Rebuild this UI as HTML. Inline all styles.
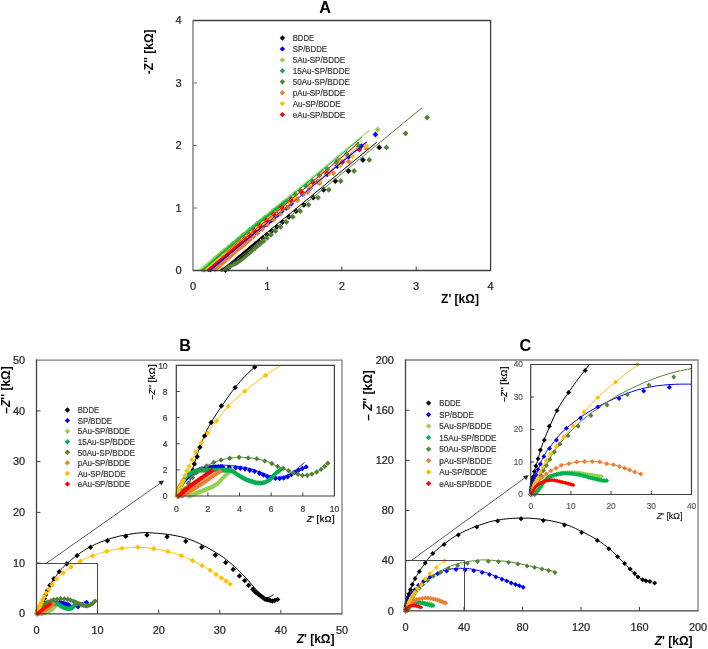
<!DOCTYPE html><html><head><meta charset="utf-8"><style>html,body{margin:0;padding:0;background:#fff;}svg{display:block;will-change:transform;}</style></head><body><svg width="708" height="649" viewBox="0 0 708 649" font-family='"Liberation Sans", sans-serif'><rect width="708" height="649" fill="#fff"/><text x="325" y="12.9" font-size="16.2" text-anchor="middle" font-weight="bold" fill="#000" >A</text><text x="460" y="302.8" font-size="12" text-anchor="middle" font-weight="bold" fill="#000" >Z' [kΩ]</text><g transform="translate(153.2 51.8) rotate(-90)"><text x="0" y="0" font-size="12" text-anchor="middle" font-weight="bold" fill="#000" >-Z'' [kΩ]</text></g><text x="193" y="289.7" font-size="10.3" text-anchor="middle" font-weight="normal" fill="#262626" stroke="#262626" stroke-width="0.22" textLength="6.2" lengthAdjust="spacingAndGlyphs">0</text><text x="181.8" y="274.2" font-size="10.3" text-anchor="end" font-weight="normal" fill="#262626" stroke="#262626" stroke-width="0.22" textLength="6.2" lengthAdjust="spacingAndGlyphs">0</text><text x="267.4" y="289.7" font-size="10.3" text-anchor="middle" font-weight="normal" fill="#262626" stroke="#262626" stroke-width="0.22" textLength="6.2" lengthAdjust="spacingAndGlyphs">1</text><text x="181.8" y="211.7" font-size="10.3" text-anchor="end" font-weight="normal" fill="#262626" stroke="#262626" stroke-width="0.22" textLength="6.2" lengthAdjust="spacingAndGlyphs">1</text><text x="341.8" y="289.7" font-size="10.3" text-anchor="middle" font-weight="normal" fill="#262626" stroke="#262626" stroke-width="0.22" textLength="6.2" lengthAdjust="spacingAndGlyphs">2</text><text x="181.8" y="149.2" font-size="10.3" text-anchor="end" font-weight="normal" fill="#262626" stroke="#262626" stroke-width="0.22" textLength="6.2" lengthAdjust="spacingAndGlyphs">2</text><text x="416.2" y="289.7" font-size="10.3" text-anchor="middle" font-weight="normal" fill="#262626" stroke="#262626" stroke-width="0.22" textLength="6.2" lengthAdjust="spacingAndGlyphs">3</text><text x="181.8" y="86.7" font-size="10.3" text-anchor="end" font-weight="normal" fill="#262626" stroke="#262626" stroke-width="0.22" textLength="6.2" lengthAdjust="spacingAndGlyphs">3</text><text x="490.6" y="289.7" font-size="10.3" text-anchor="middle" font-weight="normal" fill="#262626" stroke="#262626" stroke-width="0.22" textLength="6.2" lengthAdjust="spacingAndGlyphs">4</text><text x="181.8" y="24.2" font-size="10.3" text-anchor="end" font-weight="normal" fill="#262626" stroke="#262626" stroke-width="0.22" textLength="6.2" lengthAdjust="spacingAndGlyphs">4</text><path fill="#000000" d="M379.3 144.5l2.9 2.9l-2.9 2.9l-2.9 -2.9zM362.9 157l2.9 2.9l-2.9 2.9l-2.9 -2.9zM348.3 168.1l2.9 2.9l-2.9 2.9l-2.9 -2.9zM335.2 178.1l2.9 2.9l-2.9 2.9l-2.9 -2.9zM323.6 186.9l2.9 2.9l-2.9 2.9l-2.9 -2.9zM313.2 194.8l2.9 2.9l-2.9 2.9l-2.9 -2.9zM303.9 201.9l2.9 2.9l-2.9 2.9l-2.9 -2.9zM296 208.3l2.9 2.9l-2.9 2.9l-2.9 -2.9zM288.9 214l2.9 2.9l-2.9 2.9l-2.9 -2.9zM282.5 219.2l2.9 2.9l-2.9 2.9l-2.9 -2.9zM276.8 223.9l2.9 2.9l-2.9 2.9l-2.9 -2.9zM271.6 228.1l2.9 2.9l-2.9 2.9l-2.9 -2.9zM266.9 231.9l2.9 2.9l-2.9 2.9l-2.9 -2.9zM262.7 235.2l2.9 2.9l-2.9 2.9l-2.9 -2.9zM259 238.3l2.9 2.9l-2.9 2.9l-2.9 -2.9zM255.7 240.9l2.9 2.9l-2.9 2.9l-2.9 -2.9zM254.9 241.6l2.9 2.9l-2.9 2.9l-2.9 -2.9zM252.6 243.6l2.9 2.9l-2.9 2.9l-2.9 -2.9zM250.4 245.5l2.9 2.9l-2.9 2.9l-2.9 -2.9zM248.1 247.5l2.9 2.9l-2.9 2.9l-2.9 -2.9zM245.8 249.4l2.9 2.9l-2.9 2.9l-2.9 -2.9zM243.5 251.4l2.9 2.9l-2.9 2.9l-2.9 -2.9zM241.3 253.3l2.9 2.9l-2.9 2.9l-2.9 -2.9zM239 255.3l2.9 2.9l-2.9 2.9l-2.9 -2.9zM236.7 257.3l2.9 2.9l-2.9 2.9l-2.9 -2.9zM234.5 259.3l2.9 2.9l-2.9 2.9l-2.9 -2.9zM232.3 261.3l2.9 2.9l-2.9 2.9l-2.9 -2.9zM230.1 263.3l2.9 2.9l-2.9 2.9l-2.9 -2.9zM227.8 265.3l2.9 2.9l-2.9 2.9l-2.9 -2.9zM225.5 267.2l2.9 2.9l-2.9 2.9l-2.9 -2.9z"/><path fill="#0000FF" d="M375.5 131.6l2.9 2.9l-2.9 2.9l-2.9 -2.9zM361.2 143.3l2.9 2.9l-2.9 2.9l-2.9 -2.9zM348.5 153.8l2.9 2.9l-2.9 2.9l-2.9 -2.9zM337.2 163.1l2.9 2.9l-2.9 2.9l-2.9 -2.9zM327.1 171.4l2.9 2.9l-2.9 2.9l-2.9 -2.9zM318.1 178.7l2.9 2.9l-2.9 2.9l-2.9 -2.9zM310.1 185.3l2.9 2.9l-2.9 2.9l-2.9 -2.9zM303 191.1l2.9 2.9l-2.9 2.9l-2.9 -2.9zM296.7 196.3l2.9 2.9l-2.9 2.9l-2.9 -2.9zM291.1 200.9l2.9 2.9l-2.9 2.9l-2.9 -2.9zM286.1 205.1l2.9 2.9l-2.9 2.9l-2.9 -2.9zM281.6 208.7l2.9 2.9l-2.9 2.9l-2.9 -2.9zM277.6 212l2.9 2.9l-2.9 2.9l-2.9 -2.9zM274.1 214.9l2.9 2.9l-2.9 2.9l-2.9 -2.9zM271 217.5l2.9 2.9l-2.9 2.9l-2.9 -2.9zM268.2 219.8l2.9 2.9l-2.9 2.9l-2.9 -2.9zM265.7 221.8l2.9 2.9l-2.9 2.9l-2.9 -2.9z"/><path fill="#0000FF" d="M263.5 224.2l2.3 2.3l-2.3 2.3l-2.3 -2.3zM261.5 225.8l2.3 2.3l-2.3 2.3l-2.3 -2.3zM259.7 227.3l2.3 2.3l-2.3 2.3l-2.3 -2.3zM258.2 228.6l2.3 2.3l-2.3 2.3l-2.3 -2.3zM256.8 229.7l2.3 2.3l-2.3 2.3l-2.3 -2.3zM255.5 230.7l2.3 2.3l-2.3 2.3l-2.3 -2.3zM254.4 231.7l2.3 2.3l-2.3 2.3l-2.3 -2.3zM253.2 232.6l2.3 2.3l-2.3 2.3l-2.3 -2.3zM252.1 233.6l2.3 2.3l-2.3 2.3l-2.3 -2.3zM250.9 234.5l2.3 2.3l-2.3 2.3l-2.3 -2.3zM249.7 235.5l2.3 2.3l-2.3 2.3l-2.3 -2.3zM248.6 236.4l2.3 2.3l-2.3 2.3l-2.3 -2.3zM247.4 237.4l2.3 2.3l-2.3 2.3l-2.3 -2.3zM246.3 238.3l2.3 2.3l-2.3 2.3l-2.3 -2.3zM245.1 239.3l2.3 2.3l-2.3 2.3l-2.3 -2.3zM243.9 240.2l2.3 2.3l-2.3 2.3l-2.3 -2.3zM242.8 241.2l2.3 2.3l-2.3 2.3l-2.3 -2.3zM241.6 242.1l2.3 2.3l-2.3 2.3l-2.3 -2.3zM240.5 243.1l2.3 2.3l-2.3 2.3l-2.3 -2.3zM239.3 244l2.3 2.3l-2.3 2.3l-2.3 -2.3zM238.2 245l2.3 2.3l-2.3 2.3l-2.3 -2.3zM237 245.9l2.3 2.3l-2.3 2.3l-2.3 -2.3zM235.8 246.9l2.3 2.3l-2.3 2.3l-2.3 -2.3zM234.7 247.9l2.3 2.3l-2.3 2.3l-2.3 -2.3zM233.5 248.8l2.3 2.3l-2.3 2.3l-2.3 -2.3zM232.4 249.8l2.3 2.3l-2.3 2.3l-2.3 -2.3zM231.2 250.7l2.3 2.3l-2.3 2.3l-2.3 -2.3zM230 251.7l2.3 2.3l-2.3 2.3l-2.3 -2.3zM228.9 252.6l2.3 2.3l-2.3 2.3l-2.3 -2.3zM227.7 253.6l2.3 2.3l-2.3 2.3l-2.3 -2.3zM226.6 254.5l2.3 2.3l-2.3 2.3l-2.3 -2.3zM225.4 255.5l2.3 2.3l-2.3 2.3l-2.3 -2.3zM224.2 256.4l2.3 2.3l-2.3 2.3l-2.3 -2.3zM223.1 257.4l2.3 2.3l-2.3 2.3l-2.3 -2.3zM221.9 258.3l2.3 2.3l-2.3 2.3l-2.3 -2.3zM220.8 259.3l2.3 2.3l-2.3 2.3l-2.3 -2.3zM219.6 260.2l2.3 2.3l-2.3 2.3l-2.3 -2.3zM218.4 261.2l2.3 2.3l-2.3 2.3l-2.3 -2.3zM217.3 262.1l2.3 2.3l-2.3 2.3l-2.3 -2.3zM216.1 263.1l2.3 2.3l-2.3 2.3l-2.3 -2.3zM215 264l2.3 2.3l-2.3 2.3l-2.3 -2.3zM213.8 265l2.3 2.3l-2.3 2.3l-2.3 -2.3zM212.6 265.9l2.3 2.3l-2.3 2.3l-2.3 -2.3zM211.5 266.9l2.3 2.3l-2.3 2.3l-2.3 -2.3zM210.3 267.8l2.3 2.3l-2.3 2.3l-2.3 -2.3z"/><path fill="#92D050" d="M377.7 126.6l2.9 2.9l-2.9 2.9l-2.9 -2.9zM357.1 142.4l2.9 2.9l-2.9 2.9l-2.9 -2.9zM338.7 156.5l2.9 2.9l-2.9 2.9l-2.9 -2.9zM322.4 169.1l2.9 2.9l-2.9 2.9l-2.9 -2.9zM307.9 180.3l2.9 2.9l-2.9 2.9l-2.9 -2.9zM295.1 190.4l2.9 2.9l-2.9 2.9l-2.9 -2.9zM283.7 199.4l2.9 2.9l-2.9 2.9l-2.9 -2.9zM273.6 207.4l2.9 2.9l-2.9 2.9l-2.9 -2.9zM264.6 214.6l2.9 2.9l-2.9 2.9l-2.9 -2.9zM256.6 221l2.9 2.9l-2.9 2.9l-2.9 -2.9zM249.5 226.7l2.9 2.9l-2.9 2.9l-2.9 -2.9zM243.2 231.9l2.9 2.9l-2.9 2.9l-2.9 -2.9zM237.7 236.5l2.9 2.9l-2.9 2.9l-2.9 -2.9zM232.8 240.6l2.9 2.9l-2.9 2.9l-2.9 -2.9zM228.4 244.3l2.9 2.9l-2.9 2.9l-2.9 -2.9zM224.5 247.6l2.9 2.9l-2.9 2.9l-2.9 -2.9zM221.1 250.6l2.9 2.9l-2.9 2.9l-2.9 -2.9zM218.1 253.2l2.9 2.9l-2.9 2.9l-2.9 -2.9zM215.4 255.6l2.9 2.9l-2.9 2.9l-2.9 -2.9z"/><path fill="#92D050" d="M213 258.3l2.3 2.3l-2.3 2.3l-2.3 -2.3zM210.8 260.1l2.3 2.3l-2.3 2.3l-2.3 -2.3zM208.9 261.8l2.3 2.3l-2.3 2.3l-2.3 -2.3zM207.3 263.3l2.3 2.3l-2.3 2.3l-2.3 -2.3zM205.8 264.6l2.3 2.3l-2.3 2.3l-2.3 -2.3zM204.4 265.8l2.3 2.3l-2.3 2.3l-2.3 -2.3zM203.2 266.8l2.3 2.3l-2.3 2.3l-2.3 -2.3zM202.1 267.8l2.3 2.3l-2.3 2.3l-2.3 -2.3z"/><path fill="#00B050" d="M358 142.1l2.9 2.9l-2.9 2.9l-2.9 -2.9zM346.6 151.1l2.9 2.9l-2.9 2.9l-2.9 -2.9zM336.5 159.1l2.9 2.9l-2.9 2.9l-2.9 -2.9zM327.5 166.2l2.9 2.9l-2.9 2.9l-2.9 -2.9zM319.4 172.5l2.9 2.9l-2.9 2.9l-2.9 -2.9zM312.3 178.1l2.9 2.9l-2.9 2.9l-2.9 -2.9zM305.9 183.2l2.9 2.9l-2.9 2.9l-2.9 -2.9zM300.3 187.6l2.9 2.9l-2.9 2.9l-2.9 -2.9zM295.2 191.6l2.9 2.9l-2.9 2.9l-2.9 -2.9zM290.7 195.1l2.9 2.9l-2.9 2.9l-2.9 -2.9zM286.7 198.2l2.9 2.9l-2.9 2.9l-2.9 -2.9zM283.1 200.9l2.9 2.9l-2.9 2.9l-2.9 -2.9zM279.9 203.4l2.9 2.9l-2.9 2.9l-2.9 -2.9zM277.1 205.6l2.9 2.9l-2.9 2.9l-2.9 -2.9z"/><path fill="#00B050" d="M274.5 208.1l2.3 2.3l-2.3 2.3l-2.3 -2.3zM272.3 209.8l2.3 2.3l-2.3 2.3l-2.3 -2.3zM270.3 211.4l2.3 2.3l-2.3 2.3l-2.3 -2.3zM268.5 212.7l2.3 2.3l-2.3 2.3l-2.3 -2.3zM266.9 214l2.3 2.3l-2.3 2.3l-2.3 -2.3zM265.5 215l2.3 2.3l-2.3 2.3l-2.3 -2.3zM264.3 216l2.3 2.3l-2.3 2.3l-2.3 -2.3zM263.1 216.9l2.3 2.3l-2.3 2.3l-2.3 -2.3zM261.9 217.8l2.3 2.3l-2.3 2.3l-2.3 -2.3zM260.7 218.8l2.3 2.3l-2.3 2.3l-2.3 -2.3zM259.5 219.7l2.3 2.3l-2.3 2.3l-2.3 -2.3zM258.3 220.6l2.3 2.3l-2.3 2.3l-2.3 -2.3zM257.2 221.5l2.3 2.3l-2.3 2.3l-2.3 -2.3zM256 222.5l2.3 2.3l-2.3 2.3l-2.3 -2.3zM254.8 223.4l2.3 2.3l-2.3 2.3l-2.3 -2.3zM253.6 224.3l2.3 2.3l-2.3 2.3l-2.3 -2.3zM252.4 225.2l2.3 2.3l-2.3 2.3l-2.3 -2.3zM251.3 226.2l2.3 2.3l-2.3 2.3l-2.3 -2.3zM250.1 227.1l2.3 2.3l-2.3 2.3l-2.3 -2.3zM248.9 228.1l2.3 2.3l-2.3 2.3l-2.3 -2.3zM247.8 229l2.3 2.3l-2.3 2.3l-2.3 -2.3zM246.6 229.9l2.3 2.3l-2.3 2.3l-2.3 -2.3zM245.4 230.9l2.3 2.3l-2.3 2.3l-2.3 -2.3zM244.3 231.8l2.3 2.3l-2.3 2.3l-2.3 -2.3zM243.1 232.8l2.3 2.3l-2.3 2.3l-2.3 -2.3zM242 233.7l2.3 2.3l-2.3 2.3l-2.3 -2.3zM240.8 234.7l2.3 2.3l-2.3 2.3l-2.3 -2.3zM239.7 235.7l2.3 2.3l-2.3 2.3l-2.3 -2.3zM238.5 236.6l2.3 2.3l-2.3 2.3l-2.3 -2.3zM237.4 237.6l2.3 2.3l-2.3 2.3l-2.3 -2.3zM236.2 238.6l2.3 2.3l-2.3 2.3l-2.3 -2.3zM235.1 239.6l2.3 2.3l-2.3 2.3l-2.3 -2.3zM234 240.6l2.3 2.3l-2.3 2.3l-2.3 -2.3zM232.8 241.5l2.3 2.3l-2.3 2.3l-2.3 -2.3zM231.7 242.5l2.3 2.3l-2.3 2.3l-2.3 -2.3zM230.6 243.5l2.3 2.3l-2.3 2.3l-2.3 -2.3zM229.5 244.5l2.3 2.3l-2.3 2.3l-2.3 -2.3zM228.4 245.5l2.3 2.3l-2.3 2.3l-2.3 -2.3zM227.2 246.5l2.3 2.3l-2.3 2.3l-2.3 -2.3zM226.1 247.5l2.3 2.3l-2.3 2.3l-2.3 -2.3zM225 248.6l2.3 2.3l-2.3 2.3l-2.3 -2.3zM223.9 249.6l2.3 2.3l-2.3 2.3l-2.3 -2.3zM222.8 250.6l2.3 2.3l-2.3 2.3l-2.3 -2.3zM221.7 251.6l2.3 2.3l-2.3 2.3l-2.3 -2.3zM220.6 252.6l2.3 2.3l-2.3 2.3l-2.3 -2.3zM219.5 253.6l2.3 2.3l-2.3 2.3l-2.3 -2.3zM218.4 254.6l2.3 2.3l-2.3 2.3l-2.3 -2.3zM217.3 255.7l2.3 2.3l-2.3 2.3l-2.3 -2.3zM216.2 256.7l2.3 2.3l-2.3 2.3l-2.3 -2.3zM215.1 257.7l2.3 2.3l-2.3 2.3l-2.3 -2.3zM214 258.7l2.3 2.3l-2.3 2.3l-2.3 -2.3zM212.9 259.8l2.3 2.3l-2.3 2.3l-2.3 -2.3zM211.8 260.8l2.3 2.3l-2.3 2.3l-2.3 -2.3zM210.7 261.8l2.3 2.3l-2.3 2.3l-2.3 -2.3zM209.6 262.9l2.3 2.3l-2.3 2.3l-2.3 -2.3zM208.5 263.9l2.3 2.3l-2.3 2.3l-2.3 -2.3zM207.5 264.9l2.3 2.3l-2.3 2.3l-2.3 -2.3zM206.4 265.9l2.3 2.3l-2.3 2.3l-2.3 -2.3zM205.3 267l2.3 2.3l-2.3 2.3l-2.3 -2.3zM204.1 268l2.3 2.3l-2.3 2.3l-2.3 -2.3z"/><path fill="#548235" d="M427.1 114.7l2.9 2.9l-2.9 2.9l-2.9 -2.9zM405.6 130.5l2.9 2.9l-2.9 2.9l-2.9 -2.9zM386.4 144.5l2.9 2.9l-2.9 2.9l-2.9 -2.9zM369.3 157l2.9 2.9l-2.9 2.9l-2.9 -2.9zM354.1 168.1l2.9 2.9l-2.9 2.9l-2.9 -2.9zM340.7 178.1l2.9 2.9l-2.9 2.9l-2.9 -2.9zM328.7 186.9l2.9 2.9l-2.9 2.9l-2.9 -2.9zM318 194.8l2.9 2.9l-2.9 2.9l-2.9 -2.9zM308.6 201.9l2.9 2.9l-2.9 2.9l-2.9 -2.9zM300.2 208.3l2.9 2.9l-2.9 2.9l-2.9 -2.9zM292.8 214l2.9 2.9l-2.9 2.9l-2.9 -2.9zM286.3 219.2l2.9 2.9l-2.9 2.9l-2.9 -2.9zM280.5 223.9l2.9 2.9l-2.9 2.9l-2.9 -2.9zM275.4 228.1l2.9 2.9l-2.9 2.9l-2.9 -2.9zM271 231.9l2.9 2.9l-2.9 2.9l-2.9 -2.9zM267 235.2l2.9 2.9l-2.9 2.9l-2.9 -2.9zM263.5 238.3l2.9 2.9l-2.9 2.9l-2.9 -2.9zM260.3 240.9l2.9 2.9l-2.9 2.9l-2.9 -2.9zM257.5 243.3l2.9 2.9l-2.9 2.9l-2.9 -2.9zM255 245.4l2.9 2.9l-2.9 2.9l-2.9 -2.9z"/><path fill="#548235" d="M252.8 248l2.3 2.3l-2.3 2.3l-2.3 -2.3zM251 249.8l2.3 2.3l-2.3 2.3l-2.3 -2.3zM249.2 251.3l2.3 2.3l-2.3 2.3l-2.3 -2.3zM247.6 252.6l2.3 2.3l-2.3 2.3l-2.3 -2.3zM246.2 253.8l2.3 2.3l-2.3 2.3l-2.3 -2.3zM245 254.8l2.3 2.3l-2.3 2.3l-2.3 -2.3zM243.8 255.8l2.3 2.3l-2.3 2.3l-2.3 -2.3zM242.7 256.7l2.3 2.3l-2.3 2.3l-2.3 -2.3zM241.5 257.7l2.3 2.3l-2.3 2.3l-2.3 -2.3zM240.3 258.6l2.3 2.3l-2.3 2.3l-2.3 -2.3zM239.1 259.4l2.3 2.3l-2.3 2.3l-2.3 -2.3zM237.8 260.3l2.3 2.3l-2.3 2.3l-2.3 -2.3zM236.5 261.1l2.3 2.3l-2.3 2.3l-2.3 -2.3zM235.2 261.8l2.3 2.3l-2.3 2.3l-2.3 -2.3zM233.9 262.4l2.3 2.3l-2.3 2.3l-2.3 -2.3zM232.5 263l2.3 2.3l-2.3 2.3l-2.3 -2.3zM231.1 263.6l2.3 2.3l-2.3 2.3l-2.3 -2.3zM229.7 264.2l2.3 2.3l-2.3 2.3l-2.3 -2.3zM228.3 264.8l2.3 2.3l-2.3 2.3l-2.3 -2.3zM227 265.4l2.3 2.3l-2.3 2.3l-2.3 -2.3zM225.6 266l2.3 2.3l-2.3 2.3l-2.3 -2.3zM224.2 266.6l2.3 2.3l-2.3 2.3l-2.3 -2.3zM222.8 267.1l2.3 2.3l-2.3 2.3l-2.3 -2.3zM221.4 267.7l2.3 2.3l-2.3 2.3l-2.3 -2.3z"/><path fill="#ED7D31" d="M366.3 145.6l2.9 2.9l-2.9 2.9l-2.9 -2.9zM348.7 158.7l2.9 2.9l-2.9 2.9l-2.9 -2.9zM333.3 170.2l2.9 2.9l-2.9 2.9l-2.9 -2.9zM319.7 180.4l2.9 2.9l-2.9 2.9l-2.9 -2.9zM307.8 189.4l2.9 2.9l-2.9 2.9l-2.9 -2.9zM297.4 197.4l2.9 2.9l-2.9 2.9l-2.9 -2.9zM288.3 204.6l2.9 2.9l-2.9 2.9l-2.9 -2.9zM280.4 211l2.9 2.9l-2.9 2.9l-2.9 -2.9zM273.6 216.7l2.9 2.9l-2.9 2.9l-2.9 -2.9zM267.5 221.7l2.9 2.9l-2.9 2.9l-2.9 -2.9zM262.2 226.2l2.9 2.9l-2.9 2.9l-2.9 -2.9zM257.6 230.2l2.9 2.9l-2.9 2.9l-2.9 -2.9zM253.5 233.7l2.9 2.9l-2.9 2.9l-2.9 -2.9zM249.9 236.7l2.9 2.9l-2.9 2.9l-2.9 -2.9zM246.8 239.4l2.9 2.9l-2.9 2.9l-2.9 -2.9zM244 241.8l2.9 2.9l-2.9 2.9l-2.9 -2.9zM241.6 243.9l2.9 2.9l-2.9 2.9l-2.9 -2.9z"/><path fill="#ED7D31" d="M239.4 246.4l2.3 2.3l-2.3 2.3l-2.3 -2.3zM237.5 248l2.3 2.3l-2.3 2.3l-2.3 -2.3zM235.9 249.5l2.3 2.3l-2.3 2.3l-2.3 -2.3zM234.4 250.7l2.3 2.3l-2.3 2.3l-2.3 -2.3zM233.2 251.9l2.3 2.3l-2.3 2.3l-2.3 -2.3zM232 252.8l2.3 2.3l-2.3 2.3l-2.3 -2.3zM230.9 253.8l2.3 2.3l-2.3 2.3l-2.3 -2.3zM229.8 254.8l2.3 2.3l-2.3 2.3l-2.3 -2.3zM228.7 255.8l2.3 2.3l-2.3 2.3l-2.3 -2.3zM227.5 256.8l2.3 2.3l-2.3 2.3l-2.3 -2.3zM226.4 257.8l2.3 2.3l-2.3 2.3l-2.3 -2.3zM225.3 258.8l2.3 2.3l-2.3 2.3l-2.3 -2.3zM224.2 259.8l2.3 2.3l-2.3 2.3l-2.3 -2.3zM223 260.8l2.3 2.3l-2.3 2.3l-2.3 -2.3zM221.9 261.8l2.3 2.3l-2.3 2.3l-2.3 -2.3zM220.8 262.8l2.3 2.3l-2.3 2.3l-2.3 -2.3zM219.7 263.8l2.3 2.3l-2.3 2.3l-2.3 -2.3zM218.6 264.8l2.3 2.3l-2.3 2.3l-2.3 -2.3zM217.4 265.8l2.3 2.3l-2.3 2.3l-2.3 -2.3zM216.3 266.8l2.3 2.3l-2.3 2.3l-2.3 -2.3zM215.2 267.8l2.3 2.3l-2.3 2.3l-2.3 -2.3z"/><path fill="#FFC000" d="M366.3 143l2.9 2.9l-2.9 2.9l-2.9 -2.9zM352.4 153.3l2.9 2.9l-2.9 2.9l-2.9 -2.9zM340.1 162.6l2.9 2.9l-2.9 2.9l-2.9 -2.9zM329.1 170.8l2.9 2.9l-2.9 2.9l-2.9 -2.9zM319.4 178.1l2.9 2.9l-2.9 2.9l-2.9 -2.9zM310.7 184.6l2.9 2.9l-2.9 2.9l-2.9 -2.9zM303 190.4l2.9 2.9l-2.9 2.9l-2.9 -2.9zM296.1 195.6l2.9 2.9l-2.9 2.9l-2.9 -2.9zM290 200.2l2.9 2.9l-2.9 2.9l-2.9 -2.9zM284.5 204.3l2.9 2.9l-2.9 2.9l-2.9 -2.9zM279.7 207.9l2.9 2.9l-2.9 2.9l-2.9 -2.9zM275.4 211.2l2.9 2.9l-2.9 2.9l-2.9 -2.9zM271.6 214.1l2.9 2.9l-2.9 2.9l-2.9 -2.9zM268.2 216.7l2.9 2.9l-2.9 2.9l-2.9 -2.9zM265.2 219l2.9 2.9l-2.9 2.9l-2.9 -2.9zM262.5 221l2.9 2.9l-2.9 2.9l-2.9 -2.9z"/><path fill="#FFC000" d="M260.1 223.5l2.3 2.3l-2.3 2.3l-2.3 -2.3zM257.9 225.1l2.3 2.3l-2.3 2.3l-2.3 -2.3zM256.1 226.6l2.3 2.3l-2.3 2.3l-2.3 -2.3zM254.4 227.9l2.3 2.3l-2.3 2.3l-2.3 -2.3zM252.9 229l2.3 2.3l-2.3 2.3l-2.3 -2.3zM251.6 230l2.3 2.3l-2.3 2.3l-2.3 -2.3zM250.4 231l2.3 2.3l-2.3 2.3l-2.3 -2.3zM249.2 231.9l2.3 2.3l-2.3 2.3l-2.3 -2.3zM248 232.8l2.3 2.3l-2.3 2.3l-2.3 -2.3zM246.8 233.8l2.3 2.3l-2.3 2.3l-2.3 -2.3zM245.7 234.7l2.3 2.3l-2.3 2.3l-2.3 -2.3zM244.5 235.6l2.3 2.3l-2.3 2.3l-2.3 -2.3zM243.3 236.6l2.3 2.3l-2.3 2.3l-2.3 -2.3zM242.2 237.5l2.3 2.3l-2.3 2.3l-2.3 -2.3zM241 238.4l2.3 2.3l-2.3 2.3l-2.3 -2.3zM239.8 239.4l2.3 2.3l-2.3 2.3l-2.3 -2.3zM238.7 240.3l2.3 2.3l-2.3 2.3l-2.3 -2.3zM237.5 241.3l2.3 2.3l-2.3 2.3l-2.3 -2.3zM236.3 242.2l2.3 2.3l-2.3 2.3l-2.3 -2.3zM235.2 243.2l2.3 2.3l-2.3 2.3l-2.3 -2.3zM234 244.1l2.3 2.3l-2.3 2.3l-2.3 -2.3zM232.9 245.1l2.3 2.3l-2.3 2.3l-2.3 -2.3zM231.7 246.1l2.3 2.3l-2.3 2.3l-2.3 -2.3zM230.6 247l2.3 2.3l-2.3 2.3l-2.3 -2.3zM229.4 248l2.3 2.3l-2.3 2.3l-2.3 -2.3zM228.3 248.9l2.3 2.3l-2.3 2.3l-2.3 -2.3zM227.1 249.9l2.3 2.3l-2.3 2.3l-2.3 -2.3zM226 250.9l2.3 2.3l-2.3 2.3l-2.3 -2.3zM224.8 251.9l2.3 2.3l-2.3 2.3l-2.3 -2.3zM223.7 252.8l2.3 2.3l-2.3 2.3l-2.3 -2.3zM222.6 253.8l2.3 2.3l-2.3 2.3l-2.3 -2.3zM221.4 254.8l2.3 2.3l-2.3 2.3l-2.3 -2.3zM220.3 255.8l2.3 2.3l-2.3 2.3l-2.3 -2.3zM219.1 256.7l2.3 2.3l-2.3 2.3l-2.3 -2.3zM218 257.7l2.3 2.3l-2.3 2.3l-2.3 -2.3zM216.9 258.7l2.3 2.3l-2.3 2.3l-2.3 -2.3zM215.7 259.7l2.3 2.3l-2.3 2.3l-2.3 -2.3zM214.6 260.7l2.3 2.3l-2.3 2.3l-2.3 -2.3zM213.5 261.7l2.3 2.3l-2.3 2.3l-2.3 -2.3zM212.3 262.6l2.3 2.3l-2.3 2.3l-2.3 -2.3zM211.2 263.6l2.3 2.3l-2.3 2.3l-2.3 -2.3zM210.1 264.6l2.3 2.3l-2.3 2.3l-2.3 -2.3zM208.9 265.6l2.3 2.3l-2.3 2.3l-2.3 -2.3zM207.8 266.6l2.3 2.3l-2.3 2.3l-2.3 -2.3zM206.7 267.5l2.3 2.3l-2.3 2.3l-2.3 -2.3z"/><path fill="#FF0000" d="M359.4 146.8l2.9 2.9l-2.9 2.9l-2.9 -2.9zM342.2 159.2l2.9 2.9l-2.9 2.9l-2.9 -2.9zM326.9 170.2l2.9 2.9l-2.9 2.9l-2.9 -2.9zM313.3 180.1l2.9 2.9l-2.9 2.9l-2.9 -2.9zM301.4 189.1l2.9 2.9l-2.9 2.9l-2.9 -2.9zM290.9 197.3l2.9 2.9l-2.9 2.9l-2.9 -2.9zM281.7 204.7l2.9 2.9l-2.9 2.9l-2.9 -2.9zM273.6 211.4l2.9 2.9l-2.9 2.9l-2.9 -2.9zM266.4 217.5l2.9 2.9l-2.9 2.9l-2.9 -2.9zM260 222.9l2.9 2.9l-2.9 2.9l-2.9 -2.9zM254.3 227.6l2.9 2.9l-2.9 2.9l-2.9 -2.9zM249.3 231.9l2.9 2.9l-2.9 2.9l-2.9 -2.9zM244.8 235.7l2.9 2.9l-2.9 2.9l-2.9 -2.9zM240.9 239.2l2.9 2.9l-2.9 2.9l-2.9 -2.9zM237.3 242.2l2.9 2.9l-2.9 2.9l-2.9 -2.9zM234.2 244.9l2.9 2.9l-2.9 2.9l-2.9 -2.9zM231.4 247.3l2.9 2.9l-2.9 2.9l-2.9 -2.9zM228.9 249.5l2.9 2.9l-2.9 2.9l-2.9 -2.9z"/><path fill="#FF0000" d="M226.7 252l2.3 2.3l-2.3 2.3l-2.3 -2.3zM224.7 253.7l2.3 2.3l-2.3 2.3l-2.3 -2.3zM223 255.2l2.3 2.3l-2.3 2.3l-2.3 -2.3zM221.4 256.5l2.3 2.3l-2.3 2.3l-2.3 -2.3zM220 257.7l2.3 2.3l-2.3 2.3l-2.3 -2.3zM218.8 258.8l2.3 2.3l-2.3 2.3l-2.3 -2.3zM217.6 259.8l2.3 2.3l-2.3 2.3l-2.3 -2.3zM216.5 260.8l2.3 2.3l-2.3 2.3l-2.3 -2.3zM215.4 261.7l2.3 2.3l-2.3 2.3l-2.3 -2.3zM214.2 262.7l2.3 2.3l-2.3 2.3l-2.3 -2.3zM213.1 263.7l2.3 2.3l-2.3 2.3l-2.3 -2.3zM212 264.7l2.3 2.3l-2.3 2.3l-2.3 -2.3zM210.8 265.7l2.3 2.3l-2.3 2.3l-2.3 -2.3zM209.7 266.6l2.3 2.3l-2.3 2.3l-2.3 -2.3zM208.6 267.6l2.3 2.3l-2.3 2.3l-2.3 -2.3z"/><path fill="none" stroke="#000000" stroke-width="1" d="M221 270.4L376.6 142.3"/><path fill="none" stroke="#0000FF" stroke-width="1.1" d="M209.6 270.4L366.5 142"/><path fill="none" stroke="#92D050" stroke-width="1.8" stroke-opacity="0.6" d="M198.5 270.4L369.6 130.3"/><path fill="none" stroke="#00B050" stroke-width="1" d="M202 270.4L362 137"/><path fill="none" stroke="#548235" stroke-width="1" d="M224 270.4L421.7 108.1"/><path fill="none" stroke="#ED7D31" stroke-width="1" d="M212 270.4L357 148"/><path fill="none" stroke="#FFC000" stroke-width="1" d="M205 270.4L362.6 140.4"/><path fill="none" stroke="#FF0000" stroke-width="1" d="M207 270.4L359 142.5"/><path fill="none" stroke="#404040" stroke-width="1.3" d="M193 270.5H490.6V20.5H193"/><path fill="none" stroke="#707070" stroke-width="1.3" d="M193 19.9V271.1"/><path stroke="#404040" stroke-width="1" d="M267.4 270.5V266.5M341.8 270.5V266.5M416.2 270.5V266.5"/><path stroke="#707070" stroke-width="1" d="M193 208H197M193 145.5H197M193 83H197"/><path fill="#000000" d="M282.4 35.3l2.7 2.7l-2.7 2.7l-2.7 -2.7z"/><text x="292.7" y="41.1" font-size="8.7" text-anchor="start" font-weight="normal" fill="#383838" stroke="#383838" stroke-width="0.22" textLength="21.4" lengthAdjust="spacingAndGlyphs">BDDE</text><path fill="#0000FF" d="M282.4 46.2l2.7 2.7l-2.7 2.7l-2.7 -2.7z"/><text x="292.7" y="52.1" font-size="8.7" text-anchor="start" font-weight="normal" fill="#383838" stroke="#383838" stroke-width="0.22" textLength="34.4" lengthAdjust="spacingAndGlyphs">SP/BDDE</text><path fill="#92D050" d="M282.4 57.2l2.7 2.7l-2.7 2.7l-2.7 -2.7z"/><text x="292.7" y="63" font-size="8.7" text-anchor="start" font-weight="normal" fill="#383838" stroke="#383838" stroke-width="0.22" textLength="52.5" lengthAdjust="spacingAndGlyphs">5Au-SP/BDDE</text><path fill="#00B050" d="M282.4 68.1l2.7 2.7l-2.7 2.7l-2.7 -2.7z"/><text x="292.7" y="74" font-size="8.7" text-anchor="start" font-weight="normal" fill="#383838" stroke="#383838" stroke-width="0.22" textLength="57.2" lengthAdjust="spacingAndGlyphs">15Au-SP/BDDE</text><path fill="#548235" d="M282.4 79.1l2.7 2.7l-2.7 2.7l-2.7 -2.7z"/><text x="292.7" y="84.9" font-size="8.7" text-anchor="start" font-weight="normal" fill="#383838" stroke="#383838" stroke-width="0.22" textLength="57.2" lengthAdjust="spacingAndGlyphs">50Au-SP/BDDE</text><path fill="#ED7D31" d="M282.4 90l2.7 2.7l-2.7 2.7l-2.7 -2.7z"/><text x="292.7" y="95.8" font-size="8.7" text-anchor="start" font-weight="normal" fill="#383838" stroke="#383838" stroke-width="0.22" textLength="52.5" lengthAdjust="spacingAndGlyphs">pAu-SP/BDDE</text><path fill="#FFC000" d="M282.4 100.9l2.7 2.7l-2.7 2.7l-2.7 -2.7z"/><text x="292.7" y="106.8" font-size="8.7" text-anchor="start" font-weight="normal" fill="#383838" stroke="#383838" stroke-width="0.22" textLength="47.9" lengthAdjust="spacingAndGlyphs">Au-SP/BDDE</text><path fill="#FF0000" d="M282.4 111.9l2.7 2.7l-2.7 2.7l-2.7 -2.7z"/><text x="292.7" y="117.7" font-size="8.7" text-anchor="start" font-weight="normal" fill="#383838" stroke="#383838" stroke-width="0.22" textLength="52.5" lengthAdjust="spacingAndGlyphs">eAu-SP/BDDE</text><clipPath id="c1"><rect x="32.5" y="360.2" width="309.5" height="257.6"/></clipPath><g clip-path="url(#c1)"><path fill="none" stroke="#000000" stroke-width="1" d="M41.5 612.8 41.5 612.3 41.6 611.6 41.6 610.7 41.7 609.8 41.7 608.8 41.8 607.9 41.9 607 42 606.2 42.1 605.5 42.3 604.9 42.4 604.3 42.6 603.8 42.8 603.2 43 602.7 43.2 602 43.5 601.4 43.7 600.7 43.9 599.9 44.1 599.2 44.4 598.4 44.6 597.6 44.9 596.8 45.2 595.9 45.6 594.9 46 593.9 46.4 592.8 46.9 591.7 47.3 590.5 47.9 589.3 48.5 588 49.1 586.7 49.9 585.2 50.9 583.7 52 582 53.1 580.2 54.4 578.4 55.7 576.5 56.9 574.8 58.1 573.2 59.2 571.7 60.2 570.4 61.2 569.3 62.1 568.3 63 567.4 63.8 566.5 64.8 565.6 65.7 564.7 66.8 563.7 67.9 562.7 69.1 561.7 70.3 560.6 71.6 559.5 72.9 558.4 74.3 557.4 75.7 556.3 77.1 555.2 78.6 554.1 80.2 553 81.8 551.9 83.4 550.8 85.1 549.7 86.8 548.6 88.6 547.6 90.5 546.6 92.5 545.6 94.5 544.7 96.6 543.7 98.7 542.8 100.9 541.9 103.1 541.1 105.3 540.3 107.5 539.5 109.7 538.8 111.9 538.1 114 537.5 116.3 536.9 118.5 536.4 120.8 535.8 123.3 535.4 125.8 534.9 128.4 534.5 131 534 133.7 533.6 136.4 533.2 139.3 532.9 142.4 532.7 145.7 532.6 149.4 532.7 153.3 533 157.7 533.3 162.3 533.7 167.1 534.3 172 535 176.9 535.9 181.7 537 186.2 538.2 190.6 539.8 195.1 541.6 199.5 543.6 203.9 545.8 208.2 548 212.3 550.4 216.2 552.7 219.8 555 223.2 557.2 226.3 559.6 229.2 562 232 564.4 234.6 566.8 237.1 569.2 239.5 571.5 241.8 573.7 244 575.9 246 578 247.9 580.1 249.7 582.2 251.4 584.2 253 586 254.6 587.8 256.1 589.4 257.5 590.8 258.8 592.2 260.1 593.5 261.3 594.7 262.4 595.7 263.5 596.6 264.5 597.2 265.6 597.7 266.7 597.8 267.9 597.6 269.1 597.2 270.2 596.7 271.2 596.1 272.2 595.5 273 595 273.6 594.7"/><path fill="none" stroke="#0000FF" stroke-width="1" d="M36.5 613.8 36.6 613.4 36.8 613 37 612.4 37.2 611.7 37.5 611.1 37.7 610.4 38 609.8 38.3 609.2 38.6 608.7 39 608.2 39.3 607.8 39.7 607.3 40.1 606.9 40.5 606.5 40.9 606.1 41.4 605.7 41.9 605.3 42.3 605 42.8 604.7 43.3 604.4 43.9 604.1 44.4 603.9 45 603.6 45.7 603.4 46.4 603.2 47.1 603 47.9 602.8 48.7 602.6 49.5 602.5 50.3 602.4 51.1 602.2 51.8 602.1 52.4 602 52.9 602 53.4 601.9 53.8 601.9 54.3 601.8 54.8 601.8 55.4 601.8 56.1 601.9 56.9 601.9 57.8 602 58.8 602.1 59.9 602.2 61 602.4 62.1 602.5 63.1 602.7 64 602.9 64.9 603.1 65.7 603.3 66.4 603.6 67.2 603.9 67.9 604.2 68.7 604.4 69.4 604.7 70.1 604.9 70.8 605.2 71.5 605.4 72.2 605.7 72.9 605.9 73.6 606.1 74.3 606.3 74.9 606.4 75.6 606.4 76.3 606.4 76.9 606.4 77.5 606.3 78.2 606.1 78.8 605.9 79.4 605.7 80.1 605.4 80.7 605.1 81.4 604.6 82.2 604.1 82.9 603.5 83.7 602.8 84.4 602.2 85.1 601.6 85.6 601.1 86.1 600.8"/><path fill="none" stroke="#00B050" stroke-width="1" d="M37.1 613.8 37.2 613.5 37.3 613 37.5 612.4 37.6 611.8 37.8 611.2 38 610.5 38.2 610 38.3 609.5 38.5 609.1 38.7 608.7 38.8 608.4 39 608.1 39.2 607.8 39.4 607.5 39.6 607.2 39.8 606.9 40.1 606.6 40.3 606.3 40.6 606.1 40.9 605.8 41.2 605.5 41.6 605.3 41.9 605.1 42.2 604.9 42.6 604.7 42.9 604.5 43.3 604.4 43.7 604.3 44.1 604.2 44.4 604.1 44.8 604 45.2 603.9 45.7 603.9 46.1 603.8 46.5 603.8 47 603.8 47.4 603.8 47.9 603.8 48.3 603.8 48.7 603.8 49.1 603.7 49.5 603.7 49.9 603.7 50.3 603.7 50.7 603.7 51 603.8 51.4 603.8 51.8 603.8 52.1 603.8 52.5 603.8 52.8 603.8 53.1 603.8 53.4 603.8 53.8 603.8 54.1 603.8 54.5 603.8 54.8 603.8 55.2 603.8 55.7 603.8 56.1 603.8 56.5 603.8 56.9 603.8 57.2 603.9 57.6 603.9 57.9 604 58.1 604.1 58.3 604.2 58.5 604.3 58.7 604.5 58.9 604.6 59.1 604.8 59.4 605 59.7 605.2 60.1 605.4 60.4 605.6 60.8 605.9 61.2 606.2 61.6 606.4 62 606.6 62.3 606.9 62.7 607 63.1 607.2 63.5 607.4 63.8 607.5 64.2 607.7 64.6 607.8 64.9 607.9 65.3 608.1 65.6 608.2 66 608.3 66.3 608.4 66.6 608.5 67 608.6 67.3 608.6 67.6 608.7 68 608.7 68.3 608.7 68.7 608.8 69 608.8 69.4 608.7 69.7 608.7 70 608.6 70.4 608.6 70.7 608.5 71 608.3 71.4 608.2 71.7 608 72 607.8 72.4 607.6 72.7 607.4 73 607.2 73.2 607 73.5 606.7 73.7 606.5 73.9 606.3 74.1 606 74.2 605.8 74.4 605.5 74.6 605.3 74.8 605.1 75 604.9 75.3 604.7 75.6 604.5 75.9 604.3 76.1 604.1 76.4 604 76.6 603.9 76.7 603.8"/><path fill="none" stroke="#548235" stroke-width="1" d="M39.8 611.1 39.9 610.9 40 610.7 40.2 610.4 40.4 610.1 40.6 609.8 40.8 609.4 41 609.1 41.1 608.8 41.3 608.6 41.5 608.3 41.8 608 42 607.7 42.2 607.4 42.4 607.2 42.6 606.9 42.8 606.6 43 606.4 43.1 606.2 43.3 605.9 43.4 605.7 43.6 605.5 43.8 605.3 43.9 605.1 44.1 604.9 44.4 604.7 44.6 604.4 44.8 604.2 45.1 604 45.4 603.8 45.6 603.6 45.9 603.4 46.2 603.3 46.4 603.1 46.7 602.9 46.9 602.8 47.1 602.7 47.4 602.5 47.7 602.4 47.9 602.3 48.2 602.1 48.5 602 48.9 601.8 49.2 601.6 49.6 601.4 49.9 601.3 50.3 601.1 50.6 600.9 51 600.8 51.3 600.6 51.7 600.5 52 600.4 52.3 600.2 52.7 600.1 53 600 53.4 599.9 53.8 599.8 54.2 599.7 54.6 599.6 55 599.5 55.4 599.4 55.8 599.4 56.3 599.3 56.7 599.2 57.2 599.1 57.6 599.1 58 599 58.5 598.9 58.9 598.9 59.4 598.8 59.9 598.8 60.3 598.8 60.8 598.7 61.2 598.7 61.7 598.8 62.1 598.8 62.5 598.8 63 598.9 63.4 598.9 63.9 598.9 64.3 599 64.7 599 65.1 599.1 65.6 599.1 66 599.1 66.4 599.2 66.8 599.2 67.2 599.3 67.6 599.3 68 599.4 68.4 599.5 68.8 599.6 69.2 599.7 69.6 599.8 70 599.9 70.3 600 70.7 600.2 71.1 600.3 71.4 600.4 71.8 600.5 72.1 600.6 72.4 600.8 72.8 600.9 73.1 601 73.4 601.2 73.7 601.3 74 601.4 74.3 601.6 74.6 601.7 74.8 601.9 75.1 602 75.4 602.2 75.7 602.3 75.9 602.4 76.2 602.5 76.5 602.6 76.7 602.7 77 602.8 77.3 602.9 77.5 603 77.8 603.1 78.1 603.2 78.3 603.3 78.6 603.4 78.9 603.5 79.1 603.6 79.4 603.7 79.6 603.9 79.9 604 80.1 604.1 80.4 604.2 80.6 604.3 80.8 604.4 81 604.5 81.3 604.6 81.5 604.7 81.7 604.8 81.9 604.9 82.2 604.9 82.4 605 82.6 605.1 82.9 605.2 83.1 605.2 83.3 605.3 83.5 605.4 83.8 605.4 84 605.5 84.2 605.6 84.4 605.6 84.6 605.7 84.8 605.7 85 605.8 85.3 605.8 85.5 605.8 85.7 605.8 85.9 605.8 86.2 605.8 86.4 605.8 86.6 605.8 86.9 605.8 87.1 605.7 87.3 605.7 87.5 605.7 87.8 605.6 88 605.6 88.2 605.5 88.5 605.4 88.7 605.4 88.9 605.3 89.2 605.2 89.4 605.1 89.6 605 89.8 604.9 90.1 604.8 90.3 604.7 90.5 604.6 90.8 604.5 91 604.4 91.2 604.2 91.4 604.1 91.6 604 91.9 603.9 92.1 603.7 92.3 603.6 92.5 603.5 92.7 603.3 92.8 603.2 93 603 93.2 602.9 93.3 602.7 93.5 602.6 93.7 602.4 93.8 602.3 94 602.1 94.2 602 94.3 601.8 94.5 601.6 94.7 601.4 94.8 601.3 94.9 601.2 95 601.1"/><path fill="none" stroke="#FFC000" stroke-width="1" d="M36.5 613.8 36.7 613.3 37 612.6 37.4 611.7 37.8 610.8 38.2 609.9 38.6 609 39 608.2 39.2 607.6 39.4 607.2 39.6 606.9 39.7 606.6 39.7 606.5 39.8 606.3 39.8 606.2 39.8 606 39.9 605.8 40 605.6 40.1 605.4 40.2 605.2 40.3 604.9 40.4 604.7 40.5 604.5 40.6 604.2 40.7 604 40.7 603.8 40.8 603.6 40.9 603.4 41 603.2 41.1 603 41.2 602.8 41.3 602.5 41.4 602.3 41.6 602 41.7 601.7 41.8 601.4 42 601.1 42.1 600.7 42.3 600.4 42.4 600.1 42.6 599.7 42.8 599.3 42.9 599 43.1 598.6 43.3 598.2 43.5 597.9 43.7 597.5 43.9 597.1 44.1 596.7 44.3 596.2 44.5 595.8 44.8 595.4 45.1 594.9 45.3 594.5 45.6 594 45.9 593.6 46.2 593.1 46.4 592.6 46.7 592.2 47 591.7 47.3 591.3 47.6 590.8 48 590.3 48.3 589.8 48.7 589.3 49 588.8 49.4 588.2 49.8 587.7 50.2 587.1 50.6 586.5 51.1 585.9 51.5 585.3 52 584.7 52.5 584 53 583.3 53.5 582.6 54.1 581.9 54.7 581.2 55.3 580.5 55.9 579.7 56.5 579 57.2 578.3 58 577.6 58.7 576.8 59.5 576.1 60.4 575.4 61.2 574.6 62.1 573.9 63 573.1 63.9 572.4 64.8 571.6 65.8 570.8 66.8 570.1 67.8 569.3 68.8 568.5 69.9 567.7 71 567 72.1 566.2 73.2 565.5 74.3 564.7 75.5 564 76.7 563.3 77.9 562.5 79.2 561.8 80.5 561.1 81.9 560.4 83.3 559.7 84.8 559 86.3 558.3 87.9 557.6 89.5 557 91.1 556.3 92.7 555.7 94.4 555.1 96.1 554.5 97.8 553.9 99.6 553.4 101.4 552.8 103.2 552.3 105 551.8 106.8 551.3 108.7 550.9 110.5 550.4 112.4 550 114.2 549.6 116.1 549.3 118 548.9 120 548.6 121.9 548.4 123.9 548.1 125.9 547.9 127.9 547.7 129.9 547.5 132 547.4 134 547.3 136 547.2 138 547.2 140 547.3 142.1 547.4 144.1 547.5 146 547.7 148 547.9 150 548.1 151.9 548.4 153.8 548.7 155.7 549 157.5 549.3 159.3 549.6 161.1 550 162.8 550.4 164.6 550.8 166.3 551.2 168 551.6 169.8 552.1 171.5 552.6 173.2 553.1 174.9 553.6 176.6 554.2 178.3 554.7 179.9 555.3 181.4 555.8 182.9 556.4 184.4 557 185.8 557.5 187.1 558.1 188.5 558.7 189.8 559.3 191.1 559.9 192.4 560.5 193.6 561.1 194.9 561.8 196.1 562.4 197.3 563.1 198.4 563.7 199.6 564.4 200.7 565 201.8 565.6 202.9 566.2 204.1 566.8 205.1 567.4 206.2 568 207.3 568.6 208.3 569.2 209.2 569.8 210.1 570.3 211 570.9 211.8 571.4 212.6 572 213.3 572.5 214 573 214.7 573.6 215.4 574.1 216.1 574.5 216.8 575 217.5 575.5 218.2 575.9 218.9 576.4 219.5 576.8 220.2 577.2 220.8 577.6 221.4 578 222.1 578.4 222.6 578.8 223.2 579.2 223.8 579.6 224.3 579.9 224.9 580.3 225.4 580.7 226 581 226.5 581.4 227.1 581.9 227.7 582.3 228.3 582.7 228.8 583.2 229.3 583.5 229.8 583.8 230.1 584.1"/><path fill="#000000" d="M42.2 602.6l2.7 2.7l-2.7 2.7l-2.7 -2.7zM42.9 601l2.7 2.7l-2.7 2.7l-2.7 -2.7zM43.5 598.7l2.7 2.7l-2.7 2.7l-2.7 -2.7zM44.6 595.9l2.7 2.7l-2.7 2.7l-2.7 -2.7zM45.6 592.2l2.7 2.7l-2.7 2.7l-2.7 -2.7zM47.4 587.8l2.7 2.7l-2.7 2.7l-2.7 -2.7zM49.9 582.5l2.7 2.7l-2.7 2.7l-2.7 -2.7zM53.9 576.1l2.7 2.7l-2.7 2.7l-2.7 -2.7zM59.2 569l2.7 2.7l-2.7 2.7l-2.7 -2.7zM66.8 561l2.7 2.7l-2.7 2.7l-2.7 -2.7zM77.1 552.9l2.7 2.7l-2.7 2.7l-2.7 -2.7zM90.5 544.6l2.7 2.7l-2.7 2.7l-2.7 -2.7zM107.5 538.1l2.7 2.7l-2.7 2.7l-2.7 -2.7zM125.8 533.5l2.7 2.7l-2.7 2.7l-2.7 -2.7zM147 532.3l2.7 2.7l-2.7 2.7l-2.7 -2.7zM167.1 534.1l2.7 2.7l-2.7 2.7l-2.7 -2.7zM185.8 538.5l2.7 2.7l-2.7 2.7l-2.7 -2.7zM201.8 544.5l2.7 2.7l-2.7 2.7l-2.7 -2.7zM215.3 552.5l2.7 2.7l-2.7 2.7l-2.7 -2.7zM225.7 559.9l2.7 2.7l-2.7 2.7l-2.7 -2.7zM233.2 566.8l2.7 2.7l-2.7 2.7l-2.7 -2.7zM239.4 573.2l2.7 2.7l-2.7 2.7l-2.7 -2.7zM244.7 577.9l2.7 2.7l-2.7 2.7l-2.7 -2.7zM248.6 582.6l2.7 2.7l-2.7 2.7l-2.7 -2.7zM252.8 586.5l2.7 2.7l-2.7 2.7l-2.7 -2.7zM254.3 588.3l2.7 2.7l-2.7 2.7l-2.7 -2.7zM255.8 589.6l2.7 2.7l-2.7 2.7l-2.7 -2.7zM257.4 590.8l2.7 2.7l-2.7 2.7l-2.7 -2.7zM258.9 592l2.7 2.7l-2.7 2.7l-2.7 -2.7zM260.4 593.1l2.7 2.7l-2.7 2.7l-2.7 -2.7zM261.9 594.1l2.7 2.7l-2.7 2.7l-2.7 -2.7zM263.2 595.1l2.7 2.7l-2.7 2.7l-2.7 -2.7zM264.8 596.3l2.7 2.7l-2.7 2.7l-2.7 -2.7zM266.5 596.8l2.7 2.7l-2.7 2.7l-2.7 -2.7zM268.2 597.1l2.7 2.7l-2.7 2.7l-2.7 -2.7zM270.2 597.8l2.7 2.7l-2.7 2.7l-2.7 -2.7zM272.5 598.4l2.7 2.7l-2.7 2.7l-2.7 -2.7zM274.8 597.8l2.7 2.7l-2.7 2.7l-2.7 -2.7zM277.6 596.7l2.7 2.7l-2.7 2.7l-2.7 -2.7z"/><path fill="#0000FF" d="M36.8 611.1l2.7 2.7l-2.7 2.7l-2.7 -2.7zM37.2 609.6l2.7 2.7l-2.7 2.7l-2.7 -2.7zM37.7 608.2l2.7 2.7l-2.7 2.7l-2.7 -2.7zM38.3 606.8l2.7 2.7l-2.7 2.7l-2.7 -2.7zM39.2 605.6l2.7 2.7l-2.7 2.7l-2.7 -2.7zM40.3 604.5l2.7 2.7l-2.7 2.7l-2.7 -2.7zM41.4 603.5l2.7 2.7l-2.7 2.7l-2.7 -2.7zM42.6 602.5l2.7 2.7l-2.7 2.7l-2.7 -2.7zM43.8 601.6l2.7 2.7l-2.7 2.7l-2.7 -2.7zM45.2 601l2.7 2.7l-2.7 2.7l-2.7 -2.7zM46.7 600.6l2.7 2.7l-2.7 2.7l-2.7 -2.7zM48.2 600.3l2.7 2.7l-2.7 2.7l-2.7 -2.7zM49.7 600l2.7 2.7l-2.7 2.7l-2.7 -2.7zM51.2 599.8l2.7 2.7l-2.7 2.7l-2.7 -2.7zM52.7 599.8l2.7 2.7l-2.7 2.7l-2.7 -2.7zM54.2 599.7l2.7 2.7l-2.7 2.7l-2.7 -2.7zM52 600.2l2.7 2.7l-2.7 2.7l-2.7 -2.7zM54.5 599.9l2.7 2.7l-2.7 2.7l-2.7 -2.7zM57 599.9l2.7 2.7l-2.7 2.7l-2.7 -2.7zM59.4 600.1l2.7 2.7l-2.7 2.7l-2.7 -2.7zM61.2 600.3l2.7 2.7l-2.7 2.7l-2.7 -2.7zM63.1 600.6l2.7 2.7l-2.7 2.7l-2.7 -2.7zM64.9 601.1l2.7 2.7l-2.7 2.7l-2.7 -2.7zM66.7 601.6l2.7 2.7l-2.7 2.7l-2.7 -2.7zM68.7 602.3l2.7 2.7l-2.7 2.7l-2.7 -2.7z"/><path fill="#0000FF" d="M68.7 602.3l2.7 2.7l-2.7 2.7l-2.7 -2.7zM73.2 604l2.7 2.7l-2.7 2.7l-2.7 -2.7zM78 604.1l2.7 2.7l-2.7 2.7l-2.7 -2.7zM82.3 601.9l2.7 2.7l-2.7 2.7l-2.7 -2.7zM86.7 599.8l2.7 2.7l-2.7 2.7l-2.7 -2.7z"/><path fill="#92D050" d="M41.4 611.1l2.7 2.7l-2.7 2.7l-2.7 -2.7zM42.8 610.6l2.7 2.7l-2.7 2.7l-2.7 -2.7zM44.2 610.1l2.7 2.7l-2.7 2.7l-2.7 -2.7zM45.6 609.5l2.7 2.7l-2.7 2.7l-2.7 -2.7zM47 608.9l2.7 2.7l-2.7 2.7l-2.7 -2.7zM48.4 608.4l2.7 2.7l-2.7 2.7l-2.7 -2.7zM49.8 607.8l2.7 2.7l-2.7 2.7l-2.7 -2.7zM51.1 607.1l2.7 2.7l-2.7 2.7l-2.7 -2.7zM52.4 606.3l2.7 2.7l-2.7 2.7l-2.7 -2.7zM53.5 605.3l2.7 2.7l-2.7 2.7l-2.7 -2.7zM54.4 604.1l2.7 2.7l-2.7 2.7l-2.7 -2.7zM55.5 603l2.7 2.7l-2.7 2.7l-2.7 -2.7zM56.6 602l2.7 2.7l-2.7 2.7l-2.7 -2.7zM57.9 601.2l2.7 2.7l-2.7 2.7l-2.7 -2.7z"/><path fill="#00B050" d="M37.1 611.1l2.7 2.7l-2.7 2.7l-2.7 -2.7zM37.5 609.6l2.7 2.7l-2.7 2.7l-2.7 -2.7zM37.9 608.2l2.7 2.7l-2.7 2.7l-2.7 -2.7zM38.3 606.8l2.7 2.7l-2.7 2.7l-2.7 -2.7zM39 605.4l2.7 2.7l-2.7 2.7l-2.7 -2.7zM39.8 604.2l2.7 2.7l-2.7 2.7l-2.7 -2.7zM40.9 603.1l2.7 2.7l-2.7 2.7l-2.7 -2.7zM42.1 602.2l2.7 2.7l-2.7 2.7l-2.7 -2.7zM43.5 601.6l2.7 2.7l-2.7 2.7l-2.7 -2.7zM45 601.3l2.7 2.7l-2.7 2.7l-2.7 -2.7zM46.5 601.1l2.7 2.7l-2.7 2.7l-2.7 -2.7zM48 601.1l2.7 2.7l-2.7 2.7l-2.7 -2.7zM49.5 601l2.7 2.7l-2.7 2.7l-2.7 -2.7zM51 601l2.7 2.7l-2.7 2.7l-2.7 -2.7zM52.5 601.1l2.7 2.7l-2.7 2.7l-2.7 -2.7zM54 601.1l2.7 2.7l-2.7 2.7l-2.7 -2.7zM55.5 601.1l2.7 2.7l-2.7 2.7l-2.7 -2.7zM57 601.1l2.7 2.7l-2.7 2.7l-2.7 -2.7zM58.5 601.6l2.7 2.7l-2.7 2.7l-2.7 -2.7zM59.7 602.5l2.7 2.7l-2.7 2.7l-2.7 -2.7zM60.9 603.3l2.7 2.7l-2.7 2.7l-2.7 -2.7zM62.2 604.1l2.7 2.7l-2.7 2.7l-2.7 -2.7zM63.6 604.7l2.7 2.7l-2.7 2.7l-2.7 -2.7zM65 605.3l2.7 2.7l-2.7 2.7l-2.7 -2.7zM66.4 605.7l2.7 2.7l-2.7 2.7l-2.7 -2.7zM67.9 606l2.7 2.7l-2.7 2.7l-2.7 -2.7zM69.4 606l2.7 2.7l-2.7 2.7l-2.7 -2.7zM70.9 605.7l2.7 2.7l-2.7 2.7l-2.7 -2.7zM72.2 605l2.7 2.7l-2.7 2.7l-2.7 -2.7zM73.4 604.1l2.7 2.7l-2.7 2.7l-2.7 -2.7zM74.3 602.9l2.7 2.7l-2.7 2.7l-2.7 -2.7zM75.4 601.9l2.7 2.7l-2.7 2.7l-2.7 -2.7zM76.7 601.1l2.7 2.7l-2.7 2.7l-2.7 -2.7z"/><path fill="#548235" d="M37.2 611.1l2.7 2.7l-2.7 2.7l-2.7 -2.7zM38.5 609.8l2.7 2.7l-2.7 2.7l-2.7 -2.7zM39.8 608.4l2.7 2.7l-2.7 2.7l-2.7 -2.7zM39.8 608.4l2.7 2.7l-2.7 2.7l-2.7 -2.7zM41.1 606.1l2.7 2.7l-2.7 2.7l-2.7 -2.7zM42.8 603.9l2.7 2.7l-2.7 2.7l-2.7 -2.7zM44.1 602.2l2.7 2.7l-2.7 2.7l-2.7 -2.7zM46.2 600.6l2.7 2.7l-2.7 2.7l-2.7 -2.7zM48.2 599.4l2.7 2.7l-2.7 2.7l-2.7 -2.7zM51 598.1l2.7 2.7l-2.7 2.7l-2.7 -2.7zM53.8 597.1l2.7 2.7l-2.7 2.7l-2.7 -2.7zM57.2 596.4l2.7 2.7l-2.7 2.7l-2.7 -2.7zM60.8 596l2.7 2.7l-2.7 2.7l-2.7 -2.7zM64.3 596.3l2.7 2.7l-2.7 2.7l-2.7 -2.7zM67.6 596.6l2.7 2.7l-2.7 2.7l-2.7 -2.7zM70.7 597.5l2.7 2.7l-2.7 2.7l-2.7 -2.7zM73.4 598.5l2.7 2.7l-2.7 2.7l-2.7 -2.7zM75.7 599.6l2.7 2.7l-2.7 2.7l-2.7 -2.7zM77.8 600.4l2.7 2.7l-2.7 2.7l-2.7 -2.7zM79.9 601.3l2.7 2.7l-2.7 2.7l-2.7 -2.7zM81.7 602.1l2.7 2.7l-2.7 2.7l-2.7 -2.7zM83.5 602.7l2.7 2.7l-2.7 2.7l-2.7 -2.7zM85.3 603.1l2.7 2.7l-2.7 2.7l-2.7 -2.7zM87.1 603l2.7 2.7l-2.7 2.7l-2.7 -2.7zM88.9 602.6l2.7 2.7l-2.7 2.7l-2.7 -2.7zM90.8 601.8l2.7 2.7l-2.7 2.7l-2.7 -2.7zM92.5 600.8l2.7 2.7l-2.7 2.7l-2.7 -2.7zM93.8 599.6l2.7 2.7l-2.7 2.7l-2.7 -2.7zM95 598.4l2.7 2.7l-2.7 2.7l-2.7 -2.7z"/><path fill="#ED7D31" d="M38.6 611.1l2.7 2.7l-2.7 2.7l-2.7 -2.7zM40 610.3l2.7 2.7l-2.7 2.7l-2.7 -2.7zM41.4 609.4l2.7 2.7l-2.7 2.7l-2.7 -2.7zM42.8 608.6l2.7 2.7l-2.7 2.7l-2.7 -2.7zM44.1 607.8l2.7 2.7l-2.7 2.7l-2.7 -2.7zM45.5 606.9l2.7 2.7l-2.7 2.7l-2.7 -2.7zM46.8 606l2.7 2.7l-2.7 2.7l-2.7 -2.7zM48.1 605.1l2.7 2.7l-2.7 2.7l-2.7 -2.7zM49.5 604.2l2.7 2.7l-2.7 2.7l-2.7 -2.7zM50.8 603.3l2.7 2.7l-2.7 2.7l-2.7 -2.7zM52.1 602.4l2.7 2.7l-2.7 2.7l-2.7 -2.7zM53.4 601.5l2.7 2.7l-2.7 2.7l-2.7 -2.7z"/><path fill="#FFC000" d="M36.7 611.1l2.7 2.7l-2.7 2.7l-2.7 -2.7zM37.2 609.5l2.7 2.7l-2.7 2.7l-2.7 -2.7zM37.8 607.9l2.7 2.7l-2.7 2.7l-2.7 -2.7zM38.5 606.4l2.7 2.7l-2.7 2.7l-2.7 -2.7zM39.2 604.9l2.7 2.7l-2.7 2.7l-2.7 -2.7zM39.2 604.9l2.7 2.7l-2.7 2.7l-2.7 -2.7zM39.9 603.1l2.7 2.7l-2.7 2.7l-2.7 -2.7zM40.7 601.3l2.7 2.7l-2.7 2.7l-2.7 -2.7zM41.4 599.6l2.7 2.7l-2.7 2.7l-2.7 -2.7zM42.6 597l2.7 2.7l-2.7 2.7l-2.7 -2.7zM44.1 594l2.7 2.7l-2.7 2.7l-2.7 -2.7zM46.2 590.4l2.7 2.7l-2.7 2.7l-2.7 -2.7zM48.7 586.6l2.7 2.7l-2.7 2.7l-2.7 -2.7zM52 582l2.7 2.7l-2.7 2.7l-2.7 -2.7zM56.5 576.3l2.7 2.7l-2.7 2.7l-2.7 -2.7zM63 570.4l2.7 2.7l-2.7 2.7l-2.7 -2.7zM71 564.3l2.7 2.7l-2.7 2.7l-2.7 -2.7zM80.5 558.4l2.7 2.7l-2.7 2.7l-2.7 -2.7zM92.7 553l2.7 2.7l-2.7 2.7l-2.7 -2.7zM106.8 548.6l2.7 2.7l-2.7 2.7l-2.7 -2.7zM121.9 545.7l2.7 2.7l-2.7 2.7l-2.7 -2.7zM138 544.5l2.7 2.7l-2.7 2.7l-2.7 -2.7zM153.8 546l2.7 2.7l-2.7 2.7l-2.7 -2.7zM168 548.9l2.7 2.7l-2.7 2.7l-2.7 -2.7zM181.4 553.1l2.7 2.7l-2.7 2.7l-2.7 -2.7zM192.4 557.8l2.7 2.7l-2.7 2.7l-2.7 -2.7zM201.8 562.9l2.7 2.7l-2.7 2.7l-2.7 -2.7zM210.1 567.6l2.7 2.7l-2.7 2.7l-2.7 -2.7zM216.1 571.8l2.7 2.7l-2.7 2.7l-2.7 -2.7zM221.4 575.3l2.7 2.7l-2.7 2.7l-2.7 -2.7zM226 578.3l2.7 2.7l-2.7 2.7l-2.7 -2.7zM230.1 581.4l2.7 2.7l-2.7 2.7l-2.7 -2.7z"/><path fill="#FF0000" d="M37.4 611.6l2.2 2.2l-2.2 2.2l-2.2 -2.2zM38.6 610.5l2.2 2.2l-2.2 2.2l-2.2 -2.2zM39.8 609.5l2.2 2.2l-2.2 2.2l-2.2 -2.2zM41 608.4l2.2 2.2l-2.2 2.2l-2.2 -2.2zM42.3 607.5l2.2 2.2l-2.2 2.2l-2.2 -2.2zM43.6 606.5l2.2 2.2l-2.2 2.2l-2.2 -2.2zM44.9 605.6l2.2 2.2l-2.2 2.2l-2.2 -2.2zM46.2 604.7l2.2 2.2l-2.2 2.2l-2.2 -2.2zM47.5 603.8l2.2 2.2l-2.2 2.2l-2.2 -2.2zM48.8 602.8l2.2 2.2l-2.2 2.2l-2.2 -2.2zM50.1 601.9l2.2 2.2l-2.2 2.2l-2.2 -2.2z"/></g><path fill="none" stroke="#4a4a4a" stroke-width="1" d="M36.5 563.5H97.5V613.8"/><path fill="none" stroke="#333" stroke-width="0.8" d="M46.1 563.5L160.5 483"/><path fill="#222" d="M164 480.6L158.4 481.2L161.4 485.4Z"/><path fill="none" stroke="#7f7f7f" stroke-width="1.3" d="M35.9 360.2H342V613.8"/><path fill="none" stroke="#404040" stroke-width="1.3" d="M36.5 359.6V613.8H342.6"/><path stroke="#404040" stroke-width="1" d="M97.6 613.8V609.8M36.5 563.1H40.5M158.7 613.8V609.8M36.5 512.4H40.5M219.8 613.8V609.8M36.5 461.6H40.5M280.9 613.8V609.8M36.5 410.9H40.5"/><text x="36.5" y="633.6" font-size="10" text-anchor="middle" font-weight="normal" fill="#262626" stroke="#262626" stroke-width="0.22" textLength="6.1" lengthAdjust="spacingAndGlyphs">0</text><text x="25.1" y="617.4" font-size="10" text-anchor="end" font-weight="normal" fill="#262626" stroke="#262626" stroke-width="0.22" textLength="6.1" lengthAdjust="spacingAndGlyphs">0</text><text x="97.6" y="633.6" font-size="10" text-anchor="middle" font-weight="normal" fill="#262626" stroke="#262626" stroke-width="0.22" textLength="12.1" lengthAdjust="spacingAndGlyphs">10</text><text x="25.1" y="566.7" font-size="10" text-anchor="end" font-weight="normal" fill="#262626" stroke="#262626" stroke-width="0.22" textLength="12.1" lengthAdjust="spacingAndGlyphs">10</text><text x="158.7" y="633.6" font-size="10" text-anchor="middle" font-weight="normal" fill="#262626" stroke="#262626" stroke-width="0.22" textLength="12.1" lengthAdjust="spacingAndGlyphs">20</text><text x="25.1" y="516" font-size="10" text-anchor="end" font-weight="normal" fill="#262626" stroke="#262626" stroke-width="0.22" textLength="12.1" lengthAdjust="spacingAndGlyphs">20</text><text x="219.8" y="633.6" font-size="10" text-anchor="middle" font-weight="normal" fill="#262626" stroke="#262626" stroke-width="0.22" textLength="12.1" lengthAdjust="spacingAndGlyphs">30</text><text x="25.1" y="465.2" font-size="10" text-anchor="end" font-weight="normal" fill="#262626" stroke="#262626" stroke-width="0.22" textLength="12.1" lengthAdjust="spacingAndGlyphs">30</text><text x="280.9" y="633.6" font-size="10" text-anchor="middle" font-weight="normal" fill="#262626" stroke="#262626" stroke-width="0.22" textLength="12.1" lengthAdjust="spacingAndGlyphs">40</text><text x="25.1" y="414.5" font-size="10" text-anchor="end" font-weight="normal" fill="#262626" stroke="#262626" stroke-width="0.22" textLength="12.1" lengthAdjust="spacingAndGlyphs">40</text><text x="342" y="633.6" font-size="10" text-anchor="middle" font-weight="normal" fill="#262626" stroke="#262626" stroke-width="0.22" textLength="12.1" lengthAdjust="spacingAndGlyphs">50</text><text x="25.1" y="363.8" font-size="10" text-anchor="end" font-weight="normal" fill="#262626" stroke="#262626" stroke-width="0.22" textLength="12.1" lengthAdjust="spacingAndGlyphs">50</text><text x="334.5" y="642.6" font-size="12" text-anchor="end" font-weight="bold" fill="#000" ><tspan font-style="italic">Z</tspan>' [kΩ]</text><g transform="translate(10.2 390) rotate(-90)"><text x="0" y="0" font-size="12" text-anchor="middle" font-weight="bold" fill="#000" >–<tspan font-style="italic">Z</tspan>'' [kΩ]</text></g><text x="185" y="350.8" font-size="16.2" text-anchor="middle" font-weight="bold" fill="#000" >B</text><path fill="#000000" d="M67.4 407.3l2.7 2.7l-2.7 2.7l-2.7 -2.7z"/><text x="77.7" y="413.1" font-size="8.7" text-anchor="start" font-weight="normal" fill="#383838" stroke="#383838" stroke-width="0.22" textLength="21.4" lengthAdjust="spacingAndGlyphs">BDDE</text><path fill="#0000FF" d="M67.4 417.9l2.7 2.7l-2.7 2.7l-2.7 -2.7z"/><text x="77.7" y="423.7" font-size="8.7" text-anchor="start" font-weight="normal" fill="#383838" stroke="#383838" stroke-width="0.22" textLength="34.4" lengthAdjust="spacingAndGlyphs">SP/BDDE</text><path fill="#92D050" d="M67.4 428.5l2.7 2.7l-2.7 2.7l-2.7 -2.7z"/><text x="77.7" y="434.3" font-size="8.7" text-anchor="start" font-weight="normal" fill="#383838" stroke="#383838" stroke-width="0.22" textLength="52.5" lengthAdjust="spacingAndGlyphs">5Au-SP/BDDE</text><path fill="#00B050" d="M67.4 439l2.7 2.7l-2.7 2.7l-2.7 -2.7z"/><text x="77.7" y="444.9" font-size="8.7" text-anchor="start" font-weight="normal" fill="#383838" stroke="#383838" stroke-width="0.22" textLength="57.2" lengthAdjust="spacingAndGlyphs">15Au-SP/BDDE</text><path fill="#548235" d="M67.4 449.6l2.7 2.7l-2.7 2.7l-2.7 -2.7z"/><text x="77.7" y="455.5" font-size="8.7" text-anchor="start" font-weight="normal" fill="#383838" stroke="#383838" stroke-width="0.22" textLength="57.2" lengthAdjust="spacingAndGlyphs">50Au-SP/BDDE</text><path fill="#ED7D31" d="M67.4 460.2l2.7 2.7l-2.7 2.7l-2.7 -2.7z"/><text x="77.7" y="466" font-size="8.7" text-anchor="start" font-weight="normal" fill="#383838" stroke="#383838" stroke-width="0.22" textLength="52.5" lengthAdjust="spacingAndGlyphs">pAu-SP/BDDE</text><path fill="#FFC000" d="M67.4 470.8l2.7 2.7l-2.7 2.7l-2.7 -2.7z"/><text x="77.7" y="476.6" font-size="8.7" text-anchor="start" font-weight="normal" fill="#383838" stroke="#383838" stroke-width="0.22" textLength="47.9" lengthAdjust="spacingAndGlyphs">Au-SP/BDDE</text><path fill="#FF0000" d="M67.4 481.4l2.7 2.7l-2.7 2.7l-2.7 -2.7z"/><text x="77.7" y="487.2" font-size="8.7" text-anchor="start" font-weight="normal" fill="#383838" stroke="#383838" stroke-width="0.22" textLength="52.5" lengthAdjust="spacingAndGlyphs">eAu-SP/BDDE</text><clipPath id="c2"><rect x="173.3" y="362.9" width="161.1" height="136.1"/></clipPath><clipPath id="c3"><rect x="176.3" y="365.4" width="158.1" height="130.6"/></clipPath><g><g clip-path="url(#c3)"><path fill="none" stroke="#000000" stroke-width="1" d="M189.3 493.4 189.3 492 189.4 490.2 189.5 488.1 189.7 485.7 189.8 483.2 190 480.7 190.2 478.4 190.5 476.4 190.9 474.7 191.3 473.1 191.7 471.6 192.2 470.2 192.7 468.8 193.2 467.3 193.7 465.7 194.3 464 194.9 462.2 195.5 460.3 196 458.4 196.6 456.4 197.3 454.3 198 452.1 198.9 449.8 199.9 447.3 200.9 444.6 202 441.9 203.1 439 204.3 436 205.7 432.9 207.2 429.6 209 426.1 211.1 422.5 213.5 418.5 216.3 414.1 219.4 409.5 222.6 404.8 225.9 400.1 229.1 395.5 232.2 391.3 235.1 387.6 237.7 384.4 240.2 381.5 242.5 378.9 244.7 376.5 247 374.3 249.4 372 252 369.6 254.7 367.1 257.7 364.4 260.7 361.7 263.9 359 267.1 356.2 270.5 353.5 274 350.7 277.7 347.9 281.4 345.2 285.3 342.4 289.3 339.5 293.4 336.7 297.7 333.8 302 331 306.6 328.2 311.2 325.5 316.1 323 321.1 320.4 326.3 318 331.7 315.5 337.2 313.2 342.9 310.9 348.6 308.7 354.3 306.6 360 304.7 365.7 302.8 371.3 301.1 377 299.5 382.7 298 388.5 296.6 394.6 295.3 400.8 294 407.4 292.9 414.2 291.8 420.9 290.6 427.8 289.5 434.9 288.5 442.4 287.7 450.4 287.2 459 287 468.3 287.3 478.6 287.9 489.9 288.8 501.9 289.9 514.3 291.3 527 293.1 539.6 295.4 551.9 298.1 563.6 301.4 575.1 305.4 586.7 310 598.2 315.2 609.5 320.8 620.6 326.7 631.2 332.7 641.2 338.7 650.6 344.5 659.3 350.3 667.4 356.4 675 362.6 682.2 368.8 689 375.1 695.4 381.2 701.6 387.1 707.5 392.8 713.2 398.4 718.5 403.9 723.4 409.3 728 414.6 732.4 419.7 736.6 424.5 740.6 429 744.5 433.1 748.2 436.8 751.6 440.4 754.8 443.7 757.9 446.8 760.8 449.4 763.6 451.6 766.4 453.3 769.2 454.5 772.1 454.8 775.1 454.4 778.1 453.4 781 452 783.7 450.4 786.1 448.8 788.2 447.6 789.7 446.8"/><path fill="none" stroke="#0000FF" stroke-width="1" d="M176.3 496 176.6 495.1 177.1 493.8 177.6 492.3 178.2 490.7 178.8 489 179.5 487.3 180.3 485.7 181 484.2 181.9 483 182.7 481.7 183.6 480.5 184.6 479.3 185.6 478.2 186.7 477.1 187.8 476.1 188.9 475.1 190.1 474.2 191.4 473.3 192.7 472.5 194 471.8 195.4 471.1 196.8 470.4 198.4 469.8 200 469.2 201.8 468.7 203.7 468.2 205.8 467.7 207.9 467.3 210 466.9 212.1 466.5 214 466.2 215.8 466 217.4 465.7 218.7 465.5 219.9 465.4 221.1 465.3 222.3 465.2 223.6 465.2 225.1 465.2 226.9 465.3 229 465.5 231.5 465.7 234.1 465.9 236.9 466.2 239.7 466.6 242.4 467 245 467.4 247.4 467.9 249.7 468.5 251.8 469.1 253.8 469.7 255.7 470.5 257.7 471.2 259.5 471.9 261.4 472.5 263.3 473.1 265.1 473.7 266.9 474.4 268.7 475 270.5 475.7 272.3 476.2 274 476.6 275.8 476.9 277.5 477.1 279.2 477 280.9 476.9 282.5 476.6 284.2 476.2 285.8 475.7 287.4 475.1 289.1 474.4 290.8 473.5 292.6 472.4 294.5 471 296.5 469.4 298.5 467.8 300.3 466.1 302 464.6 303.5 463.3 304.5 462.4"/><path fill="none" stroke="#00B050" stroke-width="1" d="M177.9 496 178.1 495.1 178.4 493.9 178.8 492.5 179.2 490.9 179.7 489.2 180.1 487.6 180.6 486.2 181 484.9 181.5 483.8 181.9 482.9 182.3 482 182.7 481.2 183.2 480.4 183.7 479.7 184.2 479 184.8 478.2 185.5 477.5 186.2 476.8 187 476.1 187.8 475.4 188.6 474.7 189.4 474.1 190.3 473.5 191.2 473 192.1 472.6 193 472.2 193.9 471.8 194.9 471.5 195.8 471.2 196.8 470.9 197.9 470.7 198.9 470.5 200 470.4 201.1 470.3 202.2 470.2 203.4 470.2 204.6 470.2 205.7 470.2 206.8 470.2 207.9 470.1 209 470.1 210 470.1 211 470.1 212 470.1 213 470.1 213.9 470.1 214.9 470.1 215.8 470.1 216.7 470.2 217.6 470.2 218.5 470.2 219.3 470.2 220.1 470.2 221 470.2 221.9 470.2 222.8 470.3 223.8 470.3 224.8 470.3 225.9 470.3 227 470.2 228 470.2 229 470.3 230 470.4 230.8 470.5 231.6 470.7 232.2 471 232.7 471.3 233.2 471.6 233.7 472 234.3 472.4 234.9 472.8 235.6 473.3 236.4 473.8 237.3 474.4 238.2 475 239.2 475.7 240.2 476.3 241.2 477 242.2 477.6 243.2 478.1 244.1 478.6 245.1 479 246 479.5 247 479.9 248 480.2 248.9 480.6 249.8 480.9 250.8 481.2 251.7 481.5 252.5 481.8 253.4 482.1 254.3 482.3 255.1 482.5 256 482.7 256.8 482.9 257.7 482.9 258.6 483 259.5 483 260.4 483 261.3 483 262.2 482.9 263.1 482.7 264 482.5 264.8 482.3 265.7 482 266.6 481.6 267.4 481.1 268.3 480.6 269.1 480 269.9 479.5 270.6 478.9 271.3 478.4 271.9 477.8 272.5 477.2 273 476.6 273.5 475.9 273.9 475.3 274.4 474.7 274.9 474.1 275.4 473.5 276 473 276.7 472.5 277.4 472 278.1 471.5 278.8 471.1 279.4 470.7 279.9 470.4 280.3 470.1"/><path fill="none" stroke="#548235" stroke-width="1" d="M184.8 488.9 185.1 488.5 185.4 487.9 185.9 487.2 186.3 486.4 186.8 485.6 187.3 484.8 187.8 484 188.3 483.2 188.8 482.5 189.3 481.8 189.9 481 190.4 480.3 191 479.6 191.6 478.9 192.1 478.2 192.6 477.6 193 477 193.5 476.4 193.9 475.8 194.3 475.2 194.7 474.7 195.1 474.1 195.5 473.6 196.1 473 196.6 472.5 197.2 471.9 197.9 471.4 198.6 470.8 199.2 470.3 199.9 469.8 200.6 469.3 201.3 468.8 201.9 468.4 202.6 468 203.2 467.7 203.8 467.4 204.5 467 205.2 466.7 205.9 466.3 206.7 466 207.5 465.5 208.3 465.1 209.2 464.6 210.1 464.2 211 463.7 211.9 463.3 212.9 462.8 213.8 462.4 214.7 462.1 215.5 461.7 216.4 461.4 217.3 461.1 218.2 460.8 219.1 460.5 220.1 460.2 221 460 222.1 459.7 223.1 459.5 224.2 459.2 225.3 459 226.4 458.8 227.5 458.6 228.6 458.4 229.7 458.3 230.9 458.1 232 457.9 233.2 457.7 234.4 457.6 235.6 457.5 236.7 457.3 237.9 457.3 239.1 457.2 240.2 457.2 241.4 457.2 242.5 457.3 243.7 457.4 244.9 457.5 246 457.6 247.1 457.8 248.2 457.9 249.3 458 250.4 458 251.5 458.1 252.6 458.2 253.6 458.3 254.7 458.5 255.7 458.6 256.8 458.8 257.8 459 258.8 459.2 259.9 459.5 260.9 459.7 261.9 460 262.9 460.3 263.9 460.6 264.8 460.9 265.8 461.2 266.7 461.5 267.6 461.8 268.5 462.1 269.3 462.5 270.2 462.8 271 463.1 271.8 463.5 272.6 463.8 273.3 464.2 274.1 464.6 274.8 464.9 275.5 465.3 276.2 465.7 276.9 466 277.6 466.4 278.3 466.7 279.1 466.9 279.7 467.2 280.4 467.4 281.1 467.7 281.8 467.9 282.5 468.2 283.2 468.4 283.9 468.7 284.5 469 285.2 469.3 285.9 469.6 286.6 469.8 287.3 470.1 287.9 470.4 288.6 470.7 289.2 470.9 289.8 471.2 290.4 471.5 291 471.7 291.5 472 292.1 472.3 292.7 472.5 293.3 472.8 293.9 473 294.5 473.2 295.1 473.4 295.7 473.6 296.3 473.8 296.9 474 297.5 474.2 298 474.3 298.6 474.5 299.2 474.6 299.7 474.8 300.3 474.9 300.8 475.1 301.3 475.2 301.9 475.3 302.5 475.4 303 475.4 303.6 475.4 304.2 475.4 304.8 475.4 305.4 475.4 306 475.4 306.6 475.3 307.2 475.2 307.8 475.1 308.4 475 309 474.9 309.6 474.8 310.2 474.6 310.8 474.4 311.4 474.3 311.9 474.1 312.5 473.8 313.1 473.6 313.7 473.4 314.3 473.1 314.9 472.8 315.5 472.6 316.1 472.3 316.7 472 317.3 471.7 317.8 471.4 318.4 471 319 470.7 319.5 470.4 320.1 470.1 320.6 469.7 321.1 469.4 321.6 469 322.1 468.6 322.5 468.3 322.9 467.9 323.4 467.5 323.8 467.1 324.2 466.7 324.6 466.4 325 465.9 325.5 465.5 325.9 465.1 326.4 464.6 326.8 464.2 327.2 463.8 327.5 463.5 327.8 463.2"/><path fill="none" stroke="#FFC000" stroke-width="1" d="M176.3 496 176.9 494.7 177.7 492.9 178.7 490.7 179.7 488.3 180.8 485.9 181.8 483.6 182.7 481.6 183.4 480.1 183.9 479 184.2 478.1 184.5 477.5 184.6 477.1 184.7 476.7 184.8 476.4 185 476 185.2 475.5 185.4 474.9 185.6 474.3 185.8 473.7 186.1 473.1 186.3 472.5 186.6 472 186.8 471.4 187.1 470.8 187.3 470.2 187.5 469.7 187.8 469.2 188 468.7 188.3 468.2 188.5 467.6 188.8 467 189.1 466.4 189.4 465.6 189.8 464.9 190.1 464.1 190.5 463.2 190.9 462.4 191.3 461.5 191.7 460.6 192.1 459.7 192.5 458.8 193 457.8 193.4 456.9 193.9 455.9 194.3 454.9 194.8 453.9 195.3 452.9 195.9 451.9 196.5 450.8 197.1 449.7 197.8 448.6 198.4 447.4 199.1 446.2 199.8 445.1 200.5 443.9 201.3 442.7 202 441.5 202.8 440.4 203.5 439.2 204.3 438 205.1 436.8 206 435.5 206.8 434.2 207.8 432.9 208.7 431.6 209.7 430.2 210.7 428.7 211.8 427.3 212.9 425.8 214 424.2 215.2 422.7 216.5 421 217.7 419.3 219.1 417.6 220.4 415.8 221.8 413.9 223.3 412.1 224.8 410.2 226.4 408.3 228.2 406.4 230 404.5 231.9 402.7 233.8 400.8 235.9 398.9 238 397 240.2 395.1 242.5 393.2 244.8 391.3 247.1 389.3 249.6 387.3 252 385.4 254.6 383.4 257.2 381.4 259.9 379.4 262.7 377.4 265.5 375.5 268.3 373.5 271.2 371.6 274.1 369.7 277.1 367.8 280.2 365.9 283.4 364 286.7 362.1 290.1 360.3 293.7 358.5 297.4 356.7 301.3 354.9 305.2 353.1 309.2 351.4 313.3 349.7 317.5 348.1 321.8 346.5 326.1 344.9 330.5 343.4 335 341.9 339.5 340.4 344.2 339 348.9 337.6 353.6 336.3 358.3 335.1 363 333.9 367.8 332.8 372.6 331.8 377.5 330.8 382.4 329.9 387.3 329 392.3 328.2 397.3 327.5 402.4 326.9 407.6 326.3 412.8 325.8 418.1 325.3 423.4 325 428.6 324.7 433.9 324.5 439.1 324.5 444.2 324.6 449.4 324.9 454.6 325.3 459.8 325.8 464.9 326.3 470 326.9 474.9 327.6 479.9 328.3 484.7 329.1 489.4 329.9 494.1 330.7 498.7 331.7 503.2 332.6 507.7 333.7 512.2 334.8 516.7 335.9 521.2 337.1 525.6 338.3 530.1 339.7 534.5 341 538.9 342.4 543.2 343.9 547.3 345.3 551.3 346.7 555.2 348.2 558.9 349.6 562.6 351.1 566.1 352.6 569.6 354.1 573 355.6 576.3 357.2 579.6 358.7 582.9 360.3 586.1 362 589.2 363.6 592.3 365.3 595.3 367 598.3 368.7 601.2 370.3 604.1 371.9 607 373.5 609.8 375.1 612.7 376.6 615.4 378.1 618.1 379.7 620.7 381.2 623.2 382.6 625.6 384.1 627.9 385.5 630 386.9 631.9 388.3 633.9 389.7 635.7 391 637.5 392.4 639.3 393.7 641.1 394.9 642.9 396.1 644.7 397.3 646.5 398.5 648.2 399.6 649.9 400.7 651.6 401.8 653.3 402.9 654.9 403.9 656.4 405 658 405.9 659.5 406.9 660.9 407.9 662.4 408.8 663.8 409.7 665.2 410.7 666.6 411.6 668 412.7 669.5 413.8 671.1 414.9 672.6 416 674 417.1 675.3 418.1 676.4 418.9 677.2 419.5"/></g><g clip-path="url(#c2)"><path fill="#000000" d="M191 471.4l2.7 2.7l-2.7 2.7l-2.7 -2.7zM192.9 467.2l2.7 2.7l-2.7 2.7l-2.7 -2.7zM194.3 461.3l2.7 2.7l-2.7 2.7l-2.7 -2.7zM197.2 454.1l2.7 2.7l-2.7 2.7l-2.7 -2.7zM199.9 444.6l2.7 2.7l-2.7 2.7l-2.7 -2.7zM204.6 433.2l2.7 2.7l-2.7 2.7l-2.7 -2.7zM211.1 419.8l2.7 2.7l-2.7 2.7l-2.7 -2.7zM221.4 403.2l2.7 2.7l-2.7 2.7l-2.7 -2.7zM235.1 384.9l2.7 2.7l-2.7 2.7l-2.7 -2.7zM254.7 364.4l2.7 2.7l-2.7 2.7l-2.7 -2.7zM281.4 343.5l2.7 2.7l-2.7 2.7l-2.7 -2.7zM316.1 322.1l2.7 2.7l-2.7 2.7l-2.7 -2.7zM360 305.2l2.7 2.7l-2.7 2.7l-2.7 -2.7zM407.4 293.5l2.7 2.7l-2.7 2.7l-2.7 -2.7zM462.3 290.3l2.7 2.7l-2.7 2.7l-2.7 -2.7zM514.3 294.9l2.7 2.7l-2.7 2.7l-2.7 -2.7zM562.7 306.3l2.7 2.7l-2.7 2.7l-2.7 -2.7zM604.1 321.8l2.7 2.7l-2.7 2.7l-2.7 -2.7zM638.9 342.5l2.7 2.7l-2.7 2.7l-2.7 -2.7zM665.8 361.5l2.7 2.7l-2.7 2.7l-2.7 -2.7zM685.4 379.3l2.7 2.7l-2.7 2.7l-2.7 -2.7zM701.2 395.6l2.7 2.7l-2.7 2.7l-2.7 -2.7zM714.9 407.9l2.7 2.7l-2.7 2.7l-2.7 -2.7zM725.1 420l2.7 2.7l-2.7 2.7l-2.7 -2.7zM736 429.8l2.7 2.7l-2.7 2.7l-2.7 -2.7zM739.9 434.5l2.7 2.7l-2.7 2.7l-2.7 -2.7zM743.9 438.1l2.7 2.7l-2.7 2.7l-2.7 -2.7zM747.8 441.1l2.7 2.7l-2.7 2.7l-2.7 -2.7zM751.8 444.1l2.7 2.7l-2.7 2.7l-2.7 -2.7zM755.7 446.9l2.7 2.7l-2.7 2.7l-2.7 -2.7zM759.5 449.4l2.7 2.7l-2.7 2.7l-2.7 -2.7zM762.9 452.2l2.7 2.7l-2.7 2.7l-2.7 -2.7zM767 455.2l2.7 2.7l-2.7 2.7l-2.7 -2.7zM771.5 456.5l2.7 2.7l-2.7 2.7l-2.7 -2.7zM775.8 457.3l2.7 2.7l-2.7 2.7l-2.7 -2.7zM781 459.1l2.7 2.7l-2.7 2.7l-2.7 -2.7zM786.9 460.5l2.7 2.7l-2.7 2.7l-2.7 -2.7zM792.9 459.1l2.7 2.7l-2.7 2.7l-2.7 -2.7zM800.2 456.2l2.7 2.7l-2.7 2.7l-2.7 -2.7z"/><path fill="#0000FF" d="M177.1 493.3l2.7 2.7l-2.7 2.7l-2.7 -2.7zM177.5 491.7l2.7 2.7l-2.7 2.7l-2.7 -2.7zM178 490.1l2.7 2.7l-2.7 2.7l-2.7 -2.7zM178.4 488.6l2.7 2.7l-2.7 2.7l-2.7 -2.7zM178.9 487l2.7 2.7l-2.7 2.7l-2.7 -2.7zM179.4 485.4l2.7 2.7l-2.7 2.7l-2.7 -2.7zM180 483.9l2.7 2.7l-2.7 2.7l-2.7 -2.7zM180.8 482.5l2.7 2.7l-2.7 2.7l-2.7 -2.7zM181.7 481.1l2.7 2.7l-2.7 2.7l-2.7 -2.7zM182.7 479.8l2.7 2.7l-2.7 2.7l-2.7 -2.7zM183.8 478.6l2.7 2.7l-2.7 2.7l-2.7 -2.7zM184.9 477.4l2.7 2.7l-2.7 2.7l-2.7 -2.7zM186.1 476.3l2.7 2.7l-2.7 2.7l-2.7 -2.7zM187.3 475.2l2.7 2.7l-2.7 2.7l-2.7 -2.7zM188.5 474.1l2.7 2.7l-2.7 2.7l-2.7 -2.7zM189.8 473l2.7 2.7l-2.7 2.7l-2.7 -2.7zM191 471.9l2.7 2.7l-2.7 2.7l-2.7 -2.7zM192.3 470.9l2.7 2.7l-2.7 2.7l-2.7 -2.7zM193.6 470l2.7 2.7l-2.7 2.7l-2.7 -2.7zM195 469.1l2.7 2.7l-2.7 2.7l-2.7 -2.7zM196.5 468.3l2.7 2.7l-2.7 2.7l-2.7 -2.7zM198 467.7l2.7 2.7l-2.7 2.7l-2.7 -2.7zM199.5 467.1l2.7 2.7l-2.7 2.7l-2.7 -2.7zM201.1 466.6l2.7 2.7l-2.7 2.7l-2.7 -2.7zM202.7 466.2l2.7 2.7l-2.7 2.7l-2.7 -2.7zM204.3 465.9l2.7 2.7l-2.7 2.7l-2.7 -2.7zM205.9 465.5l2.7 2.7l-2.7 2.7l-2.7 -2.7zM207.5 465.2l2.7 2.7l-2.7 2.7l-2.7 -2.7zM209.1 465l2.7 2.7l-2.7 2.7l-2.7 -2.7zM210.7 464.7l2.7 2.7l-2.7 2.7l-2.7 -2.7zM212.3 464.5l2.7 2.7l-2.7 2.7l-2.7 -2.7zM214 464.3l2.7 2.7l-2.7 2.7l-2.7 -2.7zM215.6 464.2l2.7 2.7l-2.7 2.7l-2.7 -2.7zM217.2 464.2l2.7 2.7l-2.7 2.7l-2.7 -2.7zM218.9 464.1l2.7 2.7l-2.7 2.7l-2.7 -2.7zM220.5 464.1l2.7 2.7l-2.7 2.7l-2.7 -2.7zM222.1 464l2.7 2.7l-2.7 2.7l-2.7 -2.7zM216.5 465.4l2.7 2.7l-2.7 2.7l-2.7 -2.7zM222.8 464.6l2.7 2.7l-2.7 2.7l-2.7 -2.7zM229.3 464.6l2.7 2.7l-2.7 2.7l-2.7 -2.7zM235.6 465l2.7 2.7l-2.7 2.7l-2.7 -2.7zM240.3 465.5l2.7 2.7l-2.7 2.7l-2.7 -2.7zM245.1 466.3l2.7 2.7l-2.7 2.7l-2.7 -2.7zM249.8 467.6l2.7 2.7l-2.7 2.7l-2.7 -2.7zM254.6 468.7l2.7 2.7l-2.7 2.7l-2.7 -2.7zM259.6 470.6l2.7 2.7l-2.7 2.7l-2.7 -2.7z"/><path fill="#0000FF" d="M259.6 470.6l2.7 2.7l-2.7 2.7l-2.7 -2.7zM263.4 472.4l2.7 2.7l-2.7 2.7l-2.7 -2.7zM267.3 473.9l2.7 2.7l-2.7 2.7l-2.7 -2.7zM271.3 475l2.7 2.7l-2.7 2.7l-2.7 -2.7zM275.4 475.7l2.7 2.7l-2.7 2.7l-2.7 -2.7zM279.6 475.9l2.7 2.7l-2.7 2.7l-2.7 -2.7zM283.7 475.3l2.7 2.7l-2.7 2.7l-2.7 -2.7zM287.7 474.1l2.7 2.7l-2.7 2.7l-2.7 -2.7zM291.3 471.9l2.7 2.7l-2.7 2.7l-2.7 -2.7zM294.8 469.6l2.7 2.7l-2.7 2.7l-2.7 -2.7zM298.5 467.6l2.7 2.7l-2.7 2.7l-2.7 -2.7zM302.3 465.8l2.7 2.7l-2.7 2.7l-2.7 -2.7zM306.1 464.2l2.7 2.7l-2.7 2.7l-2.7 -2.7z"/><path fill="#92D050" d="M188.9 493.3l2.7 2.7l-2.7 2.7l-2.7 -2.7zM190.4 492.8l2.7 2.7l-2.7 2.7l-2.7 -2.7zM191.9 492.2l2.7 2.7l-2.7 2.7l-2.7 -2.7zM193.4 491.7l2.7 2.7l-2.7 2.7l-2.7 -2.7zM195 491.1l2.7 2.7l-2.7 2.7l-2.7 -2.7zM196.5 490.5l2.7 2.7l-2.7 2.7l-2.7 -2.7zM198 489.9l2.7 2.7l-2.7 2.7l-2.7 -2.7zM199.5 489.3l2.7 2.7l-2.7 2.7l-2.7 -2.7zM201 488.7l2.7 2.7l-2.7 2.7l-2.7 -2.7zM202.5 488.1l2.7 2.7l-2.7 2.7l-2.7 -2.7zM204.1 487.5l2.7 2.7l-2.7 2.7l-2.7 -2.7zM205.6 486.9l2.7 2.7l-2.7 2.7l-2.7 -2.7zM207.1 486.3l2.7 2.7l-2.7 2.7l-2.7 -2.7zM208.7 485.7l2.7 2.7l-2.7 2.7l-2.7 -2.7zM210.2 485.1l2.7 2.7l-2.7 2.7l-2.7 -2.7zM211.6 484.4l2.7 2.7l-2.7 2.7l-2.7 -2.7zM213.1 483.6l2.7 2.7l-2.7 2.7l-2.7 -2.7zM214.5 482.8l2.7 2.7l-2.7 2.7l-2.7 -2.7zM215.9 481.9l2.7 2.7l-2.7 2.7l-2.7 -2.7zM217.2 481l2.7 2.7l-2.7 2.7l-2.7 -2.7zM218.5 480l2.7 2.7l-2.7 2.7l-2.7 -2.7zM219.7 478.8l2.7 2.7l-2.7 2.7l-2.7 -2.7zM220.7 477.6l2.7 2.7l-2.7 2.7l-2.7 -2.7zM221.8 476.3l2.7 2.7l-2.7 2.7l-2.7 -2.7zM222.9 475.1l2.7 2.7l-2.7 2.7l-2.7 -2.7zM224.1 474l2.7 2.7l-2.7 2.7l-2.7 -2.7zM225.2 472.8l2.7 2.7l-2.7 2.7l-2.7 -2.7zM226.4 471.7l2.7 2.7l-2.7 2.7l-2.7 -2.7zM227.6 470.6l2.7 2.7l-2.7 2.7l-2.7 -2.7zM228.8 469.5l2.7 2.7l-2.7 2.7l-2.7 -2.7zM230.2 468.7l2.7 2.7l-2.7 2.7l-2.7 -2.7zM231.6 467.8l2.7 2.7l-2.7 2.7l-2.7 -2.7z"/><path fill="#00B050" d="M177.9 493.3l2.7 2.7l-2.7 2.7l-2.7 -2.7zM178.3 491.7l2.7 2.7l-2.7 2.7l-2.7 -2.7zM178.7 490.2l2.7 2.7l-2.7 2.7l-2.7 -2.7zM179.1 488.6l2.7 2.7l-2.7 2.7l-2.7 -2.7zM179.5 487l2.7 2.7l-2.7 2.7l-2.7 -2.7zM180 485.5l2.7 2.7l-2.7 2.7l-2.7 -2.7zM180.4 483.9l2.7 2.7l-2.7 2.7l-2.7 -2.7zM181 482.4l2.7 2.7l-2.7 2.7l-2.7 -2.7zM181.6 480.9l2.7 2.7l-2.7 2.7l-2.7 -2.7zM182.3 479.4l2.7 2.7l-2.7 2.7l-2.7 -2.7zM183 478l2.7 2.7l-2.7 2.7l-2.7 -2.7zM183.9 476.7l2.7 2.7l-2.7 2.7l-2.7 -2.7zM185 475.4l2.7 2.7l-2.7 2.7l-2.7 -2.7zM186.1 474.2l2.7 2.7l-2.7 2.7l-2.7 -2.7zM187.2 473.1l2.7 2.7l-2.7 2.7l-2.7 -2.7zM188.5 472.1l2.7 2.7l-2.7 2.7l-2.7 -2.7zM189.8 471.1l2.7 2.7l-2.7 2.7l-2.7 -2.7zM191.2 470.3l2.7 2.7l-2.7 2.7l-2.7 -2.7zM192.6 469.6l2.7 2.7l-2.7 2.7l-2.7 -2.7zM194.2 469l2.7 2.7l-2.7 2.7l-2.7 -2.7zM195.7 468.5l2.7 2.7l-2.7 2.7l-2.7 -2.7zM197.3 468.1l2.7 2.7l-2.7 2.7l-2.7 -2.7zM198.9 467.8l2.7 2.7l-2.7 2.7l-2.7 -2.7zM200.5 467.6l2.7 2.7l-2.7 2.7l-2.7 -2.7zM202.1 467.5l2.7 2.7l-2.7 2.7l-2.7 -2.7zM203.7 467.5l2.7 2.7l-2.7 2.7l-2.7 -2.7zM205.3 467.5l2.7 2.7l-2.7 2.7l-2.7 -2.7zM206.9 467.5l2.7 2.7l-2.7 2.7l-2.7 -2.7zM208.6 467.4l2.7 2.7l-2.7 2.7l-2.7 -2.7zM210.2 467.4l2.7 2.7l-2.7 2.7l-2.7 -2.7zM211.8 467.4l2.7 2.7l-2.7 2.7l-2.7 -2.7zM213.4 467.4l2.7 2.7l-2.7 2.7l-2.7 -2.7zM215 467.4l2.7 2.7l-2.7 2.7l-2.7 -2.7zM216.7 467.4l2.7 2.7l-2.7 2.7l-2.7 -2.7zM218.3 467.5l2.7 2.7l-2.7 2.7l-2.7 -2.7zM219.9 467.5l2.7 2.7l-2.7 2.7l-2.7 -2.7zM221.5 467.5l2.7 2.7l-2.7 2.7l-2.7 -2.7zM223.1 467.6l2.7 2.7l-2.7 2.7l-2.7 -2.7zM224.8 467.6l2.7 2.7l-2.7 2.7l-2.7 -2.7zM226.4 467.5l2.7 2.7l-2.7 2.7l-2.7 -2.7zM228 467.5l2.7 2.7l-2.7 2.7l-2.7 -2.7zM229.6 467.6l2.7 2.7l-2.7 2.7l-2.7 -2.7zM231.2 467.9l2.7 2.7l-2.7 2.7l-2.7 -2.7zM232.7 468.6l2.7 2.7l-2.7 2.7l-2.7 -2.7zM234 469.5l2.7 2.7l-2.7 2.7l-2.7 -2.7zM235.3 470.4l2.7 2.7l-2.7 2.7l-2.7 -2.7zM236.7 471.3l2.7 2.7l-2.7 2.7l-2.7 -2.7zM238.1 472.2l2.7 2.7l-2.7 2.7l-2.7 -2.7zM239.4 473.1l2.7 2.7l-2.7 2.7l-2.7 -2.7zM240.8 474l2.7 2.7l-2.7 2.7l-2.7 -2.7zM242.1 474.8l2.7 2.7l-2.7 2.7l-2.7 -2.7zM243.6 475.6l2.7 2.7l-2.7 2.7l-2.7 -2.7zM245 476.3l2.7 2.7l-2.7 2.7l-2.7 -2.7zM246.5 477l2.7 2.7l-2.7 2.7l-2.7 -2.7zM248 477.6l2.7 2.7l-2.7 2.7l-2.7 -2.7zM249.5 478.1l2.7 2.7l-2.7 2.7l-2.7 -2.7zM251.1 478.6l2.7 2.7l-2.7 2.7l-2.7 -2.7zM252.6 479.1l2.7 2.7l-2.7 2.7l-2.7 -2.7zM254.1 479.6l2.7 2.7l-2.7 2.7l-2.7 -2.7zM255.7 480l2.7 2.7l-2.7 2.7l-2.7 -2.7zM257.3 480.2l2.7 2.7l-2.7 2.7l-2.7 -2.7zM258.9 480.3l2.7 2.7l-2.7 2.7l-2.7 -2.7zM260.6 480.3l2.7 2.7l-2.7 2.7l-2.7 -2.7zM262.2 480.2l2.7 2.7l-2.7 2.7l-2.7 -2.7zM263.8 479.9l2.7 2.7l-2.7 2.7l-2.7 -2.7zM265.3 479.4l2.7 2.7l-2.7 2.7l-2.7 -2.7zM266.8 478.7l2.7 2.7l-2.7 2.7l-2.7 -2.7zM268.2 477.9l2.7 2.7l-2.7 2.7l-2.7 -2.7zM269.5 477l2.7 2.7l-2.7 2.7l-2.7 -2.7zM270.8 476.1l2.7 2.7l-2.7 2.7l-2.7 -2.7zM272 475l2.7 2.7l-2.7 2.7l-2.7 -2.7zM273.1 473.8l2.7 2.7l-2.7 2.7l-2.7 -2.7zM274 472.4l2.7 2.7l-2.7 2.7l-2.7 -2.7zM275.1 471.2l2.7 2.7l-2.7 2.7l-2.7 -2.7zM276.3 470.1l2.7 2.7l-2.7 2.7l-2.7 -2.7zM277.6 469.2l2.7 2.7l-2.7 2.7l-2.7 -2.7zM279 468.3l2.7 2.7l-2.7 2.7l-2.7 -2.7zM280.3 467.4l2.7 2.7l-2.7 2.7l-2.7 -2.7z"/><path fill="#548235" d="M178.2 493.3l2.7 2.7l-2.7 2.7l-2.7 -2.7zM179.3 492.2l2.7 2.7l-2.7 2.7l-2.7 -2.7zM180.5 491l2.7 2.7l-2.7 2.7l-2.7 -2.7zM181.6 489.8l2.7 2.7l-2.7 2.7l-2.7 -2.7zM182.7 488.6l2.7 2.7l-2.7 2.7l-2.7 -2.7zM183.8 487.4l2.7 2.7l-2.7 2.7l-2.7 -2.7zM184.8 486.2l2.7 2.7l-2.7 2.7l-2.7 -2.7zM184.8 486.2l2.7 2.7l-2.7 2.7l-2.7 -2.7zM188.3 480.5l2.7 2.7l-2.7 2.7l-2.7 -2.7zM192.6 474.9l2.7 2.7l-2.7 2.7l-2.7 -2.7zM196.1 470.3l2.7 2.7l-2.7 2.7l-2.7 -2.7zM201.3 466.1l2.7 2.7l-2.7 2.7l-2.7 -2.7zM206.7 463.3l2.7 2.7l-2.7 2.7l-2.7 -2.7zM213.8 459.7l2.7 2.7l-2.7 2.7l-2.7 -2.7zM221 457.3l2.7 2.7l-2.7 2.7l-2.7 -2.7zM229.7 455.6l2.7 2.7l-2.7 2.7l-2.7 -2.7zM239.1 454.5l2.7 2.7l-2.7 2.7l-2.7 -2.7zM248.2 455.2l2.7 2.7l-2.7 2.7l-2.7 -2.7zM256.8 456.1l2.7 2.7l-2.7 2.7l-2.7 -2.7zM264.8 458.2l2.7 2.7l-2.7 2.7l-2.7 -2.7zM271.8 460.8l2.7 2.7l-2.7 2.7l-2.7 -2.7zM277.6 463.7l2.7 2.7l-2.7 2.7l-2.7 -2.7zM283.2 465.7l2.7 2.7l-2.7 2.7l-2.7 -2.7zM288.6 468l2.7 2.7l-2.7 2.7l-2.7 -2.7zM293.3 470.1l2.7 2.7l-2.7 2.7l-2.7 -2.7zM298 471.6l2.7 2.7l-2.7 2.7l-2.7 -2.7zM302.5 472.7l2.7 2.7l-2.7 2.7l-2.7 -2.7zM307.2 472.5l2.7 2.7l-2.7 2.7l-2.7 -2.7zM311.9 471.4l2.7 2.7l-2.7 2.7l-2.7 -2.7zM316.7 469.3l2.7 2.7l-2.7 2.7l-2.7 -2.7zM321.1 466.7l2.7 2.7l-2.7 2.7l-2.7 -2.7zM324.6 463.7l2.7 2.7l-2.7 2.7l-2.7 -2.7zM327.8 460.5l2.7 2.7l-2.7 2.7l-2.7 -2.7z"/><path fill="#ED7D31" d="M181.8 493.3l2.7 2.7l-2.7 2.7l-2.7 -2.7zM183.2 492.5l2.7 2.7l-2.7 2.7l-2.7 -2.7zM184.6 491.6l2.7 2.7l-2.7 2.7l-2.7 -2.7zM186 490.8l2.7 2.7l-2.7 2.7l-2.7 -2.7zM187.4 489.9l2.7 2.7l-2.7 2.7l-2.7 -2.7zM188.8 489.1l2.7 2.7l-2.7 2.7l-2.7 -2.7zM190.2 488.2l2.7 2.7l-2.7 2.7l-2.7 -2.7zM191.6 487.4l2.7 2.7l-2.7 2.7l-2.7 -2.7zM193 486.5l2.7 2.7l-2.7 2.7l-2.7 -2.7zM194.4 485.7l2.7 2.7l-2.7 2.7l-2.7 -2.7zM195.8 484.8l2.7 2.7l-2.7 2.7l-2.7 -2.7zM197.1 484l2.7 2.7l-2.7 2.7l-2.7 -2.7zM198.5 483.1l2.7 2.7l-2.7 2.7l-2.7 -2.7zM199.9 482.2l2.7 2.7l-2.7 2.7l-2.7 -2.7zM201.3 481.3l2.7 2.7l-2.7 2.7l-2.7 -2.7zM202.6 480.4l2.7 2.7l-2.7 2.7l-2.7 -2.7zM204 479.5l2.7 2.7l-2.7 2.7l-2.7 -2.7zM205.3 478.6l2.7 2.7l-2.7 2.7l-2.7 -2.7zM206.7 477.7l2.7 2.7l-2.7 2.7l-2.7 -2.7zM208 476.8l2.7 2.7l-2.7 2.7l-2.7 -2.7zM209.4 475.9l2.7 2.7l-2.7 2.7l-2.7 -2.7zM210.7 475l2.7 2.7l-2.7 2.7l-2.7 -2.7zM212 474l2.7 2.7l-2.7 2.7l-2.7 -2.7zM213.4 473.1l2.7 2.7l-2.7 2.7l-2.7 -2.7zM214.7 472.2l2.7 2.7l-2.7 2.7l-2.7 -2.7zM216.1 471.3l2.7 2.7l-2.7 2.7l-2.7 -2.7zM217.4 470.3l2.7 2.7l-2.7 2.7l-2.7 -2.7zM218.8 469.4l2.7 2.7l-2.7 2.7l-2.7 -2.7zM220.1 468.5l2.7 2.7l-2.7 2.7l-2.7 -2.7z"/><path fill="#FFC000" d="M176.8 493.3l2.7 2.7l-2.7 2.7l-2.7 -2.7zM177.3 491.6l2.7 2.7l-2.7 2.7l-2.7 -2.7zM177.8 490l2.7 2.7l-2.7 2.7l-2.7 -2.7zM178.3 488.3l2.7 2.7l-2.7 2.7l-2.7 -2.7zM178.9 486.7l2.7 2.7l-2.7 2.7l-2.7 -2.7zM179.6 485.1l2.7 2.7l-2.7 2.7l-2.7 -2.7zM180.2 483.5l2.7 2.7l-2.7 2.7l-2.7 -2.7zM181 482l2.7 2.7l-2.7 2.7l-2.7 -2.7zM181.8 480.4l2.7 2.7l-2.7 2.7l-2.7 -2.7zM182.6 478.9l2.7 2.7l-2.7 2.7l-2.7 -2.7zM183.4 477.4l2.7 2.7l-2.7 2.7l-2.7 -2.7zM183.4 477.4l2.7 2.7l-2.7 2.7l-2.7 -2.7zM185.2 472.8l2.7 2.7l-2.7 2.7l-2.7 -2.7zM187.1 468.1l2.7 2.7l-2.7 2.7l-2.7 -2.7zM189.1 463.7l2.7 2.7l-2.7 2.7l-2.7 -2.7zM192.1 457l2.7 2.7l-2.7 2.7l-2.7 -2.7zM195.9 449.2l2.7 2.7l-2.7 2.7l-2.7 -2.7zM201.3 440l2.7 2.7l-2.7 2.7l-2.7 -2.7zM207.8 430.2l2.7 2.7l-2.7 2.7l-2.7 -2.7zM216.5 418.3l2.7 2.7l-2.7 2.7l-2.7 -2.7zM228.2 403.7l2.7 2.7l-2.7 2.7l-2.7 -2.7zM244.8 388.6l2.7 2.7l-2.7 2.7l-2.7 -2.7zM265.5 372.8l2.7 2.7l-2.7 2.7l-2.7 -2.7zM290.1 357.6l2.7 2.7l-2.7 2.7l-2.7 -2.7zM321.8 343.8l2.7 2.7l-2.7 2.7l-2.7 -2.7zM358.3 332.4l2.7 2.7l-2.7 2.7l-2.7 -2.7zM397.3 324.8l2.7 2.7l-2.7 2.7l-2.7 -2.7zM439.1 321.8l2.7 2.7l-2.7 2.7l-2.7 -2.7zM479.9 325.6l2.7 2.7l-2.7 2.7l-2.7 -2.7zM516.7 333.2l2.7 2.7l-2.7 2.7l-2.7 -2.7zM551.3 344l2.7 2.7l-2.7 2.7l-2.7 -2.7zM579.6 356l2.7 2.7l-2.7 2.7l-2.7 -2.7zM604.1 369.2l2.7 2.7l-2.7 2.7l-2.7 -2.7zM625.6 381.4l2.7 2.7l-2.7 2.7l-2.7 -2.7zM641.1 392.2l2.7 2.7l-2.7 2.7l-2.7 -2.7zM654.9 401.2l2.7 2.7l-2.7 2.7l-2.7 -2.7zM666.6 408.9l2.7 2.7l-2.7 2.7l-2.7 -2.7zM677.2 416.8l2.7 2.7l-2.7 2.7l-2.7 -2.7z"/><path fill="#FF0000" d="M178.7 493.2l2.8 2.8l-2.8 2.8l-2.8 -2.8zM179.9 492.1l2.8 2.8l-2.8 2.8l-2.8 -2.8zM181.1 491l2.8 2.8l-2.8 2.8l-2.8 -2.8zM182.3 489.9l2.8 2.8l-2.8 2.8l-2.8 -2.8zM183.6 488.8l2.8 2.8l-2.8 2.8l-2.8 -2.8zM184.8 487.7l2.8 2.8l-2.8 2.8l-2.8 -2.8zM186 486.6l2.8 2.8l-2.8 2.8l-2.8 -2.8zM187.3 485.5l2.8 2.8l-2.8 2.8l-2.8 -2.8zM188.6 484.5l2.8 2.8l-2.8 2.8l-2.8 -2.8zM189.9 483.5l2.8 2.8l-2.8 2.8l-2.8 -2.8zM191.2 482.5l2.8 2.8l-2.8 2.8l-2.8 -2.8zM192.5 481.6l2.8 2.8l-2.8 2.8l-2.8 -2.8zM193.9 480.6l2.8 2.8l-2.8 2.8l-2.8 -2.8zM195.2 479.6l2.8 2.8l-2.8 2.8l-2.8 -2.8zM196.6 478.7l2.8 2.8l-2.8 2.8l-2.8 -2.8zM197.9 477.7l2.8 2.8l-2.8 2.8l-2.8 -2.8zM199.3 476.8l2.8 2.8l-2.8 2.8l-2.8 -2.8zM200.6 475.8l2.8 2.8l-2.8 2.8l-2.8 -2.8zM202 474.9l2.8 2.8l-2.8 2.8l-2.8 -2.8zM203.3 473.9l2.8 2.8l-2.8 2.8l-2.8 -2.8zM204.7 473l2.8 2.8l-2.8 2.8l-2.8 -2.8zM206 472l2.8 2.8l-2.8 2.8l-2.8 -2.8zM207.4 471.1l2.8 2.8l-2.8 2.8l-2.8 -2.8zM208.7 470.2l2.8 2.8l-2.8 2.8l-2.8 -2.8zM210.1 469.2l2.8 2.8l-2.8 2.8l-2.8 -2.8zM211.4 468.3l2.8 2.8l-2.8 2.8l-2.8 -2.8z"/></g></g><path fill="none" stroke="#404040" stroke-width="1.2" d="M176.3 365.4V496H334.4V365.4Z"/><path stroke="#404040" stroke-width="1" d="M207.9 496V492.5M176.3 469.9H179.8M239.5 496V492.5M176.3 443.8H179.8M271.2 496V492.5M176.3 417.6H179.8M302.8 496V492.5M176.3 391.5H179.8"/><text x="176.3" y="511.7" font-size="8.5" text-anchor="middle" font-weight="normal" fill="#404040" stroke="#404040" stroke-width="0.22" >0</text><text x="167.6" y="499.1" font-size="8.5" text-anchor="end" font-weight="normal" fill="#404040" stroke="#404040" stroke-width="0.22" >0</text><text x="207.9" y="511.7" font-size="8.5" text-anchor="middle" font-weight="normal" fill="#404040" stroke="#404040" stroke-width="0.22" >2</text><text x="167.6" y="473" font-size="8.5" text-anchor="end" font-weight="normal" fill="#404040" stroke="#404040" stroke-width="0.22" >2</text><text x="239.5" y="511.7" font-size="8.5" text-anchor="middle" font-weight="normal" fill="#404040" stroke="#404040" stroke-width="0.22" >4</text><text x="167.6" y="446.9" font-size="8.5" text-anchor="end" font-weight="normal" fill="#404040" stroke="#404040" stroke-width="0.22" >4</text><text x="271.2" y="511.7" font-size="8.5" text-anchor="middle" font-weight="normal" fill="#404040" stroke="#404040" stroke-width="0.22" >6</text><text x="167.6" y="420.7" font-size="8.5" text-anchor="end" font-weight="normal" fill="#404040" stroke="#404040" stroke-width="0.22" >6</text><text x="302.8" y="511.7" font-size="8.5" text-anchor="middle" font-weight="normal" fill="#404040" stroke="#404040" stroke-width="0.22" >8</text><text x="167.6" y="394.6" font-size="8.5" text-anchor="end" font-weight="normal" fill="#404040" stroke="#404040" stroke-width="0.22" >8</text><text x="334.4" y="511.7" font-size="8.5" text-anchor="middle" font-weight="normal" fill="#404040" stroke="#404040" stroke-width="0.22" >10</text><text x="167.6" y="368.5" font-size="8.5" text-anchor="end" font-weight="normal" fill="#404040" stroke="#404040" stroke-width="0.22" >10</text><text x="334.6" y="521.7" font-size="8.9" text-anchor="end" font-weight="bold" fill="#222" ><tspan font-style="italic">Z</tspan>' [kΩ]</text><g transform="translate(154.8 382) rotate(-90)"><text x="0" y="0" font-size="9" text-anchor="middle" font-weight="bold" fill="#222" >–<tspan font-style="italic">Z</tspan>'' [kΩ]</text></g><clipPath id="c4"><rect x="401.5" y="360" width="296.5" height="254.9"/></clipPath><g clip-path="url(#c4)"><path fill="none" stroke="#000000" stroke-width="1" d="M405.5 610.9 405.6 610.4 405.6 609.7 405.7 608.9 405.8 608 405.9 607.1 406.1 606.1 406.2 605.2 406.4 604.3 406.6 603.4 406.8 602.5 407 601.6 407.2 600.7 407.4 599.8 407.7 598.9 407.9 598 408.2 597.1 408.4 596.2 408.7 595.4 408.9 594.5 409.1 593.7 409.4 592.8 409.7 591.8 410 590.8 410.4 589.7 410.9 588.5 411.4 587.1 412 585.6 412.6 584.1 413.2 582.6 413.9 581.1 414.5 579.8 415.1 578.5 415.6 577.5 416.1 576.5 416.6 575.7 417.1 574.9 417.6 574.1 418.1 573.3 418.7 572.4 419.3 571.5 419.9 570.5 420.6 569.5 421.3 568.4 422.1 567.3 422.9 566.2 423.6 565.1 424.5 564 425.3 562.9 426.1 561.7 427 560.6 427.8 559.4 428.7 558.3 429.6 557.1 430.6 555.9 431.7 554.7 432.8 553.6 434 552.4 435.3 551.2 436.6 550 438 548.8 439.5 547.6 441 546.4 442.5 545.2 444.1 544 445.7 542.8 447.3 541.6 449 540.4 450.7 539.1 452.5 537.9 454.4 536.7 456.3 535.5 458.3 534.4 460.4 533.3 462.6 532.2 464.8 531.1 467.1 530 469.5 529 471.9 528 474.3 527 476.8 526.1 479.3 525.2 481.8 524.3 484.3 523.5 486.9 522.7 489.5 521.9 492.2 521.2 494.9 520.6 497.6 520.1 500.4 519.6 503.3 519.2 506.2 518.9 509.2 518.6 512.2 518.4 515.2 518.2 518.1 518.1 521 518.1 523.9 518.1 526.7 518.1 529.5 518.2 532.3 518.4 535.1 518.6 537.8 518.9 540.5 519.2 543.3 519.6 546 520 548.7 520.4 551.5 520.9 554.2 521.5 556.9 522.1 559.5 522.7 562 523.4 564.5 524.1 566.8 524.9 569.1 525.7 571.3 526.6 573.5 527.5 575.6 528.5 577.6 529.5 579.7 530.5 581.7 531.5 583.8 532.5 585.8 533.5 587.8 534.6 589.8 535.6 591.8 536.7 593.7 537.8 595.5 538.8 597.2 539.9 598.9 540.9 600.5 542 602 543.1 603.4 544.1 604.8 545.2 606.2 546.2 607.5 547.3 608.8 548.3 610 549.3 611.2 550.4 612.3 551.4 613.4 552.4 614.5 553.5 615.5 554.5 616.6 555.5 617.6 556.5 618.6 557.4 619.5 558.4 620.5 559.3 621.4 560.3 622.3 561.2 623.2 562.1 624 563 624.9 563.9 625.7 564.7 626.4 565.5 627.2 566.3 627.9 567.1 628.6 567.9 629.3 568.6 630 569.4 630.7 570.1 631.5 570.9 632.2 571.6 632.9 572.4 633.6 573.1 634.4 573.8 635.1 574.5 635.8 575.2 636.6 575.8 637.3 576.3 638.1 576.9 638.8 577.4 639.6 577.9 640.3 578.3 641.1 578.8 641.8 579.2 642.6 579.5 643.3 579.9 644.1 580.2 644.9 580.4 645.6 580.7 646.4 580.9 647.1 581.1 647.7 581.3 648.3 581.4 648.8 581.6 649.3 581.7 649.7 581.8 650.1 581.9 650.4 581.9 650.7 582 651 582 651.2 582"/><path fill="none" stroke="#0000FF" stroke-width="1" d="M405.5 610.9 405.5 610.6 405.6 610.3 405.6 609.9 405.7 609.5 405.8 609 405.9 608.5 406 608 406.1 607.5 406.2 607 406.4 606.5 406.6 606 406.7 605.4 406.9 604.9 407.1 604.3 407.3 603.8 407.5 603.2 407.7 602.7 407.9 602.1 408.1 601.6 408.3 601 408.5 600.5 408.7 600 408.8 599.4 409 599 409.2 598.6 409.3 598.2 409.5 597.8 409.6 597.5 409.8 597.1 409.9 596.8 410.1 596.5 410.3 596.1 410.5 595.7 410.7 595.4 410.8 595.1 411 594.8 411.2 594.4 411.5 594 411.9 593.4 412.3 592.8 412.9 592.1 413.5 591.3 414.1 590.4 414.8 589.4 415.6 588.4 416.5 587.3 417.5 586.3 418.5 585.3 419.7 584.3 420.9 583.3 422.2 582.2 423.6 581.1 425 580.1 426.6 579 428.2 578 429.9 577 431.7 576 433.7 575 435.7 574 437.8 573 440 572.1 442.2 571.2 444.4 570.5 446.6 569.9 448.8 569.4 451.1 569 453.5 568.7 455.9 568.5 458.2 568.3 460.6 568.3 462.9 568.3 465.2 568.4 467.4 568.5 469.6 568.8 471.8 569.1 474 569.5 476.1 570 478.2 570.5 480.2 571 482.1 571.5 484 572 485.8 572.6 487.5 573.1 489.1 573.7 490.8 574.3 492.4 574.9 494.1 575.6 495.9 576.3 497.7 577 499.7 577.8 501.7 578.6 503.7 579.4 505.7 580.3 507.6 581.1 509.5 581.8 511.2 582.5 513 583.2 514.8 583.9 516.5 584.5 518.2 585.1 519.8 585.6 521.2 586.1 522.3 586.5 523.2 586.8"/><path fill="none" stroke="#92D050" stroke-width="1" d="M407 610.9 407.1 610.8 407.2 610.7 407.3 610.6 407.5 610.4 407.6 610.3 407.8 610.1 408 609.9 408.1 609.8 408.3 609.6 408.4 609.4 408.5 609.2 408.7 609 408.8 608.8 408.9 608.6 409.1 608.3 409.3 608 409.5 607.7 409.7 607.3 409.9 606.9 410.2 606.5 410.4 606.1 410.7 605.7 411 605.3 411.4 605 411.7 604.7 412.2 604.4 412.6 604.1 413.1 603.9 413.6 603.6 414.1 603.4 414.5 603.2 415 603 415.5 602.8 415.9 602.7 416.4 602.6 416.8 602.5 417.3 602.5 417.7 602.4 418.2 602.4 418.7 602.4 419.1 602.3 419.6 602.3 420.1 602.3 420.5 602.4 421 602.4 421.5 602.4 421.9 602.5 422.3 602.5 422.7 602.5 423.1 602.6 423.4 602.7 423.7 602.7 424.1 602.8 424.4 602.9 424.7 602.9 425.1 603 425.5 603.1 425.8 603.1 426.2 603.2 426.6 603.2 427 603.3 427.4 603.4 427.8 603.4 428.2 603.5 428.6 603.6 429 603.6 429.5 603.7 429.9 603.8 430.3 603.8 430.7 603.9 431 604 431.2 604"/><path fill="none" stroke="#00B050" stroke-width="1" d="M407 610.9 407.1 610.7 407.3 610.4 407.5 610.1 407.7 609.8 408 609.4 408.2 609 408.5 608.6 408.8 608.2 409.1 607.8 409.4 607.4 409.7 606.9 410 606.4 410.4 605.9 410.7 605.5 411 605.1 411.3 604.8 411.6 604.5 411.8 604.3 412.1 604.2 412.3 604 412.5 603.9 412.8 603.8 413 603.7 413.3 603.6 413.7 603.5 414.1 603.4 414.5 603.3 414.9 603.2 415.3 603.1 415.7 603 416.1 602.9 416.5 602.9 416.8 602.8 417.1 602.8 417.4 602.8 417.6 602.7 417.9 602.7 418.2 602.7 418.5 602.7 418.8 602.7 419.2 602.8 419.6 602.8 420.1 602.8 420.5 602.9 421 602.9 421.5 603 421.9 603.1 422.3 603.1 422.7 603.2 423.1 603.3 423.4 603.3 423.8 603.4 424.1 603.5 424.5 603.6 424.8 603.7 425.1 603.7 425.4 603.8 425.7 603.9 426 604 426.3 604.1 426.6 604.2 426.9 604.3 427.2 604.4 427.4 604.5 427.7 604.6 428 604.6 428.2 604.7 428.5 604.8 428.7 604.8 429 604.9 429.2 604.9 429.5 605 429.7 605.1 430 605.1 430.3 605.2 430.5 605.3 430.8 605.4 431.1 605.4 431.3 605.5 431.5 605.5 431.8 605.5 432 605.5 432.2 605.5 432.5 605.5 432.7 605.5 432.9 605.5 433 605.5 433.1 605.5"/><path fill="none" stroke="#548235" stroke-width="1" d="M405.9 610.9 406 610.7 406.1 610.3 406.2 610 406.3 609.5 406.4 609.1 406.6 608.6 406.8 608.1 407 607.6 407.2 607.1 407.5 606.6 407.7 606.1 408 605.5 408.4 605 408.7 604.4 409 603.9 409.2 603.4 409.5 602.9 409.7 602.4 409.9 602 410.2 601.6 410.4 601.1 410.6 600.7 410.9 600.2 411.2 599.6 411.5 599 411.8 598.4 412.1 597.8 412.5 597.1 412.8 596.4 413.2 595.7 413.7 595 414.1 594.2 414.6 593.5 415.2 592.7 415.7 591.9 416.3 591.1 416.9 590.2 417.6 589.4 418.3 588.5 419.1 587.6 419.9 586.6 420.8 585.7 421.8 584.7 422.8 583.7 423.8 582.7 424.9 581.6 426.1 580.6 427.4 579.5 428.8 578.5 430.3 577.4 431.9 576.2 433.5 575.1 435.2 574 436.9 572.8 438.7 571.8 440.6 570.8 442.5 569.8 444.5 568.8 446.6 567.8 448.7 566.9 450.8 566 453 565.2 455.3 564.4 457.6 563.7 460 563.1 462.5 562.6 465.2 562.1 467.9 561.6 470.5 561.2 473.1 560.9 475.4 560.6 477.5 560.3 479.2 560.1 480.6 560 481.8 559.9 482.8 559.9 483.9 559.9 485.1 559.9 486.5 560 488.3 560.1 490.4 560.2 492.7 560.3 495.3 560.5 498 560.7 500.7 560.9 503.4 561.1 506.1 561.4 508.6 561.7 510.9 562.1 513.1 562.4 515.2 562.8 517.3 563.2 519.5 563.7 521.8 564.2 524.3 564.8 527 565.4 530.3 566.1 534 566.9 538 567.8 542.2 568.8 546.1 569.7 549.7 570.5 552.7 571.2 555 571.8"/><path fill="none" stroke="#ED7D31" stroke-width="1" d="M405.9 610.9 406 610.7 406.1 610.3 406.1 610 406.2 609.5 406.3 609.1 406.4 608.7 406.6 608.3 406.7 607.9 406.8 607.6 406.9 607.3 407 607 407.2 606.7 407.3 606.4 407.5 606.1 407.7 605.9 407.8 605.6 408 605.4 408.3 605.2 408.5 604.9 408.8 604.7 409.1 604.5 409.3 604.3 409.6 604.2 409.8 604 410 603.8 410.2 603.7 410.3 603.6 410.5 603.5 410.7 603.4 410.8 603.3 411 603.1 411.2 603 411.4 602.9 411.6 602.7 411.8 602.5 412 602.4 412.2 602.2 412.4 602 412.6 601.9 412.8 601.7 413 601.6 413.3 601.5 413.5 601.4 413.7 601.2 414 601.1 414.2 601 414.5 600.9 414.7 600.7 414.9 600.6 415.2 600.5 415.4 600.3 415.6 600.2 415.8 600 416.1 599.9 416.3 599.7 416.6 599.6 416.9 599.5 417.2 599.4 417.6 599.3 417.9 599.3 418.3 599.2 418.7 599.1 419 599.1 419.4 599 419.8 598.9 420.1 598.8 420.5 598.7 420.9 598.6 421.2 598.6 421.6 598.5 422 598.4 422.3 598.4 422.7 598.3 423 598.3 423.4 598.2 423.7 598.2 424.1 598.2 424.4 598.1 424.8 598.1 425.1 598.1 425.4 598.1 425.8 598.1 426.1 598.1 426.5 598.1 426.8 598.1 427.2 598.1 427.5 598.1 427.9 598.1 428.2 598.1 428.6 598.1 428.9 598.2 429.3 598.2 429.6 598.2 430 598.3 430.3 598.3 430.7 598.4 431 598.4 431.3 598.5 431.6 598.6 431.9 598.7 432.2 598.7 432.5 598.8 432.8 598.9 433.1 599 433.5 599 433.8 599.1 434.1 599.1 434.4 599.2 434.7 599.2 435 599.2 435.3 599.3 435.6 599.4 435.9 599.4 436.2 599.5 436.5 599.6 436.8 599.7 437 599.8 437.3 599.9 437.6 600 437.8 600.1 438.1 600.2 438.3 600.3 438.6 600.4 438.8 600.4 439 600.5 439.3 600.6 439.5 600.7 439.7 600.7 439.9 600.8 440.2 600.9 440.4 601 440.6 601 440.8 601.1 441 601.2 441.3 601.3 441.5 601.4 441.7 601.5 441.9 601.6 442.2 601.7 442.4 601.8 442.6 601.9 442.9 602 443.1 602.1 443.4 602.2 443.7 602.3 444 602.5 444.3 602.6 444.6 602.7 444.9 602.8 445.2 602.9 445.4 602.9 445.6 603"/><path fill="none" stroke="#FFC000" stroke-width="1" d="M405.5 610.9 405.7 610.4 406 609.6 406.4 608.7 406.8 607.8 407.2 606.8 407.6 605.9 407.9 605 408.1 604.4 408.3 603.9 408.5 603.5 408.6 603.2 408.6 603 408.7 602.8 408.8 602.7 408.8 602.5 408.9 602.2 409 602 409.1 601.7 409.3 601.5 409.4 601.3 409.5 601 409.6 600.8 409.8 600.5 409.9 600.2 410 599.9 410.2 599.6 410.3 599.3 410.5 599 410.7 598.7 410.8 598.4 411 598.1 411.2 597.7 411.4 597.4 411.6 597.1 411.7 596.8 412 596.4 412.2 596.1 412.4 595.8 412.6 595.4 412.8 595.1 413.1 594.8 413.3 594.4 413.5 594.1 413.8 593.8 414.1 593.4 414.3 593.1 414.6 592.7 414.9 592.3 415.2 591.9 415.5 591.5 415.8 591 416.1 590.5 416.4 590.1 416.8 589.6 417.1 589.1 417.5 588.6 417.9 588.1 418.3 587.6 418.7 587.1 419.2 586.6 419.6 586.1 420.1 585.6 420.5 585 421 584.4 421.5 583.8 421.9 583.2 422.4 582.5 422.9 581.8 423.4 581.1 423.9 580.4 424.4 579.7 425 579 425.5 578.3 426.1 577.6 426.7 576.9 427.3 576.2 427.9 575.5 428.6 574.8 429.2 574.1 429.9 573.4 430.6 572.7 431.4 572 432.2 571.2 432.9 570.5 433.8 569.8 434.6 569 435.5 568.3 436.4 567.5 437.3 566.6 438.4 565.7 439.6 564.7 440.8 563.7 441.9 562.8 442.9 562 443.8 561.2 444.4 560.7"/><path fill="none" stroke="#FF0000" stroke-width="1" d="M405.9 610.8 406 610.6 406.1 610.3 406.2 610 406.4 609.6 406.5 609.2 406.7 608.8 406.9 608.5 407.1 608.2 407.2 608 407.4 607.7 407.6 607.5 407.8 607.3 408 607.1 408.3 607 408.5 606.8 408.8 606.6 409.1 606.5 409.4 606.3 409.7 606.1 410 606 410.3 605.8 410.7 605.7 411 605.6 411.3 605.5 411.6 605.4 411.9 605.4 412.2 605.4 412.5 605.3 412.8 605.3 413.1 605.3 413.4 605.4 413.7 605.4 414 605.4 414.4 605.5 414.7 605.6 415.1 605.7 415.5 605.7 415.8 605.8 416.2 605.9 416.5 606 416.8 606.1 417 606.1 417.3 606.2 417.5 606.3 417.7 606.3 418 606.4 418.2 606.4 418.5 606.5 418.8 606.6 419.2 606.7 419.5 606.8 419.9 606.9 420.2 607 420.5 607.1 420.8 607.2 421 607.3"/><path fill="#000000" d="M405.6 608.4l2.5 2.5l-2.5 2.5l-2.5 -2.5zM405.7 606.7l2.5 2.5l-2.5 2.5l-2.5 -2.5zM405.9 605l2.5 2.5l-2.5 2.5l-2.5 -2.5zM406.1 603.3l2.5 2.5l-2.5 2.5l-2.5 -2.5zM406.4 601.6l2.5 2.5l-2.5 2.5l-2.5 -2.5zM406.5 601.4l2.5 2.5l-2.5 2.5l-2.5 -2.5zM406.9 599.5l2.5 2.5l-2.5 2.5l-2.5 -2.5zM407.4 597.4l2.5 2.5l-2.5 2.5l-2.5 -2.5zM408.1 594.6l2.5 2.5l-2.5 2.5l-2.5 -2.5zM409 591.2l2.5 2.5l-2.5 2.5l-2.5 -2.5zM410.5 587.3l2.5 2.5l-2.5 2.5l-2.5 -2.5zM412.3 582l2.5 2.5l-2.5 2.5l-2.5 -2.5zM415.1 576l2.5 2.5l-2.5 2.5l-2.5 -2.5zM419.3 569l2.5 2.5l-2.5 2.5l-2.5 -2.5zM425.3 560.5l2.5 2.5l-2.5 2.5l-2.5 -2.5zM432.8 551.1l2.5 2.5l-2.5 2.5l-2.5 -2.5zM444.1 542.1l2.5 2.5l-2.5 2.5l-2.5 -2.5zM458.3 532.4l2.5 2.5l-2.5 2.5l-2.5 -2.5zM476.8 524.5l2.5 2.5l-2.5 2.5l-2.5 -2.5zM497.6 518.4l2.5 2.5l-2.5 2.5l-2.5 -2.5zM521 516.3l2.5 2.5l-2.5 2.5l-2.5 -2.5zM543.3 518l2.5 2.5l-2.5 2.5l-2.5 -2.5zM564.5 522.6l2.5 2.5l-2.5 2.5l-2.5 -2.5zM581.7 530l2.5 2.5l-2.5 2.5l-2.5 -2.5zM597.2 537.9l2.5 2.5l-2.5 2.5l-2.5 -2.5zM608.8 546.3l2.5 2.5l-2.5 2.5l-2.5 -2.5zM617.6 554.2l2.5 2.5l-2.5 2.5l-2.5 -2.5zM624.6 561l2.5 2.5l-2.5 2.5l-2.5 -2.5zM630.1 566.5l2.5 2.5l-2.5 2.5l-2.5 -2.5zM634.8 571l2.5 2.5l-2.5 2.5l-2.5 -2.5zM638 574.4l2.5 2.5l-2.5 2.5l-2.5 -2.5zM642.6 577.2l2.5 2.5l-2.5 2.5l-2.5 -2.5zM645.9 578.3l2.5 2.5l-2.5 2.5l-2.5 -2.5zM649.9 579l2.5 2.5l-2.5 2.5l-2.5 -2.5zM654.6 580.6l2.5 2.5l-2.5 2.5l-2.5 -2.5z"/><path fill="#0000FF" d="M405.6 608.4l2.5 2.5l-2.5 2.5l-2.5 -2.5zM406 605.8l2.5 2.5l-2.5 2.5l-2.5 -2.5zM406.5 603.3l2.5 2.5l-2.5 2.5l-2.5 -2.5zM407.5 600.9l2.5 2.5l-2.5 2.5l-2.5 -2.5zM407.5 600.9l2.5 2.5l-2.5 2.5l-2.5 -2.5zM408.1 598.7l2.5 2.5l-2.5 2.5l-2.5 -2.5zM409 596.6l2.5 2.5l-2.5 2.5l-2.5 -2.5zM410.3 593.7l2.5 2.5l-2.5 2.5l-2.5 -2.5zM412.3 590.6l2.5 2.5l-2.5 2.5l-2.5 -2.5zM414.9 587.3l2.5 2.5l-2.5 2.5l-2.5 -2.5zM418.5 582.8l2.5 2.5l-2.5 2.5l-2.5 -2.5zM423.6 578.8l2.5 2.5l-2.5 2.5l-2.5 -2.5zM429.9 574.7l2.5 2.5l-2.5 2.5l-2.5 -2.5zM437.7 571.3l2.5 2.5l-2.5 2.5l-2.5 -2.5zM446.6 568.4l2.5 2.5l-2.5 2.5l-2.5 -2.5zM456 567l2.5 2.5l-2.5 2.5l-2.5 -2.5zM465.2 567.4l2.5 2.5l-2.5 2.5l-2.5 -2.5zM473.7 568.3l2.5 2.5l-2.5 2.5l-2.5 -2.5zM482.1 570.1l2.5 2.5l-2.5 2.5l-2.5 -2.5zM489.6 572l2.5 2.5l-2.5 2.5l-2.5 -2.5zM495.9 574.4l2.5 2.5l-2.5 2.5l-2.5 -2.5zM502 576.7l2.5 2.5l-2.5 2.5l-2.5 -2.5zM506.7 578.5l2.5 2.5l-2.5 2.5l-2.5 -2.5zM511.2 580.4l2.5 2.5l-2.5 2.5l-2.5 -2.5zM515.6 581.9l2.5 2.5l-2.5 2.5l-2.5 -2.5zM519.4 583.2l2.5 2.5l-2.5 2.5l-2.5 -2.5zM523.2 584.7l2.5 2.5l-2.5 2.5l-2.5 -2.5z"/><path fill="#92D050" d="M407 608.5l2.4 2.4l-2.4 2.4l-2.4 -2.4zM408.3 607.2l2.4 2.4l-2.4 2.4l-2.4 -2.4zM409.3 605.6l2.4 2.4l-2.4 2.4l-2.4 -2.4zM410.2 604l2.4 2.4l-2.4 2.4l-2.4 -2.4zM411.4 602.6l2.4 2.4l-2.4 2.4l-2.4 -2.4zM413 601.5l2.4 2.4l-2.4 2.4l-2.4 -2.4zM414.7 600.7l2.4 2.4l-2.4 2.4l-2.4 -2.4zM416.4 600.2l2.4 2.4l-2.4 2.4l-2.4 -2.4zM418.3 600l2.4 2.4l-2.4 2.4l-2.4 -2.4zM420.2 599.9l2.4 2.4l-2.4 2.4l-2.4 -2.4zM422 600.1l2.4 2.4l-2.4 2.4l-2.4 -2.4zM423.9 600.3l2.4 2.4l-2.4 2.4l-2.4 -2.4zM425.7 600.7l2.4 2.4l-2.4 2.4l-2.4 -2.4zM427.6 601l2.4 2.4l-2.4 2.4l-2.4 -2.4zM429.4 601.3l2.4 2.4l-2.4 2.4l-2.4 -2.4zM431.2 601.6l2.4 2.4l-2.4 2.4l-2.4 -2.4z"/><path fill="#00B050" d="M407 608.5l2.4 2.4l-2.4 2.4l-2.4 -2.4zM408 606.9l2.4 2.4l-2.4 2.4l-2.4 -2.4zM409.1 605.4l2.4 2.4l-2.4 2.4l-2.4 -2.4zM410.1 603.8l2.4 2.4l-2.4 2.4l-2.4 -2.4zM411.3 602.4l2.4 2.4l-2.4 2.4l-2.4 -2.4zM412.9 601.4l2.4 2.4l-2.4 2.4l-2.4 -2.4zM414.7 600.8l2.4 2.4l-2.4 2.4l-2.4 -2.4zM416.5 600.5l2.4 2.4l-2.4 2.4l-2.4 -2.4zM418.4 600.3l2.4 2.4l-2.4 2.4l-2.4 -2.4zM420.3 600.5l2.4 2.4l-2.4 2.4l-2.4 -2.4zM422.2 600.7l2.4 2.4l-2.4 2.4l-2.4 -2.4zM424 601.1l2.4 2.4l-2.4 2.4l-2.4 -2.4zM425.8 601.6l2.4 2.4l-2.4 2.4l-2.4 -2.4zM427.6 602.2l2.4 2.4l-2.4 2.4l-2.4 -2.4zM429.4 602.6l2.4 2.4l-2.4 2.4l-2.4 -2.4zM431.3 603.1l2.4 2.4l-2.4 2.4l-2.4 -2.4zM433.1 603.1l2.4 2.4l-2.4 2.4l-2.4 -2.4z"/><path fill="#548235" d="M405.9 608.4l2.5 2.5l-2.5 2.5l-2.5 -2.5zM406.8 605.8l2.5 2.5l-2.5 2.5l-2.5 -2.5zM407.9 603.4l2.5 2.5l-2.5 2.5l-2.5 -2.5zM409.2 601l2.5 2.5l-2.5 2.5l-2.5 -2.5zM409.2 601l2.5 2.5l-2.5 2.5l-2.5 -2.5zM410.1 599.2l2.5 2.5l-2.5 2.5l-2.5 -2.5zM411.2 597.2l2.5 2.5l-2.5 2.5l-2.5 -2.5zM412.5 594.9l2.5 2.5l-2.5 2.5l-2.5 -2.5zM414.1 592l2.5 2.5l-2.5 2.5l-2.5 -2.5zM416.1 588.8l2.5 2.5l-2.5 2.5l-2.5 -2.5zM419.1 585.7l2.5 2.5l-2.5 2.5l-2.5 -2.5zM422.8 582.1l2.5 2.5l-2.5 2.5l-2.5 -2.5zM427.4 577.9l2.5 2.5l-2.5 2.5l-2.5 -2.5zM433.3 573.8l2.5 2.5l-2.5 2.5l-2.5 -2.5zM440.6 569.8l2.5 2.5l-2.5 2.5l-2.5 -2.5zM448.5 566.1l2.5 2.5l-2.5 2.5l-2.5 -2.5zM457.6 563l2.5 2.5l-2.5 2.5l-2.5 -2.5zM467.4 560.7l2.5 2.5l-2.5 2.5l-2.5 -2.5zM477.5 559.1l2.5 2.5l-2.5 2.5l-2.5 -2.5zM488.3 558.8l2.5 2.5l-2.5 2.5l-2.5 -2.5zM498.5 559.3l2.5 2.5l-2.5 2.5l-2.5 -2.5zM508.6 560.1l2.5 2.5l-2.5 2.5l-2.5 -2.5zM517.8 561.6l2.5 2.5l-2.5 2.5l-2.5 -2.5zM527 563.6l2.5 2.5l-2.5 2.5l-2.5 -2.5zM534.6 565l2.5 2.5l-2.5 2.5l-2.5 -2.5zM542 566.5l2.5 2.5l-2.5 2.5l-2.5 -2.5zM548.7 568.1l2.5 2.5l-2.5 2.5l-2.5 -2.5zM555 569.9l2.5 2.5l-2.5 2.5l-2.5 -2.5z"/><path fill="#ED7D31" d="M405.9 608.4l2.5 2.5l-2.5 2.5l-2.5 -2.5zM406.6 605.7l2.5 2.5l-2.5 2.5l-2.5 -2.5zM407.7 603.3l2.5 2.5l-2.5 2.5l-2.5 -2.5zM409.8 601.5l2.5 2.5l-2.5 2.5l-2.5 -2.5zM409.8 601.5l2.5 2.5l-2.5 2.5l-2.5 -2.5zM411.2 600.5l2.5 2.5l-2.5 2.5l-2.5 -2.5zM412.8 599.2l2.5 2.5l-2.5 2.5l-2.5 -2.5zM414.7 598.2l2.5 2.5l-2.5 2.5l-2.5 -2.5zM416.6 597.1l2.5 2.5l-2.5 2.5l-2.5 -2.5zM419.4 596.5l2.5 2.5l-2.5 2.5l-2.5 -2.5zM422.3 595.9l2.5 2.5l-2.5 2.5l-2.5 -2.5zM425.1 595.6l2.5 2.5l-2.5 2.5l-2.5 -2.5zM427.9 595.6l2.5 2.5l-2.5 2.5l-2.5 -2.5zM430.7 595.9l2.5 2.5l-2.5 2.5l-2.5 -2.5zM433.1 596.5l2.5 2.5l-2.5 2.5l-2.5 -2.5zM435.6 596.9l2.5 2.5l-2.5 2.5l-2.5 -2.5zM437.8 597.6l2.5 2.5l-2.5 2.5l-2.5 -2.5zM439.7 598.2l2.5 2.5l-2.5 2.5l-2.5 -2.5zM441.5 598.9l2.5 2.5l-2.5 2.5l-2.5 -2.5zM443.4 599.7l2.5 2.5l-2.5 2.5l-2.5 -2.5zM445.6 600.5l2.5 2.5l-2.5 2.5l-2.5 -2.5z"/><path fill="#FFC000" d="M405.6 608.4l2.5 2.5l-2.5 2.5l-2.5 -2.5zM406.6 605l2.5 2.5l-2.5 2.5l-2.5 -2.5zM408.1 601.9l2.5 2.5l-2.5 2.5l-2.5 -2.5zM408.1 601.9l2.5 2.5l-2.5 2.5l-2.5 -2.5zM408.9 599.7l2.5 2.5l-2.5 2.5l-2.5 -2.5zM409.9 597.7l2.5 2.5l-2.5 2.5l-2.5 -2.5zM411.2 595.2l2.5 2.5l-2.5 2.5l-2.5 -2.5zM412.8 592.6l2.5 2.5l-2.5 2.5l-2.5 -2.5zM414.9 589.8l2.5 2.5l-2.5 2.5l-2.5 -2.5zM417.5 586.1l2.5 2.5l-2.5 2.5l-2.5 -2.5zM421 581.9l2.5 2.5l-2.5 2.5l-2.5 -2.5zM425 576.5l2.5 2.5l-2.5 2.5l-2.5 -2.5zM429.9 570.9l2.5 2.5l-2.5 2.5l-2.5 -2.5zM436.4 565l2.5 2.5l-2.5 2.5l-2.5 -2.5zM444.4 558.2l2.5 2.5l-2.5 2.5l-2.5 -2.5z"/><path fill="#FF0000" d="M405.9 608.7l2.1 2.1l-2.1 2.1l-2.1 -2.1zM406.5 607.2l2.1 2.1l-2.1 2.1l-2.1 -2.1zM407.3 605.8l2.1 2.1l-2.1 2.1l-2.1 -2.1zM408.5 604.7l2.1 2.1l-2.1 2.1l-2.1 -2.1zM409.9 603.9l2.1 2.1l-2.1 2.1l-2.1 -2.1zM411.5 603.4l2.1 2.1l-2.1 2.1l-2.1 -2.1zM413.1 603.2l2.1 2.1l-2.1 2.1l-2.1 -2.1zM414.7 603.5l2.1 2.1l-2.1 2.1l-2.1 -2.1zM416.3 603.9l2.1 2.1l-2.1 2.1l-2.1 -2.1zM417.9 604.2l2.1 2.1l-2.1 2.1l-2.1 -2.1zM419.4 604.7l2.1 2.1l-2.1 2.1l-2.1 -2.1zM421 605.2l2.1 2.1l-2.1 2.1l-2.1 -2.1z"/></g><path fill="none" stroke="#4a4a4a" stroke-width="1" d="M405.5 560.5H464.5V610.9"/><path fill="none" stroke="#333" stroke-width="0.8" d="M411.3 560.5L525.2 477.6"/><path fill="#222" d="M528.6 475.3L523 476.1L526.2 480.1Z"/><path fill="none" stroke="#7f7f7f" stroke-width="1.3" d="M404.9 360H698V610.9"/><path fill="none" stroke="#404040" stroke-width="1.3" d="M405.5 359.4V610.9H698.6"/><path stroke="#404040" stroke-width="1" d="M464 610.9V606.9M405.5 560.7H409.5M522.5 610.9V606.9M405.5 510.5H409.5M581 610.9V606.9M405.5 460.4H409.5M639.5 610.9V606.9M405.5 410.2H409.5"/><text x="405.5" y="630.9" font-size="10" text-anchor="middle" font-weight="normal" fill="#262626" stroke="#262626" stroke-width="0.22" textLength="6.1" lengthAdjust="spacingAndGlyphs">0</text><text x="393.9" y="614.5" font-size="10" text-anchor="end" font-weight="normal" fill="#262626" stroke="#262626" stroke-width="0.22" textLength="6.1" lengthAdjust="spacingAndGlyphs">0</text><text x="464" y="630.9" font-size="10" text-anchor="middle" font-weight="normal" fill="#262626" stroke="#262626" stroke-width="0.22" textLength="12.1" lengthAdjust="spacingAndGlyphs">40</text><text x="393.9" y="564.3" font-size="10" text-anchor="end" font-weight="normal" fill="#262626" stroke="#262626" stroke-width="0.22" textLength="12.1" lengthAdjust="spacingAndGlyphs">40</text><text x="522.5" y="630.9" font-size="10" text-anchor="middle" font-weight="normal" fill="#262626" stroke="#262626" stroke-width="0.22" textLength="12.1" lengthAdjust="spacingAndGlyphs">80</text><text x="393.9" y="514.1" font-size="10" text-anchor="end" font-weight="normal" fill="#262626" stroke="#262626" stroke-width="0.22" textLength="12.1" lengthAdjust="spacingAndGlyphs">80</text><text x="581" y="630.9" font-size="10" text-anchor="middle" font-weight="normal" fill="#262626" stroke="#262626" stroke-width="0.22" textLength="18.2" lengthAdjust="spacingAndGlyphs">120</text><text x="393.9" y="464" font-size="10" text-anchor="end" font-weight="normal" fill="#262626" stroke="#262626" stroke-width="0.22" textLength="18.2" lengthAdjust="spacingAndGlyphs">120</text><text x="639.5" y="630.9" font-size="10" text-anchor="middle" font-weight="normal" fill="#262626" stroke="#262626" stroke-width="0.22" textLength="18.2" lengthAdjust="spacingAndGlyphs">160</text><text x="393.9" y="413.8" font-size="10" text-anchor="end" font-weight="normal" fill="#262626" stroke="#262626" stroke-width="0.22" textLength="18.2" lengthAdjust="spacingAndGlyphs">160</text><text x="698" y="630.9" font-size="10" text-anchor="middle" font-weight="normal" fill="#262626" stroke="#262626" stroke-width="0.22" textLength="18.2" lengthAdjust="spacingAndGlyphs">200</text><text x="393.9" y="363.6" font-size="10" text-anchor="end" font-weight="normal" fill="#262626" stroke="#262626" stroke-width="0.22" textLength="18.2" lengthAdjust="spacingAndGlyphs">200</text><text x="692.6" y="645" font-size="12" text-anchor="end" font-weight="bold" fill="#000" ><tspan font-style="italic">Z</tspan>' [kΩ]</text><g transform="translate(372 395.5) rotate(-90)"><text x="0" y="0" font-size="12" text-anchor="middle" font-weight="bold" fill="#000" >– <tspan font-style="italic">Z</tspan>'' [kΩ]</text></g><text x="525.3" y="351" font-size="16.2" text-anchor="middle" font-weight="bold" fill="#000" >C</text><path fill="#000000" d="M428.6 400.4l2.7 2.7l-2.7 2.7l-2.7 -2.7z"/><text x="439.3" y="406.2" font-size="8.7" text-anchor="start" font-weight="normal" fill="#383838" stroke="#383838" stroke-width="0.22" textLength="21.4" lengthAdjust="spacingAndGlyphs">BDDE</text><path fill="#0000FF" d="M428.6 411.9l2.7 2.7l-2.7 2.7l-2.7 -2.7z"/><text x="439.3" y="417.7" font-size="8.7" text-anchor="start" font-weight="normal" fill="#383838" stroke="#383838" stroke-width="0.22" textLength="34.4" lengthAdjust="spacingAndGlyphs">SP/BDDE</text><path fill="#92D050" d="M428.6 423.4l2.7 2.7l-2.7 2.7l-2.7 -2.7z"/><text x="439.3" y="429.2" font-size="8.7" text-anchor="start" font-weight="normal" fill="#383838" stroke="#383838" stroke-width="0.22" textLength="52.5" lengthAdjust="spacingAndGlyphs">5Au-SP/BDDE</text><path fill="#00B050" d="M428.6 434.9l2.7 2.7l-2.7 2.7l-2.7 -2.7z"/><text x="439.3" y="440.7" font-size="8.7" text-anchor="start" font-weight="normal" fill="#383838" stroke="#383838" stroke-width="0.22" textLength="57.2" lengthAdjust="spacingAndGlyphs">15Au-SP/BDDE</text><path fill="#548235" d="M428.6 446.4l2.7 2.7l-2.7 2.7l-2.7 -2.7z"/><text x="439.3" y="452.2" font-size="8.7" text-anchor="start" font-weight="normal" fill="#383838" stroke="#383838" stroke-width="0.22" textLength="57.2" lengthAdjust="spacingAndGlyphs">50Au-SP/BDDE</text><path fill="#ED7D31" d="M428.6 457.9l2.7 2.7l-2.7 2.7l-2.7 -2.7z"/><text x="439.3" y="463.7" font-size="8.7" text-anchor="start" font-weight="normal" fill="#383838" stroke="#383838" stroke-width="0.22" textLength="52.5" lengthAdjust="spacingAndGlyphs">pAu-SP/BDDE</text><path fill="#FFC000" d="M428.6 469.3l2.7 2.7l-2.7 2.7l-2.7 -2.7z"/><text x="439.3" y="475.2" font-size="8.7" text-anchor="start" font-weight="normal" fill="#383838" stroke="#383838" stroke-width="0.22" textLength="47.9" lengthAdjust="spacingAndGlyphs">Au-SP/BDDE</text><path fill="#FF0000" d="M428.6 480.8l2.7 2.7l-2.7 2.7l-2.7 -2.7z"/><text x="439.3" y="486.7" font-size="8.7" text-anchor="start" font-weight="normal" fill="#383838" stroke="#383838" stroke-width="0.22" textLength="52.5" lengthAdjust="spacingAndGlyphs">eAu-SP/BDDE</text><clipPath id="c5"><rect x="527.7" y="362" width="163.8" height="135.5"/></clipPath><clipPath id="c6"><rect x="530.7" y="364.5" width="160.8" height="130"/></clipPath><g><g clip-path="url(#c6)"><path fill="none" stroke="#000000" stroke-width="1" d="M530.7 494.5 530.9 493.2 531.1 491.4 531.3 489.4 531.6 487 531.9 484.6 532.3 482.1 532.7 479.6 533.1 477.3 533.6 475 534.1 472.8 534.7 470.5 535.3 468.1 536 465.8 536.7 463.5 537.4 461.1 538.1 458.8 538.7 456.5 539.4 454.2 540 452 540.7 449.8 541.4 447.5 542.2 445.1 543.2 442.4 544.2 439.6 545.5 436.4 547 432.8 548.6 429 550.3 425.1 552 421.1 553.7 417.4 555.4 413.8 557 410.6 558.4 407.9 559.8 405.4 561.2 403.2 562.5 401.1 563.9 399.1 565.3 397 566.9 394.9 568.6 392.4 570.4 389.9 572.3 387.2 574.2 384.4 576.3 381.6 578.4 378.7 580.6 375.8 582.8 372.9 585.1 370 587.4 367.1 589.8 364.1 592.1 361.2 594.5 358.1 597.1 355.1 599.8 352.1 602.6 349 605.8 346 609.1 342.9 612.6 339.9 616.3 336.8 620.1 333.7 624.1 330.6 628.2 327.5 632.5 324.4 636.8 321.3 641.2 318.1 645.7 315 650.3 311.8 655.1 308.6 660 305.4 665 302.3 670.3 299.2 675.8 296.2 681.6 293.4 687.6 290.5 693.7 287.7 700.1 284.9 706.6 282.3 713.2 279.7 719.9 277.2 726.7 274.8 733.5 272.5 740.4 270.2 747.3 268.1 754.4 266 761.6 264 768.9 262.2 776.3 260.6 783.8 259.2 791.6 258 799.5 257 807.6 256.1 815.8 255.4 824 254.8 832.2 254.4 840.3 254.1 848.3 254 856.1 254 863.9 254.2 871.6 254.5 879.2 254.9 886.8 255.5 894.4 256.2 901.9 257 909.4 257.9 916.9 258.9 924.4 260.1 931.9 261.4 939.4 262.8 946.7 264.3 953.9 266 960.9 267.7 967.7 269.6 974.2 271.6 980.4 273.8 986.5 276.1 992.4 278.6 998.2 281.1 1003.8 283.6 1009.5 286.2 1015.1 288.8 1020.7 291.4 1026.4 294 1031.9 296.8 1037.4 299.5 1042.7 302.3 1047.9 305 1052.9 307.8 1057.7 310.6 1062.3 313.3 1066.6 316 1070.8 318.7 1074.8 321.5 1078.6 324.2 1082.3 326.9 1085.9 329.6 1089.5 332.3 1092.9 335 1096.1 337.7 1099.3 340.4 1102.3 343 1105.2 345.7 1108 348.3 1110.8 350.9 1113.6 353.4 1116.3 356 1119 358.4 1121.6 360.9 1124.2 363.3 1126.6 365.7 1129.1 368.1 1131.4 370.4 1133.7 372.6 1135.9 374.8 1138 376.9 1140 379 1142 381 1143.9 383 1145.9 385 1147.8 386.9 1149.8 388.9 1151.8 390.8 1153.8 392.8 1155.8 394.7 1157.8 396.6 1159.8 398.4 1161.8 400.2 1163.8 401.9 1165.9 403.5 1167.9 405 1170 406.4 1172 407.7 1174.1 409 1176.2 410.2 1178.3 411.3 1180.3 412.3 1182.3 413.2 1184.4 414.1 1186.5 414.9 1188.6 415.6 1190.7 416.2 1192.7 416.7 1194.7 417.2 1196.4 417.7 1198 418.1 1199.4 418.5 1200.8 418.8 1201.9 419 1203 419.2 1204 419.4 1204.8 419.5 1205.5 419.6 1206.1 419.8"/><path fill="none" stroke="#0000FF" stroke-width="1" d="M530.7 494.5 530.8 493.8 530.9 493 531.1 492 531.3 490.8 531.5 489.6 531.7 488.3 532 487 532.3 485.7 532.7 484.5 533.1 483.1 533.6 481.7 534.1 480.3 534.7 478.9 535.2 477.5 535.7 476.1 536.2 474.7 536.8 473.3 537.3 471.8 537.8 470.4 538.3 468.9 538.9 467.5 539.4 466.1 539.9 464.8 540.4 463.6 540.8 462.5 541.3 461.5 541.7 460.6 542.1 459.7 542.5 458.9 542.9 458 543.4 457.1 543.9 456.1 544.4 455.2 544.9 454.4 545.4 453.5 545.9 452.7 546.5 451.7 547.2 450.6 548.2 449.3 549.5 447.7 551 445.8 552.6 443.6 554.4 441.3 556.4 438.8 558.5 436.1 560.9 433.5 563.6 430.8 566.5 428.2 569.6 425.6 573 422.9 576.5 420.2 580.4 417.4 584.4 414.7 588.6 412 593.1 409.3 597.8 406.8 602.8 404.2 608.2 401.6 613.7 398.9 619.5 396.4 625.5 394 631.5 391.8 637.6 389.8 643.7 388.2 649.8 387 656.2 385.9 662.6 385.2 669.1 384.6 675.7 384.3 682.1 384.1 688.5 384.1 694.7 384.3 700.8 384.7 706.9 385.4 712.9 386.3 718.9 387.4 724.7 388.6 730.4 389.8 736 391.1 741.3 392.4 746.5 393.8 751.3 395.1 756 396.6 760.5 398.1 765 399.7 769.6 401.3 774.3 403 779.1 404.8 784.3 406.7 789.6 408.7 795 410.8 800.5 413 806 415.2 811.3 417.3 816.5 419.2 821.3 421.1 826.1 422.8 831 424.4 835.8 426.1 840.5 427.6 844.8 429 848.6 430.2 851.8 431.3 854.3 432.1"/><path fill="none" stroke="#92D050" stroke-width="1" d="M534.7 494.5 535 494.3 535.3 494 535.7 493.7 536.1 493.3 536.6 492.9 537.1 492.5 537.5 492 537.9 491.6 538.3 491.1 538.7 490.6 539 490.1 539.4 489.6 539.8 489 540.2 488.4 540.6 487.8 541.2 487 541.7 486.2 542.3 485.2 542.9 484.2 543.5 483.2 544.2 482.1 545 481.1 545.8 480.1 546.8 479.2 547.8 478.4 549 477.7 550.2 476.9 551.5 476.2 552.9 475.6 554.2 475 555.5 474.5 556.8 474 558.1 473.6 559.3 473.3 560.6 473.1 561.9 472.9 563.1 472.7 564.4 472.6 565.6 472.5 566.9 472.4 568.2 472.3 569.4 472.3 570.8 472.3 572.1 472.4 573.3 472.4 574.6 472.5 575.8 472.6 576.9 472.7 578 472.8 579 473 579.9 473.1 580.8 473.3 581.8 473.5 582.7 473.7 583.6 473.9 584.6 474 585.6 474.2 586.6 474.3 587.7 474.5 588.7 474.7 589.8 474.8 590.9 475 591.9 475.2 593 475.3 594.1 475.5 595.3 475.7 596.5 475.9 597.8 476.1 598.9 476.2 599.9 476.4 600.8 476.5 601.5 476.6"/><path fill="none" stroke="#00B050" stroke-width="1" d="M534.7 494.5 535.1 494 535.6 493.3 536.1 492.5 536.8 491.6 537.5 490.6 538.2 489.6 539 488.5 539.7 487.5 540.5 486.5 541.3 485.3 542.2 484.1 543.1 482.9 544.1 481.7 545 480.5 545.8 479.5 546.7 478.7 547.4 478 548.1 477.5 548.7 477.1 549.3 476.7 550 476.5 550.6 476.2 551.4 475.9 552.2 475.6 553.2 475.3 554.2 475 555.3 474.8 556.5 474.5 557.6 474.3 558.8 474 559.9 473.9 560.9 473.7 561.7 473.6 562.5 473.5 563.3 473.4 564 473.4 564.7 473.3 565.5 473.3 566.3 473.3 567.3 473.4 568.3 473.4 569.5 473.5 570.8 473.6 572 473.7 573.3 473.9 574.6 474 575.8 474.2 576.9 474.4 578 474.5 579 474.7 580 474.9 581 475.1 581.9 475.3 582.8 475.5 583.7 475.8 584.6 476 585.4 476.2 586.3 476.5 587.1 476.7 587.9 477 588.7 477.2 589.5 477.5 590.2 477.7 591 477.9 591.7 478.1 592.5 478.3 593.2 478.5 593.9 478.6 594.6 478.8 595.2 478.9 595.9 479.1 596.6 479.2 597.3 479.4 598.1 479.6 598.8 479.8 599.5 480 600.2 480.1 600.9 480.3 601.6 480.4 602.3 480.5 602.9 480.6 603.5 480.6 604.2 480.6 604.8 480.6 605.4 480.6 605.9 480.6 606.3 480.5 606.7 480.5"/><path fill="none" stroke="#548235" stroke-width="1" d="M531.9 494.5 532.1 493.9 532.3 493 532.6 492.1 532.9 491 533.3 489.8 533.7 488.5 534.2 487.3 534.7 486.1 535.3 484.8 536.1 483.4 536.9 482 537.7 480.6 538.6 479.2 539.4 477.7 540.2 476.3 541 475 541.7 473.7 542.3 472.6 542.9 471.4 543.5 470.3 544.1 469.2 544.8 468 545.5 466.7 546.3 465.2 547.1 463.7 548 462.1 548.9 460.5 549.8 458.7 550.8 456.9 551.9 455.1 553.1 453.2 554.4 451.3 555.8 449.3 557.2 447.3 558.7 445.2 560.3 443.1 562 440.9 563.9 438.7 565.9 436.4 568.1 434.1 570.4 431.6 572.9 429.1 575.4 426.6 578.1 424 581 421.3 584.1 418.7 587.4 416 591 413.2 594.8 410.5 598.9 407.6 603.1 404.7 607.6 401.7 612.3 398.8 617.1 395.9 622.1 393.1 627.2 390.5 632.5 387.9 637.9 385.4 643.5 382.9 649.3 380.5 655.3 378.2 661.3 376.1 667.5 374.1 673.8 372.3 680.4 370.7 687.5 369.3 694.8 368 702.2 366.8 709.5 365.8 716.4 364.9 722.8 364.2 728.5 363.5 733.2 363 737.1 362.7 740.3 362.5 743.3 362.4 746.3 362.4 749.5 362.5 753.4 362.7 758.2 362.9 764 363.1 770.5 363.5 777.5 363.9 784.9 364.4 792.4 364.9 799.9 365.6 807.2 366.3 814.1 367.1 820.5 368 826.5 368.9 832.3 369.9 838.1 371 844.1 372.2 850.4 373.5 857.2 375 864.8 376.5 873.6 378.4 883.9 380.6 895 382.9 906.3 385.4 917.2 387.8 927.1 390 935.4 391.8 941.5 393.1"/><path fill="none" stroke="#ED7D31" stroke-width="1" d="M531.9 494.5 532.1 493.9 532.2 493.1 532.5 492.1 532.7 491 533 489.8 533.3 488.7 533.6 487.6 533.9 486.7 534.2 485.9 534.6 485.1 534.9 484.3 535.3 483.6 535.7 482.8 536.1 482.2 536.6 481.5 537.1 480.9 537.7 480.2 538.4 479.6 539 479.1 539.8 478.5 540.5 478 541.2 477.5 541.9 477.1 542.5 476.6 543 476.2 543.5 475.9 544 475.6 544.4 475.3 544.9 475 545.3 474.7 545.8 474.4 546.3 474 546.8 473.6 547.4 473.2 547.9 472.8 548.5 472.4 549 472 549.6 471.6 550.2 471.2 550.8 470.8 551.4 470.4 552.1 470.1 552.7 469.8 553.4 469.5 554 469.1 554.7 468.8 555.4 468.5 556 468.2 556.7 467.8 557.3 467.4 557.9 467 558.5 466.7 559.1 466.3 559.8 465.9 560.5 465.6 561.3 465.2 562.1 465 563 464.8 563.9 464.5 564.9 464.4 565.9 464.2 566.9 464 567.9 463.8 568.9 463.6 569.9 463.4 570.9 463.2 571.9 463 572.9 462.8 573.9 462.5 574.9 462.3 575.9 462.2 576.9 462 577.9 461.9 578.9 461.8 579.8 461.7 580.8 461.6 581.7 461.5 582.7 461.4 583.6 461.4 584.6 461.4 585.5 461.3 586.5 461.3 587.4 461.3 588.4 461.3 589.3 461.3 590.3 461.3 591.3 461.3 592.2 461.4 593.2 461.4 594.1 461.4 595.1 461.5 596.1 461.6 597 461.7 598 461.8 598.9 461.9 599.8 462 600.7 462.2 601.6 462.4 602.5 462.6 603.3 462.8 604.2 463 605 463.2 605.8 463.4 606.7 463.6 607.5 463.8 608.4 463.9 609.3 464 610.1 464.1 611 464.2 611.9 464.3 612.7 464.4 613.5 464.6 614.3 464.8 615.1 465 615.9 465.3 616.6 465.5 617.4 465.8 618.1 466.1 618.8 466.3 619.5 466.6 620.2 466.8 620.9 467 621.6 467.2 622.2 467.4 622.9 467.6 623.5 467.8 624.1 468 624.8 468.2 625.4 468.4 626 468.6 626.6 468.8 627.2 468.9 627.8 469.1 628.4 469.3 629 469.6 629.6 469.8 630.2 470.1 630.9 470.3 631.5 470.6 632.1 470.9 632.8 471.2 633.4 471.5 634.1 471.8 634.8 472.1 635.6 472.3 636.4 472.6 637.3 472.9 638.2 473.2 639 473.5 639.7 473.7 640.4 473.9 640.8 474"/><path fill="none" stroke="#FFC000" stroke-width="1" d="M530.7 494.5 531.3 493.1 532.1 491.2 533.1 488.9 534.2 486.4 535.3 483.8 536.3 481.4 537.3 479.3 538 477.6 538.5 476.4 538.9 475.4 539.1 474.7 539.3 474.1 539.5 473.6 539.7 473.2 539.9 472.7 540.1 472.1 540.4 471.4 540.7 470.8 541 470.2 541.3 469.5 541.7 468.9 542 468.3 542.4 467.6 542.8 466.9 543.2 466.1 543.6 465.3 544 464.5 544.4 463.7 544.9 462.9 545.3 462.1 545.8 461.2 546.3 460.4 546.8 459.5 547.3 458.7 547.9 457.9 548.4 457 549 456.1 549.6 455.3 550.2 454.4 550.8 453.6 551.5 452.7 552.1 451.8 552.8 451 553.5 450.2 554.2 449.3 555 448.4 555.7 447.4 556.5 446.4 557.3 445.3 558.1 444.2 559 443 559.8 441.7 560.7 440.5 561.7 439.2 562.6 437.9 563.7 436.6 564.7 435.4 565.9 434.1 567 432.8 568.3 431.6 569.5 430.2 570.8 428.9 572 427.4 573.3 425.9 574.6 424.3 575.9 422.7 577.2 421 578.5 419.2 579.8 417.4 581.2 415.6 582.7 413.8 584.2 411.9 585.7 410.2 587.3 408.4 588.9 406.5 590.6 404.7 592.3 402.9 594.1 401 595.9 399.2 597.8 397.3 599.8 395.5 601.9 393.6 604 391.7 606.2 389.9 608.4 388 610.7 386 613.1 384.1 615.5 382.1 618.2 379.8 621.3 377.4 624.5 374.9 627.7 372.3 630.8 369.9 633.6 367.7 635.9 365.9 637.6 364.5"/><path fill="none" stroke="#FF0000" stroke-width="1" d="M531.7 494.2 531.9 493.6 532.3 492.9 532.6 492.1 533 491.1 533.5 490.1 534 489.2 534.5 488.3 535 487.5 535.5 486.9 536 486.3 536.5 485.7 537.1 485.2 537.7 484.8 538.3 484.3 539 483.9 539.7 483.4 540.5 483 541.3 482.6 542.2 482.2 543.1 481.8 544 481.4 544.9 481 545.8 480.8 546.7 480.5 547.5 480.3 548.3 480.2 549.1 480.1 549.9 480.1 550.7 480.1 551.5 480.1 552.3 480.1 553.2 480.2 554.1 480.3 555.1 480.5 556.1 480.7 557.1 480.9 558.1 481.2 559.1 481.4 560 481.6 560.9 481.8 561.6 482 562.4 482.2 563.1 482.3 563.7 482.5 564.4 482.6 565 482.8 565.7 482.9 566.5 483.1 567.3 483.4 568.3 483.6 569.3 483.9 570.2 484.2 571.2 484.5 572.1 484.7 572.8 484.9 573.3 485.1"/></g><g clip-path="url(#c5)"><path fill="#000000" d="M530.9 492.1l2.5 2.5l-2.5 2.5l-2.5 -2.5zM531 490.4l2.5 2.5l-2.5 2.5l-2.5 -2.5zM531.2 488.8l2.5 2.5l-2.5 2.5l-2.5 -2.5zM531.3 487.2l2.5 2.5l-2.5 2.5l-2.5 -2.5zM531.5 485.6l2.5 2.5l-2.5 2.5l-2.5 -2.5zM531.7 484l2.5 2.5l-2.5 2.5l-2.5 -2.5zM531.9 482.4l2.5 2.5l-2.5 2.5l-2.5 -2.5zM532.1 480.8l2.5 2.5l-2.5 2.5l-2.5 -2.5zM532.4 479.2l2.5 2.5l-2.5 2.5l-2.5 -2.5zM532.6 477.5l2.5 2.5l-2.5 2.5l-2.5 -2.5zM532.9 475.9l2.5 2.5l-2.5 2.5l-2.5 -2.5zM533.1 474.3l2.5 2.5l-2.5 2.5l-2.5 -2.5zM533.4 473.9l2.5 2.5l-2.5 2.5l-2.5 -2.5zM534.4 469l2.5 2.5l-2.5 2.5l-2.5 -2.5zM535.8 463.4l2.5 2.5l-2.5 2.5l-2.5 -2.5zM538 456.3l2.5 2.5l-2.5 2.5l-2.5 -2.5zM540.4 447.5l2.5 2.5l-2.5 2.5l-2.5 -2.5zM544.4 437.4l2.5 2.5l-2.5 2.5l-2.5 -2.5zM549.3 423.7l2.5 2.5l-2.5 2.5l-2.5 -2.5zM557 408.1l2.5 2.5l-2.5 2.5l-2.5 -2.5zM568.6 389.9l2.5 2.5l-2.5 2.5l-2.5 -2.5zM585.1 368l2.5 2.5l-2.5 2.5l-2.5 -2.5zM605.8 343.5l2.5 2.5l-2.5 2.5l-2.5 -2.5zM636.8 320.2l2.5 2.5l-2.5 2.5l-2.5 -2.5zM675.8 295.1l2.5 2.5l-2.5 2.5l-2.5 -2.5zM726.7 274.7l2.5 2.5l-2.5 2.5l-2.5 -2.5zM783.8 258.9l2.5 2.5l-2.5 2.5l-2.5 -2.5zM848.3 253.5l2.5 2.5l-2.5 2.5l-2.5 -2.5zM909.4 257.7l2.5 2.5l-2.5 2.5l-2.5 -2.5zM967.7 269.8l2.5 2.5l-2.5 2.5l-2.5 -2.5zM1015.1 288.9l2.5 2.5l-2.5 2.5l-2.5 -2.5zM1057.7 309.4l2.5 2.5l-2.5 2.5l-2.5 -2.5zM1089.5 331.2l2.5 2.5l-2.5 2.5l-2.5 -2.5zM1113.6 351.7l2.5 2.5l-2.5 2.5l-2.5 -2.5zM1132.9 369.2l2.5 2.5l-2.5 2.5l-2.5 -2.5zM1148.2 383.5l2.5 2.5l-2.5 2.5l-2.5 -2.5zM1161 395.2l2.5 2.5l-2.5 2.5l-2.5 -2.5zM1169.9 404l2.5 2.5l-2.5 2.5l-2.5 -2.5zM1182.3 411.1l2.5 2.5l-2.5 2.5l-2.5 -2.5zM1191.6 414.1l2.5 2.5l-2.5 2.5l-2.5 -2.5zM1202.4 416l2.5 2.5l-2.5 2.5l-2.5 -2.5zM1215.3 419.9l2.5 2.5l-2.5 2.5l-2.5 -2.5z"/><path fill="#0000FF" d="M530.9 492.1l2.5 2.5l-2.5 2.5l-2.5 -2.5zM531.3 489.8l2.5 2.5l-2.5 2.5l-2.5 -2.5zM531.6 487.6l2.5 2.5l-2.5 2.5l-2.5 -2.5zM532 485.4l2.5 2.5l-2.5 2.5l-2.5 -2.5zM532.4 483.1l2.5 2.5l-2.5 2.5l-2.5 -2.5zM532.9 480.9l2.5 2.5l-2.5 2.5l-2.5 -2.5zM533.6 478.8l2.5 2.5l-2.5 2.5l-2.5 -2.5zM534.3 476.7l2.5 2.5l-2.5 2.5l-2.5 -2.5zM535.3 474.6l2.5 2.5l-2.5 2.5l-2.5 -2.5zM536.2 472.6l2.5 2.5l-2.5 2.5l-2.5 -2.5zM536.2 472.6l2.5 2.5l-2.5 2.5l-2.5 -2.5zM538 467l2.5 2.5l-2.5 2.5l-2.5 -2.5zM540.4 461.5l2.5 2.5l-2.5 2.5l-2.5 -2.5zM543.9 454l2.5 2.5l-2.5 2.5l-2.5 -2.5zM549.5 445.9l2.5 2.5l-2.5 2.5l-2.5 -2.5zM556.5 437.4l2.5 2.5l-2.5 2.5l-2.5 -2.5zM566.5 425.8l2.5 2.5l-2.5 2.5l-2.5 -2.5zM580.5 415.4l2.5 2.5l-2.5 2.5l-2.5 -2.5zM597.8 404.6l2.5 2.5l-2.5 2.5l-2.5 -2.5zM619.1 395.9l2.5 2.5l-2.5 2.5l-2.5 -2.5zM643.7 388.4l2.5 2.5l-2.5 2.5l-2.5 -2.5zM669.4 384.8l2.5 2.5l-2.5 2.5l-2.5 -2.5zM694.7 385.8l2.5 2.5l-2.5 2.5l-2.5 -2.5zM718 388.1l2.5 2.5l-2.5 2.5l-2.5 -2.5zM741.3 392.9l2.5 2.5l-2.5 2.5l-2.5 -2.5zM761.9 397.8l2.5 2.5l-2.5 2.5l-2.5 -2.5zM779.1 404l2.5 2.5l-2.5 2.5l-2.5 -2.5zM796 409.8l2.5 2.5l-2.5 2.5l-2.5 -2.5zM808.9 414.7l2.5 2.5l-2.5 2.5l-2.5 -2.5zM821.3 419.6l2.5 2.5l-2.5 2.5l-2.5 -2.5zM833.4 423.5l2.5 2.5l-2.5 2.5l-2.5 -2.5zM843.9 426.7l2.5 2.5l-2.5 2.5l-2.5 -2.5zM854.3 430.6l2.5 2.5l-2.5 2.5l-2.5 -2.5z"/><path fill="#92D050" d="M534.7 492.1l2.4 2.4l-2.4 2.4l-2.4 -2.4zM536.1 490.9l2.4 2.4l-2.4 2.4l-2.4 -2.4zM537.4 489.7l2.4 2.4l-2.4 2.4l-2.4 -2.4zM538.6 488.3l2.4 2.4l-2.4 2.4l-2.4 -2.4zM539.6 486.8l2.4 2.4l-2.4 2.4l-2.4 -2.4zM540.7 485.3l2.4 2.4l-2.4 2.4l-2.4 -2.4zM541.7 483.8l2.4 2.4l-2.4 2.4l-2.4 -2.4zM542.6 482.3l2.4 2.4l-2.4 2.4l-2.4 -2.4zM543.6 480.7l2.4 2.4l-2.4 2.4l-2.4 -2.4zM544.6 479.2l2.4 2.4l-2.4 2.4l-2.4 -2.4zM545.7 477.8l2.4 2.4l-2.4 2.4l-2.4 -2.4zM547 476.6l2.4 2.4l-2.4 2.4l-2.4 -2.4zM548.5 475.6l2.4 2.4l-2.4 2.4l-2.4 -2.4zM550.1 474.6l2.4 2.4l-2.4 2.4l-2.4 -2.4zM551.7 473.8l2.4 2.4l-2.4 2.4l-2.4 -2.4zM553.3 473l2.4 2.4l-2.4 2.4l-2.4 -2.4zM555 472.3l2.4 2.4l-2.4 2.4l-2.4 -2.4zM556.7 471.7l2.4 2.4l-2.4 2.4l-2.4 -2.4zM558.4 471.2l2.4 2.4l-2.4 2.4l-2.4 -2.4zM560.2 470.8l2.4 2.4l-2.4 2.4l-2.4 -2.4zM562 470.5l2.4 2.4l-2.4 2.4l-2.4 -2.4zM563.8 470.2l2.4 2.4l-2.4 2.4l-2.4 -2.4zM565.6 470.1l2.4 2.4l-2.4 2.4l-2.4 -2.4zM567.4 470l2.4 2.4l-2.4 2.4l-2.4 -2.4zM569.2 469.9l2.4 2.4l-2.4 2.4l-2.4 -2.4zM571 469.9l2.4 2.4l-2.4 2.4l-2.4 -2.4zM572.8 470l2.4 2.4l-2.4 2.4l-2.4 -2.4zM574.6 470.1l2.4 2.4l-2.4 2.4l-2.4 -2.4zM576.4 470.3l2.4 2.4l-2.4 2.4l-2.4 -2.4zM578.2 470.5l2.4 2.4l-2.4 2.4l-2.4 -2.4zM580 470.8l2.4 2.4l-2.4 2.4l-2.4 -2.4zM581.8 471.1l2.4 2.4l-2.4 2.4l-2.4 -2.4zM583.6 471.4l2.4 2.4l-2.4 2.4l-2.4 -2.4zM585.3 471.7l2.4 2.4l-2.4 2.4l-2.4 -2.4zM587.1 472l2.4 2.4l-2.4 2.4l-2.4 -2.4zM588.9 472.3l2.4 2.4l-2.4 2.4l-2.4 -2.4zM590.7 472.6l2.4 2.4l-2.4 2.4l-2.4 -2.4zM592.5 472.8l2.4 2.4l-2.4 2.4l-2.4 -2.4zM594.3 473.1l2.4 2.4l-2.4 2.4l-2.4 -2.4zM596.1 473.4l2.4 2.4l-2.4 2.4l-2.4 -2.4zM597.9 473.7l2.4 2.4l-2.4 2.4l-2.4 -2.4zM599.7 473.9l2.4 2.4l-2.4 2.4l-2.4 -2.4zM601.5 474.2l2.4 2.4l-2.4 2.4l-2.4 -2.4z"/><path fill="#00B050" d="M534.7 492.1l2.4 2.4l-2.4 2.4l-2.4 -2.4zM535.8 490.6l2.4 2.4l-2.4 2.4l-2.4 -2.4zM536.8 489.1l2.4 2.4l-2.4 2.4l-2.4 -2.4zM537.9 487.6l2.4 2.4l-2.4 2.4l-2.4 -2.4zM538.9 486.2l2.4 2.4l-2.4 2.4l-2.4 -2.4zM540 484.7l2.4 2.4l-2.4 2.4l-2.4 -2.4zM541.1 483.2l2.4 2.4l-2.4 2.4l-2.4 -2.4zM542.2 481.8l2.4 2.4l-2.4 2.4l-2.4 -2.4zM543.2 480.3l2.4 2.4l-2.4 2.4l-2.4 -2.4zM544.4 478.9l2.4 2.4l-2.4 2.4l-2.4 -2.4zM545.5 477.5l2.4 2.4l-2.4 2.4l-2.4 -2.4zM546.8 476.2l2.4 2.4l-2.4 2.4l-2.4 -2.4zM548.2 475l2.4 2.4l-2.4 2.4l-2.4 -2.4zM549.8 474.1l2.4 2.4l-2.4 2.4l-2.4 -2.4zM551.5 473.5l2.4 2.4l-2.4 2.4l-2.4 -2.4zM553.2 472.9l2.4 2.4l-2.4 2.4l-2.4 -2.4zM554.9 472.5l2.4 2.4l-2.4 2.4l-2.4 -2.4zM556.7 472.1l2.4 2.4l-2.4 2.4l-2.4 -2.4zM558.5 471.7l2.4 2.4l-2.4 2.4l-2.4 -2.4zM560.3 471.4l2.4 2.4l-2.4 2.4l-2.4 -2.4zM562.1 471.1l2.4 2.4l-2.4 2.4l-2.4 -2.4zM563.9 471l2.4 2.4l-2.4 2.4l-2.4 -2.4zM565.7 470.9l2.4 2.4l-2.4 2.4l-2.4 -2.4zM567.5 471l2.4 2.4l-2.4 2.4l-2.4 -2.4zM569.3 471.1l2.4 2.4l-2.4 2.4l-2.4 -2.4zM571.2 471.3l2.4 2.4l-2.4 2.4l-2.4 -2.4zM573 471.4l2.4 2.4l-2.4 2.4l-2.4 -2.4zM574.8 471.7l2.4 2.4l-2.4 2.4l-2.4 -2.4zM576.6 471.9l2.4 2.4l-2.4 2.4l-2.4 -2.4zM578.4 472.2l2.4 2.4l-2.4 2.4l-2.4 -2.4zM580.1 472.5l2.4 2.4l-2.4 2.4l-2.4 -2.4zM581.9 472.9l2.4 2.4l-2.4 2.4l-2.4 -2.4zM583.7 473.4l2.4 2.4l-2.4 2.4l-2.4 -2.4zM585.4 473.8l2.4 2.4l-2.4 2.4l-2.4 -2.4zM587.2 474.3l2.4 2.4l-2.4 2.4l-2.4 -2.4zM588.9 474.9l2.4 2.4l-2.4 2.4l-2.4 -2.4zM590.6 475.4l2.4 2.4l-2.4 2.4l-2.4 -2.4zM592.4 475.9l2.4 2.4l-2.4 2.4l-2.4 -2.4zM594.2 476.3l2.4 2.4l-2.4 2.4l-2.4 -2.4zM596 476.7l2.4 2.4l-2.4 2.4l-2.4 -2.4zM597.7 477.1l2.4 2.4l-2.4 2.4l-2.4 -2.4zM599.5 477.5l2.4 2.4l-2.4 2.4l-2.4 -2.4zM601.2 478l2.4 2.4l-2.4 2.4l-2.4 -2.4zM603 478.2l2.4 2.4l-2.4 2.4l-2.4 -2.4zM604.9 478.2l2.4 2.4l-2.4 2.4l-2.4 -2.4zM606.7 478.1l2.4 2.4l-2.4 2.4l-2.4 -2.4z"/><path fill="#548235" d="M531.9 492.1l2.5 2.5l-2.5 2.5l-2.5 -2.5zM532.6 489.8l2.5 2.5l-2.5 2.5l-2.5 -2.5zM533.4 487.5l2.5 2.5l-2.5 2.5l-2.5 -2.5zM534.2 485.3l2.5 2.5l-2.5 2.5l-2.5 -2.5zM535.1 483.1l2.5 2.5l-2.5 2.5l-2.5 -2.5zM536.2 481l2.5 2.5l-2.5 2.5l-2.5 -2.5zM537.4 479l2.5 2.5l-2.5 2.5l-2.5 -2.5zM538.6 477l2.5 2.5l-2.5 2.5l-2.5 -2.5zM539.8 474.9l2.5 2.5l-2.5 2.5l-2.5 -2.5zM541 472.9l2.5 2.5l-2.5 2.5l-2.5 -2.5zM541 472.9l2.5 2.5l-2.5 2.5l-2.5 -2.5zM543.4 468.3l2.5 2.5l-2.5 2.5l-2.5 -2.5zM546.3 463.1l2.5 2.5l-2.5 2.5l-2.5 -2.5zM549.9 456.9l2.5 2.5l-2.5 2.5l-2.5 -2.5zM554.4 449.5l2.5 2.5l-2.5 2.5l-2.5 -2.5zM560 441.4l2.5 2.5l-2.5 2.5l-2.5 -2.5zM568.1 433.2l2.5 2.5l-2.5 2.5l-2.5 -2.5zM578.1 423.8l2.5 2.5l-2.5 2.5l-2.5 -2.5zM591 413.1l2.5 2.5l-2.5 2.5l-2.5 -2.5zM607.1 402.4l2.5 2.5l-2.5 2.5l-2.5 -2.5zM627.2 391.9l2.5 2.5l-2.5 2.5l-2.5 -2.5zM648.9 382.4l2.5 2.5l-2.5 2.5l-2.5 -2.5zM673.8 374.4l2.5 2.5l-2.5 2.5l-2.5 -2.5zM700.7 368.6l2.5 2.5l-2.5 2.5l-2.5 -2.5zM728.5 364.3l2.5 2.5l-2.5 2.5l-2.5 -2.5zM758.2 363.7l2.5 2.5l-2.5 2.5l-2.5 -2.5zM786.4 365l2.5 2.5l-2.5 2.5l-2.5 -2.5zM814.1 366.9l2.5 2.5l-2.5 2.5l-2.5 -2.5zM839.4 370.8l2.5 2.5l-2.5 2.5l-2.5 -2.5zM864.8 376l2.5 2.5l-2.5 2.5l-2.5 -2.5zM885.7 379.6l2.5 2.5l-2.5 2.5l-2.5 -2.5zM905.8 383.5l2.5 2.5l-2.5 2.5l-2.5 -2.5zM924.3 387.7l2.5 2.5l-2.5 2.5l-2.5 -2.5zM941.5 392.3l2.5 2.5l-2.5 2.5l-2.5 -2.5z"/><path fill="#ED7D31" d="M531.9 492.1l2.5 2.5l-2.5 2.5l-2.5 -2.5zM532.4 489.7l2.5 2.5l-2.5 2.5l-2.5 -2.5zM533 487.4l2.5 2.5l-2.5 2.5l-2.5 -2.5zM533.6 485.1l2.5 2.5l-2.5 2.5l-2.5 -2.5zM534.5 482.8l2.5 2.5l-2.5 2.5l-2.5 -2.5zM535.6 480.7l2.5 2.5l-2.5 2.5l-2.5 -2.5zM536.9 478.7l2.5 2.5l-2.5 2.5l-2.5 -2.5zM538.6 477l2.5 2.5l-2.5 2.5l-2.5 -2.5zM540.5 475.6l2.5 2.5l-2.5 2.5l-2.5 -2.5zM542.5 474.2l2.5 2.5l-2.5 2.5l-2.5 -2.5zM542.5 474.2l2.5 2.5l-2.5 2.5l-2.5 -2.5zM546.3 471.6l2.5 2.5l-2.5 2.5l-2.5 -2.5zM550.8 468.3l2.5 2.5l-2.5 2.5l-2.5 -2.5zM556 465.7l2.5 2.5l-2.5 2.5l-2.5 -2.5zM561.3 462.8l2.5 2.5l-2.5 2.5l-2.5 -2.5zM568.9 461.2l2.5 2.5l-2.5 2.5l-2.5 -2.5zM576.9 459.6l2.5 2.5l-2.5 2.5l-2.5 -2.5zM584.6 458.9l2.5 2.5l-2.5 2.5l-2.5 -2.5zM592.2 458.9l2.5 2.5l-2.5 2.5l-2.5 -2.5zM599.8 459.6l2.5 2.5l-2.5 2.5l-2.5 -2.5zM606.7 461.2l2.5 2.5l-2.5 2.5l-2.5 -2.5zM613.5 462.2l2.5 2.5l-2.5 2.5l-2.5 -2.5zM619.5 464.1l2.5 2.5l-2.5 2.5l-2.5 -2.5zM624.8 465.7l2.5 2.5l-2.5 2.5l-2.5 -2.5zM629.6 467.4l2.5 2.5l-2.5 2.5l-2.5 -2.5zM634.8 469.6l2.5 2.5l-2.5 2.5l-2.5 -2.5zM640.8 471.6l2.5 2.5l-2.5 2.5l-2.5 -2.5z"/><path fill="#FFC000" d="M531.1 492.1l2.5 2.5l-2.5 2.5l-2.5 -2.5zM531.8 489.5l2.5 2.5l-2.5 2.5l-2.5 -2.5zM532.5 487l2.5 2.5l-2.5 2.5l-2.5 -2.5zM533.4 484.5l2.5 2.5l-2.5 2.5l-2.5 -2.5zM534.4 482.1l2.5 2.5l-2.5 2.5l-2.5 -2.5zM535.5 479.8l2.5 2.5l-2.5 2.5l-2.5 -2.5zM536.7 477.4l2.5 2.5l-2.5 2.5l-2.5 -2.5zM538 475.2l2.5 2.5l-2.5 2.5l-2.5 -2.5zM538 475.2l2.5 2.5l-2.5 2.5l-2.5 -2.5zM540.1 469.6l2.5 2.5l-2.5 2.5l-2.5 -2.5zM542.8 464.4l2.5 2.5l-2.5 2.5l-2.5 -2.5zM546.3 457.9l2.5 2.5l-2.5 2.5l-2.5 -2.5zM550.8 451.1l2.5 2.5l-2.5 2.5l-2.5 -2.5zM556.5 443.9l2.5 2.5l-2.5 2.5l-2.5 -2.5zM563.7 434.2l2.5 2.5l-2.5 2.5l-2.5 -2.5zM573.3 423.5l2.5 2.5l-2.5 2.5l-2.5 -2.5zM584.2 409.5l2.5 2.5l-2.5 2.5l-2.5 -2.5zM597.8 394.9l2.5 2.5l-2.5 2.5l-2.5 -2.5zM615.5 379.6l2.5 2.5l-2.5 2.5l-2.5 -2.5zM637.6 362.1l2.5 2.5l-2.5 2.5l-2.5 -2.5z"/><path fill="#FF0000" d="M531.7 492.1l2.1 2.1l-2.1 2.1l-2.1 -2.1zM532.4 490.6l2.1 2.1l-2.1 2.1l-2.1 -2.1zM533 489.1l2.1 2.1l-2.1 2.1l-2.1 -2.1zM533.7 487.6l2.1 2.1l-2.1 2.1l-2.1 -2.1zM534.4 486.2l2.1 2.1l-2.1 2.1l-2.1 -2.1zM535.4 484.9l2.1 2.1l-2.1 2.1l-2.1 -2.1zM536.5 483.7l2.1 2.1l-2.1 2.1l-2.1 -2.1zM537.7 482.7l2.1 2.1l-2.1 2.1l-2.1 -2.1zM539.1 481.7l2.1 2.1l-2.1 2.1l-2.1 -2.1zM540.4 480.9l2.1 2.1l-2.1 2.1l-2.1 -2.1zM541.9 480.2l2.1 2.1l-2.1 2.1l-2.1 -2.1zM543.4 479.5l2.1 2.1l-2.1 2.1l-2.1 -2.1zM544.9 479l2.1 2.1l-2.1 2.1l-2.1 -2.1zM546.4 478.5l2.1 2.1l-2.1 2.1l-2.1 -2.1zM548 478.2l2.1 2.1l-2.1 2.1l-2.1 -2.1zM549.6 478l2.1 2.1l-2.1 2.1l-2.1 -2.1zM551.2 478l2.1 2.1l-2.1 2.1l-2.1 -2.1zM552.9 478.1l2.1 2.1l-2.1 2.1l-2.1 -2.1zM554.5 478.3l2.1 2.1l-2.1 2.1l-2.1 -2.1zM556.1 478.6l2.1 2.1l-2.1 2.1l-2.1 -2.1zM557.6 478.9l2.1 2.1l-2.1 2.1l-2.1 -2.1zM559.2 479.3l2.1 2.1l-2.1 2.1l-2.1 -2.1zM560.8 479.7l2.1 2.1l-2.1 2.1l-2.1 -2.1zM562.4 480.1l2.1 2.1l-2.1 2.1l-2.1 -2.1zM563.9 480.4l2.1 2.1l-2.1 2.1l-2.1 -2.1zM565.5 480.8l2.1 2.1l-2.1 2.1l-2.1 -2.1zM567.1 481.2l2.1 2.1l-2.1 2.1l-2.1 -2.1zM568.6 481.6l2.1 2.1l-2.1 2.1l-2.1 -2.1zM570.2 482.1l2.1 2.1l-2.1 2.1l-2.1 -2.1zM571.8 482.5l2.1 2.1l-2.1 2.1l-2.1 -2.1zM573.3 483l2.1 2.1l-2.1 2.1l-2.1 -2.1z"/></g></g><path fill="none" stroke="#404040" stroke-width="1.2" d="M530.7 364.5V494.5H691.5V364.5Z"/><path stroke="#404040" stroke-width="1" d="M570.9 494.5V491M530.7 462H534.2M611.1 494.5V491M530.7 429.5H534.2M651.3 494.5V491M530.7 397H534.2"/><text x="530.7" y="508.9" font-size="8.3" text-anchor="middle" font-weight="normal" fill="#505050" stroke="#505050" stroke-width="0.12" >0</text><text x="522.9" y="497.1" font-size="8.3" text-anchor="end" font-weight="normal" fill="#505050" stroke="#505050" stroke-width="0.12" >0</text><text x="570.9" y="508.9" font-size="8.3" text-anchor="middle" font-weight="normal" fill="#505050" stroke="#505050" stroke-width="0.12" >10</text><text x="522.9" y="464.6" font-size="8.3" text-anchor="end" font-weight="normal" fill="#505050" stroke="#505050" stroke-width="0.12" >10</text><text x="611.1" y="508.9" font-size="8.3" text-anchor="middle" font-weight="normal" fill="#505050" stroke="#505050" stroke-width="0.12" >20</text><text x="522.9" y="432.1" font-size="8.3" text-anchor="end" font-weight="normal" fill="#505050" stroke="#505050" stroke-width="0.12" >20</text><text x="651.3" y="508.9" font-size="8.3" text-anchor="middle" font-weight="normal" fill="#505050" stroke="#505050" stroke-width="0.12" >30</text><text x="522.9" y="399.6" font-size="8.3" text-anchor="end" font-weight="normal" fill="#505050" stroke="#505050" stroke-width="0.12" >30</text><text x="691.5" y="508.9" font-size="8.3" text-anchor="middle" font-weight="normal" fill="#505050" stroke="#505050" stroke-width="0.12" >40</text><text x="522.9" y="367.1" font-size="8.3" text-anchor="end" font-weight="normal" fill="#505050" stroke="#505050" stroke-width="0.12" >40</text><text x="682.4" y="518.6" font-size="8.9" text-anchor="end" font-weight="normal" fill="#222" stroke="#222" stroke-width="0.22" ><tspan font-style="italic">Z</tspan>' [kΩ]</text><g transform="translate(506.9 384.2) rotate(-90)"><text x="0" y="0" font-size="9" text-anchor="middle" font-weight="bold" fill="#222" >–<tspan font-style="italic">Z</tspan>'' [kΩ]</text></g></svg></body></html>
